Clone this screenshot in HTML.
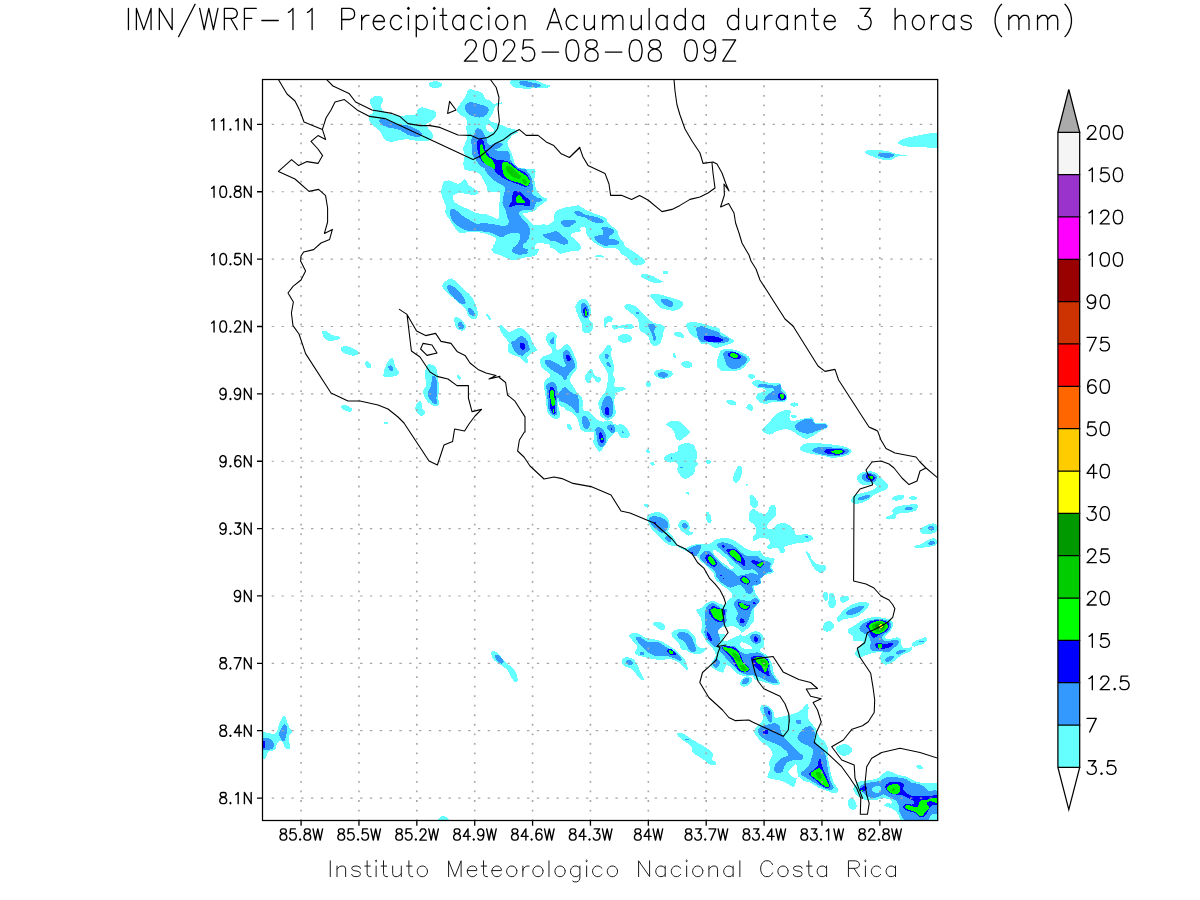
<!DOCTYPE html><html><head><meta charset="utf-8"><title>IMN WRF</title><style>html,body{margin:0;padding:0;background:#fff;font-family:"Liberation Sans",sans-serif}svg{display:block}</style></head><body>
<svg width="1200" height="900" viewBox="0 0 1200 900">
<rect width="1200" height="900" fill="#fff"/>
<clipPath id="cp"><rect x="262.5" y="79.5" width="675.2" height="741.0"/></clipPath>
<g clip-path="url(#cp)" shape-rendering="crispEdges"><path d="M370 100C370.6 99.1 372.3 97.3 374 96.6C375.7 95.9 378.2 95.4 380 96C381.8 96.6 383.4 98.1 383.6 100C383.8 101.9 381.1 103 381 105C380.9 107 381.4 109.4 383 111C384.6 112.6 387.4 113.2 390 114C392.6 114.8 397.2 115.8 400 116C402.8 116.2 405.2 115.3 408 115C410.8 114.7 414.4 115 416 114C417.6 113 417 110.1 418 109C419 107.9 420.5 107.3 422 107.4C423.5 107.5 427.8 108.7 430 109.4C432.2 110.1 434.9 110.2 436 112C437.1 113.8 436.1 116.2 435 118C433.9 119.8 431.4 120.9 430 122C428.6 123.1 425.7 123.3 426 125C426.3 126.7 431.2 131.4 432 133C432.8 134.6 433.8 136.4 433 138C432.2 139.6 430 140.6 428 141C426 141.4 421.5 141.3 418 141C414.5 140.7 410.8 139.6 408 139.4C405.2 139.2 402.8 139.6 400 140C397.2 140.4 393.7 142.2 391 142C388.3 141.8 385.7 140.6 384 139C382.3 137.4 382.4 134.9 381 133C379.6 131.1 376.8 128.8 375 127C373.2 125.2 371 123.9 370 122C369 120.1 368.4 117.9 369 116C369.6 114.1 372.4 113.7 373 112C373.6 110.3 372.5 108.5 372 107C371.5 105.5 370.3 104 370 103C369.7 102 369.4 100.9 370 100Z" fill="#66ffff"/><path d="M442 84.6C442 85.3 441.6 85.9 441.1 86.3C440.6 86.7 439.6 87.3 438.7 87.5C437.8 87.8 436.6 88 435.4 88C434.2 88 433 87.8 432.1 87.5C431.2 87.3 430.2 86.7 429.7 86.3C429.2 85.9 428.8 85.3 428.8 84.6C428.8 83.9 429.2 83.3 429.7 82.9C430.2 82.5 431.2 81.9 432.1 81.7C433 81.4 434.2 81.2 435.4 81.2C436.6 81.2 437.8 81.4 438.7 81.7C439.6 81.9 440.6 82.5 441.1 82.9C441.6 83.3 442 83.9 442 84.6Z" fill="#66ffff"/><path d="M468.8 89.4C470.7 88.4 472.8 90 475 90.6C477.2 91.2 480.7 91.8 482.5 93.1C484.3 94.5 484.4 97.6 485.6 98.8C486.8 99.9 488.6 99.8 490 100.6C491.4 101.5 492.1 103.5 493.8 103.8C495.4 104 500.8 102 502.5 102.5C504.2 103 499.2 104.4 498.1 105C497 105.6 495.7 105.8 495 106.9C494.3 107.9 494 110.6 493.1 112.5C492.2 114.4 490.5 116.7 490 117.5C489.5 118.3 488.2 119.2 488.8 120C489.3 120.8 491.9 121.8 493.8 122.5C495.6 123.2 497.9 123.6 500 124.4C502.1 125.2 504.8 126.6 507.5 127.5C510.2 128.4 515.4 129.6 516.2 130C517.1 130.4 518.1 131.7 517.5 132.5C516.9 133.3 513.7 134 512.5 135C511.3 136 510.9 137.4 510 138.8C509.1 140.1 507.7 140.9 507.5 142.5C507.3 144.1 508.1 145.8 508.8 147.5C509.4 149.2 510.5 150.7 511.2 152.5C512 154.3 512.4 156.2 513.1 158.1C513.8 160.1 514.7 164.4 516.2 166.2C517.8 168.1 520.4 168.5 522.5 169.4C524.6 170.2 526.9 170 528.8 171.2C530.6 172.5 531.6 174.3 532.5 176.2C533.4 178.2 534.2 181.1 534.4 183.8C534.6 186.4 536.5 191.2 533.8 192C531 192.8 510.7 192 505 192C499.3 192 491.2 192.9 488.8 192C486.3 191.1 487.3 187.3 486.2 185C485.2 182.7 483.5 180.5 482.5 178.8C481.5 177 481.6 174.9 480 173.8C478.4 172.6 475.1 172 472.5 171.2C469.9 170.5 466.8 171.1 465 169.4C463.2 167.7 463.5 165 463.5 162.5C463.5 160 465.1 156.9 465 155C464.9 153.1 463.2 151.8 463.1 150C463 148.2 463.8 146.7 464.4 145C464.9 143.3 466.5 140 466.9 138.8C467.3 137.5 467.6 136.3 467.5 135C467.4 133.7 466.2 129.3 466.2 127.5C466.2 125.7 467.7 124.3 467.5 122.5C467.3 120.7 466.4 118.9 465 117.5C463.6 116.1 461.4 116.3 460 115C458.6 113.7 457 112 456.9 110C456.8 108 458.3 106.7 459.4 105C460.4 103.3 462 101.7 463.1 100C464.3 98.3 465.3 96.8 466.2 95C467.2 93.2 466.8 90.3 468.8 89.4Z" fill="#66ffff"/><path d="M443.8 181.2C444.9 180.6 447.8 180.3 450 180.6C452.2 181 456.1 184 458.8 183.8C461.4 183.5 462.7 179.1 465 179.4C467.3 179.7 467 183.4 468.8 185C470.5 186.6 475.3 189.2 476.2 190C477.2 190.8 478.7 192 478.1 193.1C477.6 194.3 475.4 194.9 473.8 195C472.1 195.1 468.9 194.1 466.2 193.8C463.6 193.4 460.6 192.9 458.8 193.1C456.9 193.3 454.9 193.6 453.8 195C452.6 196.4 452.3 198.4 453.1 200C453.9 201.6 456.5 203.6 458.8 205C461 206.4 464.5 207.3 467.5 208.8C470.5 210.2 473 212.1 476.2 213.1C479.5 214.1 483 213.5 486.2 214.4C489.5 215.2 493.7 217.7 495 218.1C496.3 218.5 498.3 219.4 498.8 218.1C499.2 216.9 498.6 210.6 498.8 207.5C498.9 204.4 499.8 201.4 500 198.8C500.2 196.1 500.9 192.9 500 191.2C499.1 189.6 496.7 190.1 495 189.4C493.3 188.7 490.4 188.2 488.8 186.9C487.1 185.6 486.4 183.8 485.6 181.9C484.8 180 485.3 176.9 483.8 175C482.2 173.1 479.7 173 477.5 171.9C475.3 170.8 468.8 168.9 471.2 168.8C473.7 168.6 529.9 168.1 533.8 168.8C537.6 169.4 534 176.5 534.4 180C534.8 183.5 534.8 187.1 536.2 190C537.7 192.9 541 195.6 542.5 196.9C544 198.1 547.5 197.4 547.5 199.4C547.5 201.3 544.2 202.4 542.5 203.8C540.8 205.1 538.9 206.3 537.5 207.5C536.1 208.7 535.4 210.4 533.8 211.2C532.1 212.1 529.1 212 527.5 212.5C525.9 213 522.9 212.7 523.1 214.4C523.4 216 527 218.2 528.8 220C530.5 221.8 531.4 224.2 533.8 225C536.1 225.8 539.4 224.6 542.5 224.4C545.6 224.2 551.1 226 553.8 223.8C556.4 221.5 553.4 216.3 555 213.8C556.6 211.2 559.7 210.6 562.5 209.4C565.3 208.2 568.2 207.4 571.2 206.9C574.3 206.3 577.8 204.1 580 206.2C582.2 208.4 581.9 213.9 581.9 217.5C581.9 221.1 581 225.3 580 227.5C579 229.7 576.4 231.4 575 232.5C573.6 233.6 570.6 233.2 570.6 235C570.6 236.8 573.5 237.8 575 239.4C576.5 241 579.3 243.4 580 245C580.7 246.6 581.4 249 580 250C578.6 251 574.3 250.7 571.2 251.2C568.2 251.8 563.9 253.3 562.5 253.1C561.1 253 561.1 250.8 560 250C558.9 249.2 556.8 248.3 555 247.5C553.2 246.7 549.5 244.4 546.2 243.8C543 243.1 538.2 242.7 536.2 243.8C534.3 244.8 534.8 248.6 535 250C535.2 251.4 537.8 251.8 537.5 253.1C537.2 254.5 535.4 255.7 533.8 256.2C532.1 256.8 528 256.9 525 257.5C522 258.1 516.8 259.8 515 260C513.2 260.2 511.7 259.9 510 259.4C508.3 258.8 502.8 256.5 500 255C497.2 253.5 493.5 252.6 492.5 250C491.5 247.4 494.6 244 495 242.5C495.4 241 496.5 239.4 495.6 238.1C494.8 236.8 492.1 235.8 490 235C487.9 234.2 483.6 233 480 232.5C476.4 232 471.8 231.8 468.8 231.9C465.7 232 462.9 234.2 460 233.1C457.1 232 455.3 228.3 453.8 226.2C452.2 224.2 451.4 222.2 450 220C448.6 217.8 445.5 214.2 445 212.5C444.5 210.8 446.5 209.3 446.2 207.5C446 205.7 443.2 199.6 442.5 197.5C441.8 195.4 441.2 193.5 441.2 191.2C441.2 189 442.2 186.3 442.5 185C442.8 183.7 442.6 181.9 443.8 181.2Z" fill="#66ffff"/><path d="M555 212.5C557 210.1 561.2 208.5 565 207.5C568.8 206.5 575.8 205.9 578.8 206.2C581.7 206.6 583.6 208.8 586.2 210C588.9 211.2 591.9 212.5 595 213.8C598.1 215 602.9 216 605 217.5C607.1 219 607 221.9 608.8 223.8C610.5 225.6 616.2 229.1 617.5 230.6C618.8 232.2 617.8 234.5 618.8 236.2C619.7 238 623 241.3 623.8 242.5C624.5 243.7 624 245.3 625 246.2C626 247.2 629.1 248.6 631.2 250C633.4 251.4 638.2 255 640 256.2C641.8 257.5 644.4 258.8 645 260C645.6 261.2 644.9 263 643.8 263.8C642.6 264.5 638.2 265.7 636.2 265.6C634.3 265.5 632.7 264.5 631.2 263.1C629.8 261.8 629.2 259.1 627.5 257.5C625.8 255.9 622.9 255.2 621.2 253.8C619.6 252.3 619.5 249.7 617.5 248.8C615.5 247.8 612.6 248.3 610 248.1C607.4 247.9 604.9 248.3 602.5 247.5C600.1 246.7 598.3 245.2 596.2 243.8C594.2 242.3 591.5 240.3 590 238.8C588.5 237.2 586.9 235.4 586.2 233.8C585.6 232.1 586.8 229.9 586.2 228.8C585.7 227.6 584.3 227 583.1 226.9C582 226.8 580.6 227.2 580 228.1C579.4 229.1 581.5 230.5 580.6 231.2C579.8 232 576.7 231.9 575 232.5C573.3 233.1 570.6 233.2 570.6 235C570.6 236.8 573.5 237.8 575 239.4C576.5 241 579.6 243.1 580 245C580.4 246.9 579.2 249 577.5 250C575.8 251 571 251.3 568.8 251.2C566.5 251.2 563.8 249 562.5 249.4C561.2 249.8 563.4 252.2 562.5 253.1C561.6 254.1 559.9 253.7 558.8 253.1C557.6 252.5 554.9 249.6 553.8 248.8C552.6 247.9 550.3 248.3 550 246.9C549.7 245.4 548.4 227.2 548.8 225C549.1 222.8 552.8 223.2 553.8 221.2C554.7 219.3 553 214.9 555 212.5Z" fill="#66ffff"/><path d="M595 256.2C595.2 255.3 596.9 254.8 598.1 254.8C599.3 254.8 603.2 255.9 603.8 256.2C604.3 256.6 603.1 257.4 602.5 257.5C601.9 257.6 598.4 257.4 597.5 257.2C596.6 257.1 594.8 257.2 595 256.2Z" fill="#66ffff"/><path d="M641.2 275.2C642.5 272.8 647.6 274.5 650 275C652.4 275.5 654.1 277 656.2 278.1C658.4 279.2 661.9 280.5 662.5 281.2C663.1 282 661 282.6 660 282.8C659 282.9 654.4 282.9 652.5 282.5C650.6 282.1 649.1 281.1 647.5 280C645.9 278.9 640 277.7 641.2 275.2Z" fill="#66ffff"/><path d="M663.1 271.2L667.5 271.2L667.5 274.4L663.1 274.4Z" fill="#66ffff"/><path d="M898 142C898.8 141.2 903 139 906 138C909 137 912.5 136.7 916 136C919.5 135.3 922.4 134.3 926 134C929.6 133.7 938.5 131.1 942 134C945.5 136.9 945.9 144.7 942 147C938.1 149.3 924.9 147.1 920 147C915.1 146.9 908.2 146.7 906 146.4C903.8 146.1 901 145.2 900 144.6C899 144 897.2 142.8 898 142Z" fill="#66ffff"/><path d="M865 151.4C866 150.2 869.5 150 872 150C874.5 150 885.1 150.5 888 151C890.9 151.5 893.1 153.4 896 154C898.9 154.6 906.5 154.9 907 155C907.5 155.1 907.5 156.3 907 156.4C906.5 156.5 899 156.2 897 156.6C895 157 894 159.1 892 159.6C890 160.1 886.8 160.4 884 160C881.2 159.6 876.1 157.7 874 157C871.9 156.3 869.3 155.4 868 154.6C866.7 153.8 864 152.6 865 151.4Z" fill="#66ffff"/><path d="M322 332C322.2 330.6 324.6 330.6 326 331C327.4 331.4 329.7 334.1 332 335C334.3 335.9 338.1 335.5 339 336C339.9 336.5 340.5 338.4 339.6 339C338.7 339.6 333.2 341 331 341C328.8 341 326.6 340.6 325 339C323.4 337.4 321.8 333.4 322 332Z" fill="#66ffff"/><path d="M340.4 349C340.4 346.8 343.8 346 346 346C348.2 346 352 347.9 354 349C356 350.1 359 351 359 353C359 355 356 355.4 354 355.6C352 355.8 348.4 355.1 346 354C343.6 352.9 340.4 351.2 340.4 349Z" fill="#66ffff"/><path d="M365.4 362C365.8 361.2 367.2 361.1 368 361.6C368.8 362.1 371.4 364.7 371.6 366C371.8 367.3 370.3 368.6 369 368.6C367.7 368.6 366.7 367.2 366 366C365.3 364.8 365 362.8 365.4 362Z" fill="#66ffff"/><path d="M383.4 376C383.3 375 383.8 370.6 385 368C386.2 365.4 388.4 358.6 391.4 358C394.4 357.4 393.7 363.5 395 366C396.3 368.5 399.2 370.9 399 373C398.8 375.1 396 375.8 394 376.4C392 377 387 377 386 377C385 377 383.5 377 383.4 376Z" fill="#66ffff"/><path d="M426 368C426.9 366.2 428 364 430 364C432 364 434.7 365.8 436 368C437.3 370.2 437.5 374.5 438 378C438.5 381.5 439 387.2 439 390C439 392.8 437.9 395.8 438 398C438.1 400.2 439.7 402.6 439.4 404C439.1 405.4 437.4 406.5 436 406.4C434.6 406.3 430.8 404.4 429 403C427.2 401.6 426 400 425 398C424 396 422.8 393 423 391C423.2 389 425.8 388 426 386C426.2 384 425 376.1 425 374C425 371.9 425.1 369.8 426 368Z" fill="#66ffff"/><path d="M415 408C415.4 406.4 417.5 401 420 401C422.5 401 421.2 406.1 422 408C422.8 409.9 425.2 411.3 425 413C424.8 414.7 422.7 416.1 421 416C419.3 415.9 418 413.8 417 412.4C416 411 414.6 409.6 415 408Z" fill="#66ffff"/><path d="M341 406.4C341.6 404.9 344.2 404.6 346 405C347.8 405.4 351.4 407.9 352 409C352.6 410.1 351.3 411.8 350 412C348.7 412.2 345.4 410.9 344 410C342.6 409.1 340.4 407.9 341 406.4Z" fill="#66ffff"/><path d="M383.6 422.4L388 422.4L388 424L383.6 424Z" fill="#66ffff"/><path d="M457 375.6C457.2 374.9 458.4 374.5 459 375C459.6 375.5 461.3 378 461 379C460.7 380 458.8 379.7 458 379C457.2 378.3 456.8 376.3 457 375.6Z" fill="#66ffff"/><path d="M442 286C442.2 284.3 444.2 282.3 446 281C447.8 279.7 449.9 277.8 452 278.6C454.1 279.4 457.2 283.4 460 286C462.8 288.6 467.8 292.5 470 295C472.2 297.5 473.7 300 475 303C476.3 306 478 312 478 314C478 316 476.9 318.4 475 319C473.1 319.6 470.5 318.6 469 317C467.5 315.4 466.3 309.8 465 308C463.7 306.2 461.7 305.4 460 304C458.3 302.6 454.5 299.4 452 297C449.5 294.6 446.2 291.3 445 290C443.8 288.7 441.8 287.7 442 286Z" fill="#66ffff"/><path d="M454 319C454.3 317.8 455.7 316.8 457 317C458.3 317.2 460.6 318.5 462 320C463.4 321.5 465.8 325.4 466 327C466.2 328.6 464.6 330.2 463 330.6C461.4 331 458.5 330.2 457 329C455.5 327.8 455.5 325.7 455 324C454.5 322.3 453.7 320.2 454 319Z" fill="#66ffff"/><path d="M486 315C485.8 314.2 487.4 313.5 488 314C488.6 314.5 490.8 318.4 491 319C491.2 319.6 490.1 320.4 489.6 320C489.1 319.6 486.2 315.8 486 315Z" fill="#66ffff"/><path d="M492 249C493.6 248.9 535.8 248.7 538 249C540.2 249.3 537.8 253.8 536 255C534.2 256.2 529.5 256.2 526 257C522.5 257.8 518.3 260.2 514 260C509.7 259.8 504.8 257 502 256C499.2 255 495.3 253.9 494 253C492.7 252.1 490.4 249.1 492 249Z" fill="#66ffff"/><path d="M556 250C557 249.3 561 249.6 562 250C563 250.4 563.9 252.4 563 253C562.1 253.6 560.2 252.5 559 252C557.8 251.5 555 250.7 556 250Z" fill="#66ffff"/><path d="M650 295C651.2 293.1 655.2 293.6 658 294C660.8 294.4 668 296.6 672 298C676 299.4 681.8 300 683 303C684.2 306 679.9 308.7 677 310C674.1 311.3 671.1 310.5 668 310C664.9 309.5 661.5 308.8 659 307C656.5 305.2 655.3 301.8 654 300C652.7 298.2 648.8 296.9 650 295Z" fill="#66ffff"/><path d="M575.6 305C576.3 303.4 578.1 301 580 300C581.9 299 584.2 298.5 586 299.6C587.8 300.7 589.1 303.5 590 306C590.9 308.5 591.1 312.1 591 314C590.9 315.9 588.6 317.2 589 319C589.4 320.8 592.4 321.9 593 324C593.6 326.1 592.6 328.6 592 330C591.4 331.4 590.4 332.7 589 333C587.6 333.3 584.3 333.7 583 332C581.7 330.3 582.6 326.3 582 324C581.4 321.7 579.9 320.2 579 318C578.1 315.8 576.4 311.7 576 310C575.6 308.3 574.9 306.6 575.6 305Z" fill="#66ffff"/><path d="M624.4 306C625.1 304.5 627.9 303.7 630 304C632.1 304.3 635.6 306 638 308C640.4 310 643.4 314.6 646 317C648.6 319.4 650.9 321.4 654 323C657.1 324.6 662.2 323.8 664 326C665.8 328.2 663.5 331.2 663 334C662.5 336.8 662.1 340.1 661 342C659.9 343.9 657.8 345.6 656 346C654.2 346.4 652.2 345.5 651 344C649.8 342.5 649.8 338.4 648 336C646.2 333.6 641.9 333 640 330C638.1 327 639.3 322.7 638 320C636.7 317.3 633.7 315.5 632 314C630.3 312.5 628.2 311.2 627 310C625.8 308.8 623.7 307.5 624.4 306Z" fill="#66ffff"/><path d="M604 319C604.6 317.4 606.3 316.2 608 316C609.7 315.8 612.3 316.6 613 318C613.7 319.4 612.1 321.1 611 322C609.9 322.9 608 321.9 607 323C606 324.1 606.6 327 606 327.6C605.4 328.2 604.2 326.9 604 326C603.8 325.1 603.4 320.6 604 319Z" fill="#66ffff"/><path d="M612 325.6C613.3 324.7 617.2 325.8 620 325.6C622.8 325.4 628.3 323.8 630 324C631.7 324.2 634.6 325.4 634 327C633.4 328.6 630.2 328.8 628 329C625.8 329.2 622.2 327.9 620 328C617.8 328.1 615.5 330 614 329.6C612.5 329.2 610.7 326.5 612 325.6Z" fill="#66ffff"/><path d="M617.6 337C618.5 335.8 621.5 334.2 624 334C626.5 333.8 629.8 334.8 631 336C632.2 337.2 632.2 339.8 631 341C629.8 342.2 625.9 343 624 343C622.1 343 620.1 342 619 341C617.9 340 616.7 338.2 617.6 337Z" fill="#66ffff"/><path d="M674 333C674.6 332.2 676.5 331.4 678 331.6C679.5 331.8 682.1 333.1 683 334C683.9 334.9 685 336.8 684 337.6C683 338.4 680.4 337.3 679 337C677.6 336.7 675.8 336.2 675 335.6C674.2 335 673.4 333.8 674 333Z" fill="#66ffff"/><path d="M686 325C686.4 323.3 688.3 322.2 690 322C691.7 321.8 696.6 322.3 700 323C703.4 323.7 706.6 324.8 710 326C713.4 327.2 718.3 326.6 720 330C721.7 333.4 722.1 343.1 720 346C717.9 348.9 713.4 345.2 710 344C706.6 342.8 702.7 340.2 700 339C697.3 337.8 694 337.5 692 336C690 334.5 688.9 331.7 688 330C687.1 328.3 685.6 326.7 686 325Z" fill="#66ffff"/><path d="M673 354C673.2 353.3 674.6 353 675 353.6C675.4 354.2 676.3 357.2 676 358C675.7 358.8 674.1 358.3 673.6 357.6C673.1 356.9 672.8 354.7 673 354Z" fill="#66ffff"/><path d="M681 363C681.7 362.1 684.1 361 686 361C687.9 361 690.6 362 691.6 363C692.6 364 692.6 366.1 691.6 367C690.6 367.9 687.6 368.2 686 368C684.4 367.8 682.8 366.8 682 366C681.2 365.2 680.3 363.9 681 363Z" fill="#66ffff"/><path d="M654 372C654.7 370.5 657.1 369.9 659 369.6C660.9 369.3 666 369.5 668 370C670 370.5 672.5 371.3 673 373C673.5 374.7 671.5 376.2 670 377C668.5 377.8 664.3 379.1 662 379C659.7 378.9 657.3 377.5 656 376.4C654.7 375.3 653.3 373.5 654 372Z" fill="#66ffff"/><path d="M646 383C646.5 382.1 647.8 380.7 649 381C650.2 381.3 651 383.3 651 384.4C651 385.5 649.9 386.7 649 387C648.1 387.3 647 386.8 646.4 386C645.8 385.2 645.5 383.9 646 383Z" fill="#66ffff"/><path d="M486 314.4C485.8 313.9 487.2 313.6 487.6 314C488 314.4 490.8 318.4 491 319C491.2 319.6 490 320.4 489.6 320C489.2 319.6 486.2 314.9 486 314.4Z" fill="#66ffff"/><path d="M499.4 326.2C499.7 325.2 501.5 325.1 502.5 325.6C503.5 326.2 506.5 331.2 508.8 331.9C511 332.6 512.9 330 515 329.4C517.1 328.7 519.1 327.6 521.2 328.1C523.4 328.7 525.8 330.6 527.5 332.5C529.2 334.4 530.2 336.6 531.2 338.8C532.3 340.9 532.8 343.2 533.8 345C534.7 346.8 537.2 348.3 536.9 350C536.6 351.7 533.9 351.4 532.5 352.5C531.1 353.6 528.2 355.9 527.5 357.5C526.8 359.1 528.4 361.6 528.1 362.5C527.8 363.4 526.4 363.6 525.6 363.1C524.9 362.7 521.9 358.8 520 357.5C518.1 356.2 515.5 355.8 513.8 355C512 354.2 509.9 354.1 508.8 352.5C507.6 350.9 507.5 348.5 507.5 346.9C507.5 345.3 509.3 344 508.8 342.5C508.2 341 505 337.9 503.8 336.2C502.5 334.6 501.3 332.9 500.6 331.2C499.9 329.6 499 327.3 499.4 326.2Z" fill="#66ffff"/><path d="M546.2 336.2C546.7 335 547.5 333.8 548.8 333.1C550 332.5 552.2 331.9 553.8 332.5C555.3 333.1 556.6 334.6 556.9 336.2C557.2 337.9 555.5 340.3 555.6 342.5C555.7 344.7 555.8 348.9 557.5 350C559.2 351.1 560.7 347.8 562.5 346.9C564.3 345.9 566.2 343.5 568.1 344.4C570.1 345.2 571.2 348.7 572.5 351.2C573.8 353.8 575.5 357.5 576.2 360C577 362.5 577.7 365.9 577.5 367.5C577.3 369.1 575.9 370 575 371.2C574.1 372.5 572.1 374.6 571.2 376.2C570.4 377.9 569.8 379.7 570 381.2C570.2 382.8 571.7 383.7 572.5 385C573.3 386.3 574.8 389.2 576.2 391.2C577.7 393.3 580.1 395.1 581.2 397.5C582.4 399.9 582.2 403.3 582.5 405C582.8 406.7 581.9 408.8 583.1 410C584.4 411.2 587 410.2 588.8 411.2C590.5 412.3 591.9 414.6 593.8 416.2C595.6 417.9 597.4 420.3 600 421.2C602.6 422.2 608.1 421.5 610 421.9C611.9 422.3 613.2 423.7 615 424.4C616.8 425 620.5 424.9 622.5 426.2C624.5 427.6 628.6 431.6 626.2 432C623.9 432.4 589.5 432.1 587.5 432C585.5 431.9 583.3 431.6 581.9 430.6C580.4 429.6 580 427.9 579.4 426.2C578.8 424.6 578.4 420.7 577.5 418.8C576.6 416.8 575.4 415.2 573.8 413.8C572.1 412.3 569.3 411.2 567.5 410C565.7 408.8 563.9 407.9 562.5 406.2C561.1 404.6 561.1 400.5 559.4 400C557.6 399.5 558 403.2 558.1 405C558.2 406.8 559.8 410.7 560 412.5C560.2 414.3 560.4 416.3 559.4 417.5C558.4 418.7 556.6 419.1 555 418.8C553.4 418.4 551.4 417.1 550 415.6C548.6 414.1 547.4 412.2 546.9 410C546.3 407.8 546.6 404.3 546.2 401.2C545.9 398.2 545.4 395.1 545 392.5C544.6 389.9 543.7 386.9 543.8 385C543.8 383.1 544.6 381.6 545.6 380C546.7 378.4 549.9 377.6 550 375.6C550.1 373.6 547.6 372.7 546.2 371.2C544.9 369.8 542.3 368.2 541.2 366.2C540.2 364.3 539.5 361.8 540 360C540.5 358.2 542.1 357.2 543.8 356.2C545.4 355.3 550.1 354.6 551.2 353.8C552.4 352.9 552.9 351.3 552.5 350C552.1 348.7 549.8 346.7 548.8 345C547.7 343.3 546.6 341.3 546.2 340C545.9 338.7 545.8 337.5 546.2 336.2Z" fill="#66ffff"/><path d="M603.1 351.2C604.4 349.7 606.3 345.5 608.1 345C609.9 344.5 611.4 346.9 611.9 348.8C612.3 350.6 610.4 352.8 610.6 355C610.8 357.2 612.6 358.9 613.1 361.2C613.6 363.6 613.8 368.2 613.8 370C613.8 371.8 612.8 373.3 613.1 375C613.5 376.7 615.4 378.1 615.6 380C615.8 381.9 612.6 384.8 614.4 386.2C616.1 387.7 623.9 386 625.6 388.1C627.3 390.3 620 391.2 618.8 391.9C617.5 392.6 615.8 392.5 615 393.8C614.2 395 613.1 397.7 613.1 400C613.1 402.3 614.6 405.3 615 407.5C615.4 409.7 616.2 411.6 615.6 413.8C615 415.9 613.4 417.9 611.9 418.8C610.4 419.6 608.6 419.2 606.9 418.8C605.2 418.3 603.6 417.6 602.5 416.2C601.4 414.9 600.7 412.2 600 410C599.3 407.8 597.8 405 598.1 402.5C598.5 400 600.7 398.1 601.9 396.2C603.1 394.4 604.7 393.2 605.6 391.2C606.5 389.3 606.4 387.2 606.9 385C607.3 382.8 608 380.9 608.1 378.8C608.2 376.6 608.2 374.6 607.5 372.5C606.8 370.4 605.1 368.4 603.8 366.2C602.4 364.1 600.6 361.4 600 360C599.4 358.6 598.9 357.1 599.4 355.6C599.9 354.2 601.8 352.8 603.1 351.2Z" fill="#66ffff"/><path d="M585.6 375C586.2 373.8 589.3 369.9 590 369.4C590.7 368.8 591.9 369.3 592.5 370C593.1 370.7 593.1 373.7 594.4 375C595.7 376.3 599.2 376.9 600 377.5C600.8 378.1 601.5 379.1 601.2 380C601 380.9 599.9 382.2 598.8 382.5C597.6 382.8 596.5 382 595.6 381.2C594.7 380.5 594 377.9 593.1 377.5C592.2 377.1 591.1 377.9 590.6 378.8C590.1 379.6 590.7 381.7 590 382.5C589.3 383.3 587.8 383.8 586.9 383.1C586 382.4 585.5 380.1 585.2 378.8C585 377.4 585 376.2 585.6 375Z" fill="#66ffff"/><path d="M566.9 425.6C566.8 424.5 568.4 423.2 569.4 423.8C570.3 424.3 572.4 427.9 572.5 428.8C572.6 429.6 570.8 429.8 570 429.4C569.2 428.9 567 426.7 566.9 425.6Z" fill="#66ffff"/><path d="M510 81C511.2 80.2 516.5 79.5 520 79.4C523.5 79.3 530.3 79.3 534 80C537.7 80.7 541.9 83.1 544 84C546.1 84.9 551.6 85 550 86.6C548.4 88.2 543.5 87.7 540 88C536.5 88.3 532.2 88.6 528 88.6C523.8 88.6 518 88.4 516 88C514 87.6 511.9 86.1 511 85C510.1 83.9 508.8 81.8 510 81Z" fill="#66ffff"/><path d="M699 324C700.7 321.2 704.9 325.8 708 327C711.1 328.2 716.3 330.2 720 332C723.7 333.8 728.4 336.9 730 338C731.6 339.1 734.9 340 734 341.6C733.1 343.2 728.9 344 726 345C723.1 346 719.1 348.2 716 348C712.9 347.8 711 345 708 344C705 343 700.3 344.9 699 342C697.7 339.1 697.3 326.8 699 324Z" fill="#66ffff"/><path d="M717 361C717.4 359.3 719.1 353.5 720 352C720.9 350.5 722.3 349.2 724 349C725.7 348.8 732.6 349.2 736 350C739.4 350.8 742.9 352.7 745 354C747.1 355.3 749.8 356.5 750 359C750.2 361.5 747.7 363.1 746 365C744.3 366.9 742.6 369 740 370C737.4 371 732.8 370.8 730 371C727.2 371.2 724.3 371.9 722 371C719.7 370.1 717.8 367.6 717 366C716.2 364.4 716.6 362.7 717 361Z" fill="#66ffff"/><path d="M748 375.6C748.5 374.8 750.2 373.9 751.6 374C753 374.1 754.7 374.9 755 376C755.3 377.1 754.1 378.2 753 378.6C751.9 379 749.8 378.5 749 378C748.2 377.5 747.5 376.4 748 375.6Z" fill="#66ffff"/><path d="M752.4 381.6C753.2 380.9 756 379.8 758 380C760 380.2 766.5 382.4 770 383C773.5 383.6 778.4 382.9 780 383.6C781.6 384.3 781.1 386.6 782 388C782.9 389.4 785.1 391.1 786 393C786.9 394.9 787.6 397.2 787 399C786.4 400.8 784.8 402 783 402.4C781.2 402.8 776.9 401.3 774 401.6C771.1 401.9 768.5 403.9 766 404C763.5 404.1 760.7 403.2 759 402C757.3 400.8 756 398.8 756 397C756 395.2 757.6 394 759 393C760.4 392 766.5 392.6 766 390C765.5 387.4 760 388.9 758 388C756 387.1 753.7 385.2 753 384.4C752.3 383.6 751.6 382.3 752.4 381.6Z" fill="#66ffff"/><path d="M726 401C726.7 400.6 730.1 399.4 732 400C733.9 400.6 736.4 402.2 736 404C735.6 405.8 732.6 405.2 731 405C729.4 404.8 727.6 403.5 727 403C726.4 402.5 725.3 401.4 726 401Z" fill="#66ffff"/><path d="M746.4 407C746.7 406.3 747.6 404.2 749 404C750.4 403.8 751.6 404.9 752.4 406C753.2 407.1 753.5 409.1 753 410C752.5 410.9 751.1 410.8 750 410.6C748.9 410.4 747.5 409.5 747 409C746.5 408.5 746.1 407.7 746.4 407Z" fill="#66ffff"/><path d="M790 404.4C790.4 403.7 792.4 402.4 794 402.4C795.6 402.4 798.1 403 798.4 404.4C798.7 405.8 796.2 406.3 795 406.6C793.8 406.9 792.3 406.3 791.6 406C790.9 405.7 789.6 405.1 790 404.4Z" fill="#66ffff"/><path d="M791 416C791 414.9 792.9 414.9 794 415C795.1 415.1 797 415.2 797 416.4C797 417.6 795.2 418.1 794 418C792.8 417.9 791 417.1 791 416Z" fill="#66ffff"/><path d="M707 513C707.7 512.1 709.4 513 710 514C710.6 515 711.7 519.9 711.6 521C711.5 522.1 710.1 523.4 709 523C707.9 522.6 706.3 520.7 706 519C705.7 517.3 706.3 513.9 707 513Z" fill="#66ffff"/><path d="M647 517C647.6 514.8 649.9 513.7 652 513C654.1 512.3 657.3 511.9 660 512.6C662.7 513.3 665.3 514.6 667 517C668.7 519.4 669.9 525.4 670 527C670.1 528.6 667.6 529.5 668 531C668.4 532.5 671.5 534.7 673 537C674.5 539.3 677.2 543.2 677 545C676.8 546.8 673.8 546.3 672 546C670.2 545.7 667.9 544.4 666 543C664.1 541.6 662.2 539 660 537C657.8 535 654.8 533.2 653 531C651.2 528.8 650 526.3 649 524C648 521.7 646.4 519.2 647 517Z" fill="#66ffff"/><path d="M678 525C678.3 523.5 680.4 520.7 682 520C683.6 519.3 685.7 519.8 687 521C688.3 522.2 689.7 525.6 690 527C690.3 528.4 688.4 529.7 689 531C689.6 532.3 693.3 531.5 693 533C692.7 534.5 690 535.8 688 535.6C686 535.4 684.1 532.9 683 532C681.9 531.1 680.9 530.2 680 529C679.1 527.8 677.7 526.5 678 525Z" fill="#66ffff"/><path d="M559.4 394.4C562.6 392.6 576.5 393.8 578.8 394.4C581 394.9 581.7 397.9 582.5 400C583.3 402.1 583.3 404.8 583.1 406.2C582.9 407.7 580.3 408.9 581.2 410C582.2 411.1 585.5 410.2 587.5 411.2C589.5 412.3 590.9 414.8 592.5 416.2C594.1 417.7 595.9 419.1 597.5 420C599.1 420.9 600.7 421.8 602.5 421.9C604.3 422 605.7 420.6 607.5 420.6C609.3 420.6 611.1 420.8 612.5 421.9C613.9 422.9 613.6 425.7 615 426.2C616.4 426.8 617.3 424.6 618.8 424.4C620.2 424.2 622.2 424.1 623.8 425C625.3 425.9 627.1 428.4 628.1 430C629.1 431.6 630 433.9 630 435C630 436.1 629.1 437.1 628.1 437.5C627.1 437.9 624.2 438.6 622.5 438.1C620.8 437.7 619.7 436.3 618.8 435C617.8 433.7 617.6 431.1 616.9 430.6C616.1 430.1 615.7 431.8 615 432.5C614.3 433.2 613.4 434.1 612.5 435C611.6 435.9 609.8 437.2 608.8 438.8C607.7 440.3 607.3 442.1 606.2 443.8C605.2 445.4 603.4 447.6 602.5 448.8C601.6 449.9 601.4 451.9 600 451.9C598.6 451.9 597.8 450 596.9 448.8C596 447.5 593.6 444.7 593.1 442.5C592.7 440.3 594.3 438 594.4 436.2C594.5 434.5 594.2 432.4 593.8 431.2C593.3 430.1 592.5 428.8 591.2 428.8C590 428.8 587.9 431.1 586.2 431.2C584.6 431.4 583.1 430.5 581.9 429.4C580.6 428.3 579.9 426.7 579.4 425C578.8 423.3 579 421.4 578.8 420C578.5 418.6 578.3 417.4 577.5 416.2C576.7 415.1 574.1 412 572.5 411.2C570.9 410.5 569.1 411.9 567.5 411.2C565.9 410.6 565.1 408.6 563.8 407.5C562.4 406.4 559.9 406.7 559.4 405C558.8 403.3 556.1 396.2 559.4 394.4Z" fill="#66ffff"/><path d="M598.1 402.5C598.2 400.4 600.5 398.7 601.2 397.5C602 396.3 602.4 394.7 603.8 394.4C605.1 394.1 613 393 615 394.4C617 395.8 613.8 399 613.8 401.2C613.8 403.5 614.7 405.3 615 407.5C615.3 409.7 616 412.1 615.6 413.8C615.2 415.4 613.8 416.4 612.5 417.5C611.2 418.6 609.3 420.5 607.5 420.6C605.7 420.7 604.4 419.1 603.1 418.1C601.9 417.2 600.4 416.5 600 415C599.6 413.5 601 410.9 600.6 408.8C600.3 406.6 598 404.6 598.1 402.5Z" fill="#66ffff"/><path d="M566.9 425.6C567.3 424.8 568.5 423.9 569.4 424.4C570.2 424.9 572.4 427.8 572.5 428.8C572.6 429.7 571 430.1 570 430C569 429.9 568 428.9 567.5 428.1C567 427.4 566.5 426.4 566.9 425.6Z" fill="#66ffff"/><path d="M666.2 423.8C666.7 423.3 669.3 421.7 671.2 421.2C673.2 420.8 675.4 420.4 677.5 421C679.6 421.6 681.4 422.9 683.1 424.4C684.9 425.9 689.5 430.6 690 431.9C690.5 433.2 688.6 434.1 687.5 435C686.4 435.9 681.4 440.2 680 440.6C678.6 441.1 677.1 440 676.2 438.8C675.4 437.5 675.2 434.2 674.4 432.5C673.6 430.8 672.6 429.3 671.2 428.1C669.9 426.9 667.4 426.1 666.9 425.6C666.4 425.2 665.8 424.2 666.2 423.8Z" fill="#66ffff"/><path d="M664.4 457.5C664.9 456.5 666.9 454.6 668.8 453.8C670.6 452.9 675.3 453.1 676.9 451.9C678.4 450.6 676.8 447.7 678.1 446.2C679.5 444.8 682.4 443.5 685 443.1C687.6 442.8 690.8 443.5 692.5 444.4C694.2 445.3 694.9 447 695.6 448.8C696.4 450.5 697.5 454.4 697.5 456.2C697.5 458.1 695.5 459.9 695.6 461.2C695.7 462.6 698.3 463 698.1 464.4C698 465.8 695.7 466.1 695 467.5C694.3 468.9 695.2 472 693.8 473.8C692.3 475.5 688 478.5 685.6 478.8C683.3 479 681.3 476.4 680 475C678.7 473.6 678 471.9 677.5 470C677 468.1 678.6 464.8 676.9 463.1C675.2 461.4 671.8 462.9 670 462.5C668.2 462.1 665.8 461.4 665 460.6C664.2 459.9 663.8 458.5 664.4 457.5Z" fill="#66ffff"/><path d="M646.2 450.6C646.4 449.8 647.3 448.3 648.1 448.8C649 449.2 650.1 451.6 650 452.5C649.9 453.4 648.3 453.1 647.5 452.8C646.7 452.4 646.1 451.5 646.2 450.6Z" fill="#66ffff"/><path d="M650.2 463.8C650.3 462.8 651.5 461.7 652.5 461.9C653.5 462 654.8 463.4 654.8 464.4C654.7 465.4 653.2 465.8 652.2 465.6C651.3 465.5 650.2 464.7 650.2 463.8Z" fill="#66ffff"/><path d="M686.2 492.5C686.6 492.1 688 491.4 688.8 491.9C689.5 492.4 689.2 493.9 688.8 494.4C688.3 494.9 687.3 494.3 686.9 494C686.4 493.7 685.9 492.9 686.2 492.5Z" fill="#66ffff"/><path d="M644.4 504.4C644.9 503.5 646.5 503.2 647.5 503.8C648.5 504.3 649.3 506.1 648.8 507C648.2 507.9 646.5 507.5 645.6 507C644.8 506.5 643.9 505.3 644.4 504.4Z" fill="#66ffff"/><path d="M706.9 461.2C707.3 460.6 709.1 459.3 710 460C710.9 460.7 710.4 463.2 710 463.8C709.6 464.3 708.7 463.6 708.1 463.1C707.6 462.7 706.5 461.9 706.9 461.2Z" fill="#66ffff"/><path d="M800 449C800 447.2 802 445 804 444C806 443 809.2 443 812 443C814.8 443 822.4 443.4 828 444C833.6 444.6 841.1 445.8 844 446.6C846.9 447.4 850.7 448.8 851.6 450.6C852.5 452.4 849.7 454 848 455C846.3 456 842.8 456.5 840 457C837.2 457.5 834.8 458.2 832 458C829.2 457.8 826.8 456.6 824 456C821.2 455.4 814.8 454.6 812 454C809.2 453.4 805.6 452.7 804 452C802.4 451.3 800 450.8 800 449Z" fill="#66ffff"/><path d="M705.6 461C705.9 459.8 708 459.8 709 460C710 460.2 711.2 461 711 462C710.8 463 709.2 464.2 708 464C706.8 463.8 705.3 462.2 705.6 461Z" fill="#66ffff"/><path d="M733 477C733.4 475.6 736.1 469.3 737 468C737.9 466.7 739.6 465.2 741 466C742.4 466.8 742.5 469.2 742.4 471C742.3 472.8 740.9 477.3 740 479C739.1 480.7 737.1 482.7 736 483C734.9 483.3 733.9 482 733.4 481C732.9 480 732.6 478.4 733 477Z" fill="#66ffff"/><path d="M745.6 485L748.6 483L747 486.6Z" fill="#66ffff"/><path d="M749.6 496C749.9 495 751.6 494.4 752.4 495C753.2 495.6 757.4 500.3 758 502C758.6 503.7 758.2 505.9 757 507C755.8 508.1 753.8 508.2 752.4 507.4C751 506.6 750.4 504.7 750 503C749.6 501.3 749.3 497 749.6 496Z" fill="#66ffff"/><path d="M706 513C706.2 512.1 707.8 511.3 708.4 512C709 512.7 711.5 517.3 711.6 519C711.7 520.7 710.4 522.7 709 523C707.6 523.3 706.8 521.3 706.4 520C706 518.7 705.8 513.9 706 513Z" fill="#66ffff"/><path d="M749 515C749.6 512.6 750.5 509.5 753 509C755.5 508.5 757.6 512.3 760 513C762.4 513.7 765 514.4 767 513C769 511.6 768.7 507.2 770 506C771.3 504.8 774 503.9 775 505.4C776 506.9 776.9 512.2 776 515C775.1 517.8 771.4 519.1 770 521C768.6 522.9 766.5 525.2 767 527C767.5 528.8 770.2 529.5 772 529C773.8 528.5 775.5 525 778 524C780.5 523 783.3 522.7 786 523.4C788.7 524.1 791.1 526 793 528C794.9 530 794.4 533.8 797 535C799.6 536.2 803.2 533.5 806 534C808.8 534.5 812.5 535.8 813 538C813.5 540.2 810.1 541.3 808 542C805.9 542.7 800.8 542.5 798 543C795.2 543.5 792.1 544.4 790 545C787.9 545.6 784.9 545.9 784 547C783.1 548.1 785.6 549.7 785 551C784.4 552.3 782.5 553.5 781 553C779.5 552.5 779.1 548.8 777 548C774.9 547.2 771.3 549.1 770 549C768.7 548.9 767 548.3 767 547C767 545.7 769.8 544.6 770 543C770.2 541.4 769.4 539.7 768 539C766.6 538.3 762.3 537.7 760 538C757.7 538.3 755.4 541.2 754 541C752.6 540.8 752.6 538.4 753 537C753.4 535.6 755.7 534.7 756 533C756.3 531.3 756 526.8 755 525C754 523.2 751 523.8 750 522C749 520.2 748.4 517.4 749 515Z" fill="#66ffff"/><path d="M805.6 551.4C805.4 550.1 808.2 552 809 553C809.8 554 811.1 558.9 813 561C814.9 563.1 818.1 564.3 820 565C821.9 565.7 824.5 564.6 825.6 566C826.7 567.4 826.1 569.6 825 571C823.9 572.4 821.8 573.5 820 573C818.2 572.5 815.8 570.1 814 568C812.2 565.9 811.3 563.5 810 561C808.7 558.5 805.8 552.7 805.6 551.4Z" fill="#66ffff"/><path d="M857.4 476C858 474.1 860.1 473.2 862 472.6C863.9 472 869.3 471 872 471.4C874.7 471.8 877.2 473.6 879 475C880.8 476.4 881.5 478.3 883 480C884.5 481.7 887.4 483.7 888 485C888.6 486.3 888.1 488 887 489C885.9 490 882.1 491 880 492C877.9 493 876 493.7 874 495C872 496.3 870.3 498.6 868 500C865.7 501.4 862.4 502.9 860 503.4C857.6 503.9 854.3 503.9 853 503.4C851.7 502.9 850.7 501.3 851 500C851.3 498.7 853.1 496.2 855 495C856.9 493.8 859.5 493.7 862 493C864.5 492.3 867.8 491.8 870 491C872.2 490.2 875.3 488.7 876 488C876.7 487.3 876.7 485.7 876 485C875.3 484.3 873.4 484 872 484C870.6 484 868.1 485.2 866 485C863.9 484.8 860.7 484.8 859 483C857.3 481.2 856.8 477.9 857.4 476Z" fill="#66ffff"/><path d="M892 498C892.5 497.4 895.1 495.8 897 495.4C898.9 495 902.9 494.7 904 495.4C905.1 496.1 904 498.2 903 499C902 499.8 898.4 500.5 897 500.6C895.6 500.7 893.7 500.4 893 500C892.3 499.6 891.5 498.6 892 498Z" fill="#66ffff"/><path d="M909 498C909.3 497.5 910.7 496.1 912 496C913.3 495.9 916.3 496.7 917 497.4C917.7 498.1 916.9 499.7 916 500C915.1 500.3 910.6 499.6 910 499.4C909.4 499.2 908.7 498.5 909 498Z" fill="#66ffff"/><path d="M892.4 510C893.1 508.8 895.1 507.3 897 506.6C898.9 505.9 902.8 505.4 906 505C909.2 504.6 914.8 503.8 916 504C917.2 504.2 918.2 505.8 918 507C917.8 508.2 916.5 510.1 915 511C913.5 511.9 910.5 512.3 908 512.6C905.5 512.9 901.7 512.5 900 513C898.3 513.5 896.7 515.1 896 516C895.3 516.9 896 518.5 895 519C894 519.5 891.5 519.6 890 519.4C888.5 519.2 886 519.5 886 518C886 516.5 889 516 890 515.4C891 514.8 892.5 515.1 893 514C893.5 512.9 891.7 511.2 892.4 510Z" fill="#66ffff"/><path d="M920 530C920.4 528.3 923 527.1 925 526C927 524.9 930.2 523.6 932 523.4C933.8 523.2 936 523.5 937 525C938 526.5 938.3 529.3 937 531C935.7 532.7 932.4 533.5 930 534C927.6 534.5 924.6 534.6 923 534C921.4 533.4 919.6 531.7 920 530Z" fill="#66ffff"/><path d="M914 546C914.8 545.4 918 545.4 920 544.6C922 543.8 923.8 542 926 541C928.2 540 932.5 538 934 538C935.5 538 936.6 539.6 937 541C937.4 542.4 937.2 544.2 936 545C934.8 545.8 930.8 546.5 928 547C925.2 547.5 921.4 547.9 920 548C918.6 548.1 916.9 548.3 916 548C915.1 547.7 913.2 546.6 914 546Z" fill="#66ffff"/><path d="M823 594C823.3 592.9 824.5 591.8 825.6 592C826.7 592.2 827.8 593.7 828 595C828.2 596.3 827.9 600.1 827 601C826.1 601.9 824.6 600.1 824 599C823.4 597.9 822.7 595.1 823 594Z" fill="#66ffff"/><path d="M829 595C829.4 593.7 830.7 592.1 832 592.6C833.3 593.1 833.8 595.4 834.4 597C835 598.6 836.4 601.5 836 603C835.6 604.5 833.5 605.5 832 605C830.5 604.5 830.1 602.6 829.6 601C829.1 599.4 828.6 596.3 829 595Z" fill="#66ffff"/><path d="M840 598C840.5 596.5 842.4 596.1 844 596C845.6 595.9 848.3 596.2 849 597.4C849.7 598.6 848.2 600.1 847 601C845.8 601.9 843.6 603.3 842 602.6C840.4 601.9 839.5 599.5 840 598Z" fill="#66ffff"/><path d="M677.5 545.6C678.7 545.6 682.2 548.2 685 548.1C687.8 548 689.8 545.7 692.5 545C695.2 544.3 698.2 544 701.2 543.8C704.3 543.5 707.9 544.3 710 543.8C712.1 543.2 713 540.9 715 540C717 539.1 719.9 538.3 722.5 538.1C725.1 537.9 727.5 538 730 538.8C732.5 539.5 735 541 737.5 542.5C740 544 743.4 547.3 746.2 548.8C749.1 550.2 753.3 551 755 551.2C756.7 551.5 758.5 549.8 760 550.6C761.5 551.5 762.3 555.1 763.8 556.2C765.2 557.4 767 557.1 768.8 557.5C770.5 557.9 773.3 557.3 774.4 558.8C775.4 560.2 773.6 562.4 773.1 563.8C772.6 565.1 771.1 566 771.2 567.5C771.4 569 774.1 569.7 773.8 571.2C773.4 572.8 771.4 573.1 770 573.8C768.6 574.4 766.4 574.4 765 575C763.6 575.6 762 576.1 761.2 577.5C760.5 578.9 761.6 581.3 761.2 582.5C760.9 583.7 759.8 584.4 758.8 585C757.7 585.6 754.6 585.5 753.8 586.9C752.9 588.2 754.5 589.8 755 591.2C755.5 592.7 756 594.2 756.9 595.6C757.7 597.1 759.8 598.5 760 600C760.2 601.5 758.9 602.5 758.1 603.8C757.3 605 755.9 606.1 755 607.5C754.1 608.9 752.7 610.7 752.5 612.5C752.3 614.3 753.6 615.7 753.8 617.5C753.9 619.3 754.3 621.1 753.1 622.5C752 623.9 748.5 624.1 747.5 625C746.5 625.9 747.2 627.8 746.2 628.8C745.3 629.7 742.5 632.3 740 632.5C737.5 632.7 703.5 632.9 701.2 632.5C699 632.1 702.5 628.5 702.5 626.2C702.5 624 701.3 621.8 701.2 620C701.2 618.2 702.3 616.7 701.9 615C701.4 613.3 698.3 612 698.8 610C699.2 608 702.3 607.5 703.8 606.2C705.2 605 705.8 603.3 707.5 602.5C709.2 601.7 711.5 601 713.8 601.2C716 601.5 718.3 603.2 720 603.8C721.7 604.3 723.4 605.8 725 605C726.6 604.2 726.8 601.5 728.1 600C729.4 598.5 732.1 598.2 732.5 596.2C732.9 594.3 731 592.6 730 591.2C729 589.9 727.6 589.2 726.2 588.1C724.9 587.1 721.9 585.3 720 583.8C718.1 582.2 716 580.3 715 578.8C714 577.2 714.8 575.3 713.8 573.8C712.7 572.2 709.2 569.2 707.5 567.5C705.8 565.8 703.8 563.8 702.5 562.5C701.2 561.2 699.8 560 698.8 558.8C697.7 557.5 697.6 555.9 696.2 555C694.9 554.1 692.9 554.4 691.2 553.8C689.6 553.1 686.8 551.5 685 550.6C683.2 549.8 681 548.8 680 548.1C679 547.4 676.3 545.6 677.5 545.6Z" fill="#66ffff"/><path d="M659.4 622.5C660.6 621.3 662.9 623.6 663.8 624.4C664.6 625.2 665.3 626.4 665 627.5C664.7 628.6 663.6 629.1 662.5 629.4C661.4 629.6 659.8 629.8 659.4 628.8C658.9 627.7 658.2 623.7 659.4 622.5Z" fill="#66ffff"/><path d="M491.2 652.5C491.8 650.8 494.7 651.1 496.2 652C497.8 652.9 500.8 657 502.5 658.8C504.2 660.5 505.7 662.1 507.5 663.8C509.3 665.4 512.1 666.5 513.8 668.8C515.4 671 517.2 675.7 517.5 677.5C517.8 679.3 518.1 682.5 516.2 682.5C514.4 682.5 512.7 679.5 511.2 677.5C509.8 675.5 509.4 672.2 507.5 670C505.6 667.8 502.2 666.1 500 664.5C497.8 662.9 495.3 662.2 493.8 660C492.2 657.8 490.7 654.2 491.2 652.5Z" fill="#66ffff"/><path d="M261.2 733.8C263.9 729.7 272 735.2 275 733.8C278 732.3 277.3 728 278.8 725C280.2 722 281.3 717 283.8 716.2C286.2 715.5 286.4 720.4 287.5 722.5C288.6 724.6 289.4 727.7 290 728.8C290.6 729.8 292.7 730 292.5 731.2C292.3 732.5 289.1 734.1 288.8 736.2C288.4 738.4 290.6 747 290 748.8C289.4 750.5 286.4 748.7 285 747.5C283.6 746.3 283.4 741.9 281.2 741.2C279.1 740.6 277.3 743.5 276.2 745C275.2 746.5 276.4 748.8 275 750C273.6 751.2 270.4 749.8 268.8 751.2C267.1 752.7 266.7 757.9 265 758.8C263.3 759.6 261.5 756.8 261.2 755C261 753.2 258.6 737.8 261.2 733.8Z" fill="#66ffff"/><path d="M438 821.2C436.3 820.1 440.2 817 441.2 816.2C442.3 815.5 443.9 815.5 445 816.2C446.1 817 450.5 820 448.8 821.2C447 822.5 439.7 822.4 438 821.2Z" fill="#66ffff"/><path d="M653 623C653.7 622 656.2 621.3 658 621.6C659.8 621.9 663 624 664 625C665 626 665.9 627.9 665 629C664.1 630.1 661.7 630.1 660 629.6C658.3 629.1 655.9 626.9 655 626C654.1 625.1 652.3 624 653 623Z" fill="#66ffff"/><path d="M629.6 635C630.7 633.4 634.4 632.5 637 633C639.6 633.5 642.6 636.9 646 638C649.4 639.1 654.3 638.8 658 640C661.7 641.2 665.8 643.8 668 645C670.2 646.2 672 647.5 674 649C676 650.5 678.1 652.1 680 654C681.9 655.9 683.8 657.6 685 660C686.2 662.4 688.2 668.4 688 670C687.8 671.6 685.2 669 684 668C682.8 667 680.5 663.6 678 662C675.5 660.4 673 659.3 670 659C667 658.7 663.5 660.2 660 660C656.5 659.8 650.8 658.6 648 658C645.2 657.4 641.9 656.7 640 656C638.1 655.3 635.6 655 635 653C634.4 651 637.6 648.5 637 646C636.4 643.5 633.1 641.6 632 640C630.9 638.4 628.5 636.6 629.6 635Z" fill="#66ffff"/><path d="M672 632C673.3 630.3 677.2 629.4 680 629C682.8 628.6 685.5 628.7 688 630C690.5 631.3 693.4 634.2 695 637C696.6 639.8 696 644.4 697 646C698 647.6 700.6 647.5 702 648C703.4 648.5 706.5 647.6 706 649C705.5 650.4 702.6 653.3 700 654C697.4 654.7 693 653.6 691 653C689 652.4 687.7 650.7 686 650C684.3 649.3 682.3 650.3 681 649C679.7 647.7 680.3 644.8 679 643C677.7 641.2 674.1 639.8 673 638C671.9 636.2 670.7 633.7 672 632Z" fill="#66ffff"/><path d="M622 660C622.6 658.7 624.3 657.2 626 657C627.7 656.8 631.1 657.8 633 659C634.9 660.2 635.9 662.1 637 664C638.1 665.9 638.9 668.6 640 671C641.1 673.4 643.9 677.9 644 679C644.1 680.1 641.9 680.2 641 679.6C640.1 679 637.5 675.7 636 674C634.5 672.3 633.8 670.3 632 669C630.2 667.7 627.5 667.8 626 667C624.5 666.2 623.1 665.2 622.4 664C621.7 662.8 621.4 661.3 622 660Z" fill="#66ffff"/><path d="M677 733.6C677.8 732.5 680.3 732.4 682 733C683.7 733.6 687.2 736.3 690 738C692.8 739.7 697.2 742.3 700 744C702.8 745.7 706 747.5 708 749C710 750.5 712.3 752.3 713 754C713.7 755.7 711.5 757.3 712 759C712.5 760.7 716.7 762 716 764C715.3 766 712 765.1 710 764.4C708 763.7 706.1 761.4 704 760C701.9 758.6 699.7 757.1 698 756C696.3 754.9 694.2 754.7 693 753C691.8 751.3 692.5 748 691 746C689.5 744 685.8 742.3 684 741C682.2 739.7 679.9 738 679 737C678.1 736 676.2 734.7 677 733.6Z" fill="#66ffff"/><path d="M823 626C823.4 624.4 825.4 622.3 827 621.6C828.6 620.9 830.7 621.2 832 622C833.3 622.8 834.3 624.5 834 626C833.7 627.5 831.6 630.2 830 631C828.4 631.8 826.4 631.4 825 630.4C823.6 629.4 822.6 627.6 823 626Z" fill="#66ffff"/><path d="M828 602C828.4 600.5 830.4 600 832 600C833.6 600 835.6 600.5 836 602C836.4 603.5 835.1 607.1 834 608C832.9 608.9 831 608 830 607C829 606 827.6 603.5 828 602Z" fill="#66ffff"/><path d="M837 618C837 616.9 839.3 616.1 840 617C840.7 617.9 841.7 621.4 840 622C838.3 622.6 837 619.1 837 618Z" fill="#66ffff"/><path d="M697.5 609.4C693.5 610.2 701.9 617.9 702.5 620C703.1 622.1 701.9 624.1 701.9 626.2C701.9 628.4 701.8 631.2 702.5 633.8C703.2 636.3 705 639.3 706.2 641.2C707.5 643.2 709.2 644.6 710.6 646.2C712 647.9 713.6 649.6 714.4 651.2C715.2 652.9 716 654.5 715.6 656.2C715.3 658 713.2 659.6 712.5 661.2C711.8 662.9 710.5 664.6 711.2 666.2C712 667.9 714.3 668.9 716.2 670C718.2 671.1 721 672.7 722.5 672.5C724 672.3 723.6 670 724.4 668.8C725.2 667.5 725.8 665 727.5 665C729.2 665 730.9 667.3 732.5 668.8C734.1 670.2 735.4 672.5 737.5 673.8C739.6 675 742.4 675.8 745 676.2C747.6 676.7 751.2 675.8 752.5 676.2C753.8 676.7 753.7 678.7 755 679.4C756.3 680 761.5 681.5 765 682.5C768.5 683.5 773.2 684.9 775 685C776.8 685.1 779.3 685.4 780 683.8C780.7 682.1 778.5 680.4 777.5 678.8C776.5 677.1 774.6 675.8 773.8 673.8C772.9 671.7 773.1 668.5 772.5 666.2C771.9 664 771.1 661.9 770 660C768.9 658.1 767.4 656.1 766.2 655C765.1 653.9 763.5 653.3 762.5 652.5C761.5 651.7 759.8 651.2 760 650C760.2 648.8 763.2 648 763.8 646.2C764.3 644.5 764 640.6 763.8 638.8C763.5 636.9 763.3 635 761.9 633.8C760.5 632.5 756.9 631.3 755 631.2C753.1 631.2 751.7 632.3 750 633.1C748.3 634 746.6 636.1 745 636.2C743.4 636.4 740.6 635.2 741.2 633.8C741.9 632.3 747 629.4 748.8 627.5C750.5 625.6 752 623.7 752.5 621.2C753 618.8 756.6 610.3 752.5 609.4C748.4 608.5 701.5 608.5 697.5 609.4Z" fill="#66ffff"/><path d="M823.1 626.2C823.4 624.9 824.3 623.4 825.6 622.5C826.9 621.6 828.5 621 830 621.5C831.5 622 833.3 623.5 833.8 625C834.2 626.5 833.6 628.2 832.5 629.4C831.4 630.5 828.7 631.4 827.5 631.5C826.3 631.6 825.2 630.9 824.4 630C823.6 629.1 822.9 627.6 823.1 626.2Z" fill="#66ffff"/><path d="M760 707.5C760.5 706.1 761.8 704.8 763.3 704.7C764.9 704.5 767.4 705.4 769.2 706.7C770.9 707.9 772.3 709.8 773.3 711.7C774.3 713.5 773.2 716.4 775 717.5C776.8 718.6 779.3 717.1 781.7 716.7C784 716.3 787.6 715.7 790 715C792.4 714.3 794.3 713.4 796.7 712.5C799 711.6 801.5 711.5 803.3 710C805.1 708.5 805.1 704.6 806.7 704.2C808.2 703.7 808.5 706.7 808.7 708.3C808.8 709.9 807.3 712.6 807.5 715C807.7 717.4 808.7 719.6 810 721.7C811.3 723.8 814.2 725.7 815.8 728.3C817.5 731 817.6 734.5 819.2 736.7C820.7 738.9 823.5 739.5 825 741.7C826.5 743.9 827.9 747.7 828.3 750C828.7 752.3 827.4 754.3 827.5 756.7C827.6 759 828.7 761 829.2 763.3C829.6 765.7 830 769.9 830.8 773.3C831.7 776.8 833 780.8 834.2 783.3C835.3 785.8 838.2 788.4 838.3 790C838.5 791.6 836.6 793.2 835 793.3C833.4 793.5 829.5 791.8 826.7 790.8C823.8 789.8 821.1 788.9 818.3 787.5C815.5 786.1 812.2 783.5 810 782.5C807.8 781.5 805.4 781.9 803.3 780.8C801.3 779.8 800.5 776.2 798.3 776.7C796.2 777.1 796.6 781 795.8 782.5C795.1 784 795 786.3 793.3 786.7C791.7 787 790.1 785 788.3 784.2C786.6 783.3 784.1 781.7 781.7 780.8C779.2 780 775.5 779.8 773.3 779.2C771.2 778.5 768.3 778.8 767.5 776.7C766.7 774.6 769.7 772.5 770 770C770.3 767.5 768.7 764.2 769.2 761.7C769.6 759.1 772.3 757.5 772.5 755C772.7 752.5 771.5 750.3 770 748.3C768.5 746.4 765.2 744.9 763.3 743.3C761.5 741.7 759.9 740.2 758.3 738.3C756.7 736.4 754.5 734.7 754.2 732.5C753.9 730.3 755.4 728.5 756.7 726.7C757.9 724.8 760.6 723.2 761.7 721.7C762.7 720.1 763.5 718.5 763.3 716.7C763.2 714.8 761.3 713.1 760.8 711.7C760.3 710.3 759.5 708.9 760 707.5Z" fill="#66ffff"/><path d="M835.8 748.3C836 746.5 838.3 745.7 840 745C841.7 744.3 844.5 743.5 846.7 744.2C848.9 744.8 850.9 746.7 851.7 748.3C852.4 749.9 852 752 850.8 753.3C849.7 754.7 847.1 755.7 845 755.8C842.9 756 840.8 755.5 839.2 754.2C837.5 752.8 835.7 750.2 835.8 748.3Z" fill="#66ffff"/><path d="M847.5 801.7C847.8 800 849.2 798.5 850.8 798.3C852.5 798.2 854 799.4 855 800.8C856 802.2 857 805.1 856.7 806.7C856.4 808.2 854.9 809.5 853.3 809.7C851.8 809.8 850.1 808.8 849.2 807.5C848.2 806.2 847.2 803.3 847.5 801.7Z" fill="#66ffff"/><path d="M916.3 765.8C916.8 765.2 918.2 764.8 919.2 765C920.2 765.2 922.9 766.5 923.3 767.5C923.7 768.5 921.9 769.1 920.8 769.2C919.8 769.2 917.6 768.5 917 768C916.4 767.5 915.9 766.5 916.3 765.8Z" fill="#66ffff"/><path d="M853.3 788.3C853.8 786.2 856.3 783.4 858.3 782.1C860.3 780.8 862.7 781.3 865 780.8C867.3 780.4 874.6 779.5 876.7 778.8C878.7 778 879.9 776.3 881.7 775C883.4 773.7 885 771.7 886.7 771.2C888.4 770.8 890 771.5 891.7 772.1C893.4 772.6 895.9 774.3 898.3 775C900.8 775.7 903.9 775.6 906.7 776.7C909.5 777.7 912.2 780.2 915 781.2C917.8 782.3 920.4 782.6 923.3 782.9C926.2 783.3 929.3 783 931.7 783.3C934 783.7 937.9 782.6 938.3 785C938.8 787.4 947.3 812.1 938.3 820.8C929.4 829.6 904 821.2 901.7 820.8C899.3 820.5 899.6 816.9 898.3 815C897 813.1 895.7 811.2 894.2 810C892.7 808.8 890.9 808.2 889.2 807.5C887.5 806.8 884.8 806.9 884.2 805.8C883.5 804.8 885.5 803.7 886.7 803.3C887.8 802.9 890.7 804.1 891.7 803.3C892.6 802.6 891.8 800.7 890.8 800C889.9 799.3 886.8 798.5 885 798.3C883.2 798.2 881.8 798.9 880 799.2C878.2 799.4 875.7 799.9 873.3 800C871 800.1 868.8 800.3 866.7 800C864.6 799.7 862.7 799.3 860.8 798.3C859 797.3 857.2 795.9 855.8 794.2C854.5 792.4 852.9 790.5 853.3 788.3Z" fill="#66ffff"/><path d="M760.6 707.5C760.6 706.1 762.5 705.4 763.8 705C765 704.6 766.4 704.9 767.5 705.6C768.6 706.4 770.3 708.2 771.2 710C772.2 711.8 772.1 714.8 773.1 716.2C774.2 717.7 775.7 718.8 777.5 718.8C779.3 718.8 781.6 716.9 783.8 716.2C785.9 715.6 787.8 715.6 790 715C792.2 714.4 795.5 713.5 797.5 712.5C799.5 711.5 801 710.1 802.5 708.8C804 707.4 804.6 704.4 806.2 704.4C807.9 704.4 808 707.1 808.1 708.8C808.3 710.4 807.4 714 807.5 716.2C807.6 718.5 811 722.1 808.8 722.5C806.5 722.9 772.5 722.9 770 722.5C767.5 722.1 767.1 717.6 766.2 716.2C765.4 714.9 764.6 713.8 763.8 712.5C762.9 711.2 760.6 708.9 760.6 707.5Z" fill="#66ffff"/><path d="M822.9 595.3C823.2 594.4 824.4 592.4 825.3 592C826.2 591.6 827.5 592.4 827.7 593.3C828 594.3 827.6 597.7 827.3 598.7C827 599.6 826.3 600.8 825.3 600.7C824.4 600.5 823.7 598.9 823.3 598C822.9 597.1 822.6 596.2 822.9 595.3Z" fill="#66ffff"/><path d="M828.7 594.7C829 593.6 830.2 592.7 831.3 592.7C832.5 592.7 833.5 593.6 834 594.7C834.5 595.7 835.3 599.2 835.3 601.3C835.3 603.5 834.7 606.3 834 607.3C833.3 608.3 831.8 608.8 830.7 608.3C829.6 607.8 828.5 606.2 828.3 604.7C828 603.2 829 601 829.1 599.3C829.1 597.7 828.3 595.8 828.7 594.7Z" fill="#66ffff"/><path d="M840 598C840.4 597.2 841.5 596.2 842.7 596C843.8 595.8 847.2 595.9 848 596.3C848.8 596.6 849 597.9 848.7 598.7C848.3 599.5 846.4 601.4 845.3 602C844.3 602.6 842.8 602.6 842 602.4C841.2 602.2 840.6 601.4 840.3 600.7C839.9 599.9 839.6 598.8 840 598Z" fill="#66ffff"/><path d="M837.3 618C837.8 616.9 839.4 614.9 840.7 613.3C842 611.8 843.5 610.1 845.3 608.7C847.2 607.3 849.5 605.8 852 604.7C854.5 603.5 857.7 602.4 860 602C862.3 601.6 865.3 601.5 866.7 602C868 602.5 869.3 603.9 869.1 605.3C868.8 606.8 866.8 608.5 865.3 610C863.9 611.5 861.7 613.5 860 614.7C858.3 615.8 856.7 616.7 854.7 617.3C852.7 617.9 848.8 618.3 846.7 618.7C844.6 619.1 841.8 619.7 840.7 620C839.5 620.3 838.6 621.9 837.6 621.3C836.6 620.7 836.9 619.1 837.3 618Z" fill="#66ffff"/><path d="M822.9 626.7C823.1 625.5 823.6 623.7 824.7 622.7C825.7 621.7 827.2 621.2 828.7 621.3C830.1 621.5 831.8 622.4 832.7 623.3C833.6 624.2 834.2 625.4 834 626.7C833.8 627.9 832.6 629.2 831.3 630C830.1 630.8 827.9 631.7 826.7 631.7C825.5 631.7 824.4 631 823.7 630C823 629 822.8 627.9 822.9 626.7Z" fill="#66ffff"/><path d="M848 629.3C848.9 628.2 852.4 626.8 854.7 625.3C857 623.9 859.6 621.4 862.7 620C865.7 618.6 868.8 617.8 872 617.3C875.2 616.9 878.1 617.1 881.3 617.6C884.6 618.1 889 618.9 890.7 620C892.4 621.1 893.1 623.3 893.1 625.3C893.1 627.4 891.8 629 890.7 630.7C889.5 632.3 887.4 633.7 886.7 634.7C885.9 635.7 884.4 637.1 885.3 638C886.2 638.9 888.8 638.8 890.7 638.7C892.5 638.6 895.8 637.2 897.3 637.3C898.9 637.4 900.6 637.9 901.3 639.3C902 640.7 900.7 645 902 646.7C903.3 648.4 906.6 647.9 908 648C909.4 648.1 911.1 646.2 912 647.3C912.9 648.4 911.8 650.4 910.7 651.3C909.5 652.3 906 653 904 654C902 655 900.4 656 898.7 657.3C896.9 658.7 895.4 660.7 893.3 662C891.2 663.3 888.7 664.6 886.7 664.7C884.7 664.8 882.5 664.2 881.3 662.7C880.1 661.1 880 657.5 880 656C880 654.5 882.7 652.5 881.3 652C879.9 651.5 874.4 652.8 872 653.3C869.6 653.8 867.3 654.6 865.3 655.3C863.4 656.1 861.6 657.9 860 658C858.4 658.1 856.9 657.1 856 656C855.1 654.9 854.9 653.4 855.3 652C855.7 650.6 857.4 648.5 858.7 646.7C859.9 644.9 864.2 643.1 862.7 641.3C861.1 639.6 855.7 642.2 854 641.3C852.3 640.4 853.6 637.4 852.7 636C851.7 634.6 849.5 634.5 848.7 633.3C847.9 632.2 847.1 630.5 848 629.3Z" fill="#66ffff"/><path d="M912 644C912.4 642.9 914.4 641.6 916 640.7C917.6 639.8 919.9 639.2 921.3 638.7C922.7 638.2 924.3 637.1 925.3 637.3C926.4 637.6 927.1 638.9 926.9 640C926.8 641.1 925.9 642.6 924.7 643.3C923.5 644.1 920.3 644.8 918.7 645.3C917 645.8 915.1 646.9 914 646.7C912.9 646.4 911.6 645.1 912 644Z" fill="#66ffff"/><path d="M762.5 428.8C763.2 427.5 767.7 423.8 770 421.2C772.3 418.7 773.4 415.7 776.2 413.8C779.1 411.8 786.2 409.7 787.5 409.5C788.8 409.3 790.4 410 790.8 411.2C791.1 412.5 789.2 415.8 789.5 417.5C789.8 419.2 790.8 421.1 792.5 421.2C794.2 421.4 799 419.4 802.5 418.8C806 418.1 810.6 416.9 812.5 417.5C814.4 418.1 813.2 421.6 815 422.5C816.8 423.4 826.2 421.9 828 425C829.8 428.1 823 429.3 820 431.2C817 433.2 810.2 438.1 807.5 438.8C804.8 439.4 802.5 437.5 800 436.2C797.5 435 793.3 431 790 430C786.7 429 783.4 429.2 780 430C776.6 430.8 772.3 434.2 770 434.5C767.7 434.8 764.8 433.3 763.8 432.5C762.7 431.7 761.8 430 762.5 428.8Z" fill="#66ffff"/><path d="M740 682.5C740.3 681.6 741.4 679.9 742.5 678.8C743.6 677.6 744.7 676.5 746.2 676.2C747.8 676 750.3 676.6 751.2 677.5C752.2 678.4 752.3 680 751.9 681.2C751.5 682.5 750.2 684 748.8 685C747.3 686 745 686.9 743.8 686.9C742.5 686.9 741.2 685.7 740.6 685C740 684.3 739.7 683.4 740 682.5Z" fill="#66ffff"/><path d="M485.6 125.6C486 124.6 487.7 124.5 488.8 125C489.8 125.5 493.3 128 493.8 129.4C494.2 130.7 492.6 132.4 491.2 132.5C489.9 132.6 487.9 131.2 486.9 130C485.9 128.8 485.2 126.7 485.6 125.6Z" fill="#ffffff"/><path d="M718.1 630.6C718.6 629.9 720.3 628.1 721.9 627.5C723.5 626.9 725.7 627.1 727.5 626.9C729.3 626.7 730.8 626 732.5 626.2C734.2 626.5 735.9 627.1 737.5 628.1C739.1 629.1 740.8 630.8 741.2 631.9C741.7 633 740.9 634.3 740 635C739.1 635.7 736.7 636.1 735 636.9C733.3 637.6 731.3 638.7 730 639.4C728.7 640 727.7 641.2 726.2 641.2C724.8 641.2 722.8 640.8 722.5 639.4C722.2 637.9 725.3 636.3 725 635C724.7 633.7 722.3 634.7 721.2 634.4C720.2 634.1 719.1 633.8 718.5 633.1C717.9 632.4 717.7 631.4 718.1 630.6Z" fill="#ffffff"/><path d="M740 643.8C740.4 642.9 741.5 642.1 742.5 642.2C743.5 642.4 747.4 644.3 748.8 645C750.1 645.7 752.2 646.4 752.5 647.5C752.8 648.6 751.1 649.2 750 649.4C748.9 649.6 746.7 649.3 745 648.8C743.3 648.2 741.3 646.9 740.6 646.2C740 645.6 739.6 644.6 740 643.8Z" fill="#ffffff"/><path d="M788.3 771.7C788.5 770.2 790.6 769.6 791.7 768.3C792.8 767.1 793.8 764.5 795 764.2C796.2 763.8 797.2 765.5 797.5 766.7C797.8 767.9 796.5 770.1 796.7 771.7C796.8 773.2 798.7 774.4 798.3 775.8C798 777.2 796.4 778.5 795 778.3C793.6 778.2 791.9 776 790.8 775C789.8 774 788.2 773.1 788.3 771.7Z" fill="#ffffff"/><path d="M379.6 120C380.6 118.9 383.2 118.9 385 119.4C386.8 119.9 392.3 123 396 124C399.7 125 403.3 124 407 125C410.7 126 416.3 129 418 130C419.7 131 422 132.2 422 134C422 135.8 419.7 136.9 418 137C416.3 137.1 411.1 136.2 408 135C404.9 133.8 403.1 131.2 400 130C396.9 128.8 390.6 128.2 388 127.4C385.4 126.6 382.1 125 381 124C379.9 123 378.6 121.1 379.6 120Z" fill="#3399ff"/><path d="M466.2 103.8C467.4 102.7 469.4 102.2 471.2 102.2C473.1 102.3 477.5 103.6 480 104.4C482.5 105.1 485.8 106.2 486.9 106.9C487.9 107.6 488.8 108.7 488.8 110C488.7 111.3 487.7 113.7 486.2 115C484.8 116.3 482.3 117.3 480 117.5C477.7 117.7 474.4 116.9 472.5 116.2C470.6 115.6 468.8 114.6 467.5 113.1C466.2 111.7 465.2 109.7 465 108.1C464.8 106.5 465.1 104.8 466.2 103.8Z" fill="#3399ff"/><path d="M478.8 128.1C480 128.4 481.5 129.9 482.5 131.2C483.5 132.6 484.2 134.9 485 136.2C485.8 137.6 487.2 139.1 487.5 140C487.8 140.9 486.5 141.7 486.9 142.5C487.3 143.3 488.6 145 490 145C491.4 145 495.7 142.7 497.5 142.5C499.3 142.3 501.8 143.2 502.5 143.8C503.2 144.3 502.5 145.6 501.9 146.2C501.2 146.9 498.4 148.3 497.5 148.8C496.6 149.2 494.2 149.5 495 150C495.8 150.5 499.1 151 501.2 151.2C503.4 151.5 506.1 150.6 507.5 151.2C508.9 151.9 509.5 153.5 510 155C510.5 156.5 509.8 158.4 510.6 160C511.4 161.6 513.4 163.5 515 165C516.6 166.5 518.1 167.7 520 168.8C521.9 169.8 525.6 170.4 527.5 171.9C529.4 173.3 530.4 175.4 531.2 177.5C532.1 179.6 532.5 181.5 532.5 183.8C532.5 186 534 191.1 531.2 192C528.5 192.9 509.9 192.5 507.5 192C505.1 191.5 505.5 187.9 503.8 186.2C502 184.6 499.3 183.7 497.5 182.5C495.7 181.3 493.8 180.5 492.5 178.8C491.2 177 491 174.1 490 172.5C489 170.9 487.8 169.7 486.2 168.8C484.7 167.8 481.8 167.8 480 166.2C478.2 164.7 477.5 161.8 476.2 160C475 158.2 473.2 157.1 472.5 155C471.8 152.9 472.1 150.1 471.9 147.5C471.7 144.9 471 141.9 471.2 140C471.5 138.1 473 136.7 473.8 135C474.5 133.3 474.9 131 475.6 130C476.4 129 477.5 127.9 478.8 128.1Z" fill="#3399ff"/><path d="M486.2 168.8C482.8 169.6 488.9 174.9 491.2 177.5C493.6 180.1 498.2 182.5 500 183.8C501.8 185 504.3 185.4 505 187.5C505.7 189.6 504.2 192.4 503.8 195C503.3 197.6 502.3 200.2 502.5 202.5C502.7 204.8 504.3 206.5 505 208.8C505.7 211 507 215.8 507.5 217.5C508 219.2 509.2 220.8 508.8 222.5C508.3 224.2 506.8 225.8 505 226.2C503.2 226.7 500.1 225.4 497.5 225C494.9 224.6 492.6 224.1 490 223.8C487.4 223.4 484.7 223.1 482.5 223.1C480.3 223.1 478.4 224.4 476.2 223.8C474.1 223.1 470.2 220.4 467.5 218.8C464.8 217.1 462.1 215.3 460 213.8C457.9 212.2 455.7 209.3 454.4 208.8C453.1 208.2 451.2 208.8 450.6 210C450 211.2 450.1 214.1 450.6 216.2C451.2 218.4 452.2 220.6 453.8 222.5C455.3 224.4 457.6 226.1 460 227.5C462.4 228.9 465.5 230.6 468.8 231.2C472 231.9 476.5 231 480 231.2C483.5 231.5 487.7 232 490 232.5C492.3 233 494.3 234.2 496.2 235C498.2 235.8 500.1 237.5 501.9 237.5C503.6 237.5 504.6 235.7 506.2 235C507.9 234.3 510.2 233.3 512.5 233.1C514.8 232.9 518 232.7 519.4 233.8C520.8 234.8 520.3 237 520 238.8C519.7 240.5 518.7 242.2 517.5 243.8C516.3 245.3 512.4 248 511.9 249.4C511.3 250.7 512.6 252.3 513.8 253.1C514.9 254 516.9 254.5 518.8 254.4C520.6 254.3 526.3 255 527.5 252.5C528.7 250 522.7 248.3 522.5 246.2C522.3 244.2 525.3 243.1 526.2 241.9C527.2 240.6 528.3 239.6 528.8 238.1C529.2 236.6 530.2 232.3 530 230C529.8 227.7 528.8 225.7 527.5 223.8C526.2 221.8 523.9 220.4 522.5 218.8C521.1 217.1 519.1 214.7 518.8 213.8C518.4 212.8 519.2 211.8 520 211.2C520.8 210.7 523.2 210.2 525 210C526.8 209.8 531 210.6 532.5 210C534 209.4 534.4 207.5 535 206.2C535.6 205 535.2 203.4 536.2 202.5C537.3 201.6 542 201.9 542.5 200C543 198.1 539.2 198.5 537.5 197.5C535.8 196.5 533.7 195.6 532.5 193.8C531.3 191.9 531.6 189.3 531.2 187.5C530.9 185.7 530.4 184.3 530 182.5C529.6 180.7 529.5 178.3 528.8 176.2C528 174.2 527.9 169.3 525 168.8C522.1 168.2 489.7 167.9 486.2 168.8Z" fill="#3399ff"/><path d="M561.2 221.2C562.2 220.3 565.3 220.2 567.5 220C569.7 219.8 574.1 219.7 575 220C575.9 220.3 576.3 221.9 575.6 222.5C575 223.1 571.4 224.3 570 225C568.6 225.7 567.8 227.5 566.2 227.5C564.7 227.5 563.4 226.1 562.5 225C561.6 223.9 560.3 222.2 561.2 221.2Z" fill="#3399ff"/><path d="M543.1 234.4C543.8 233.8 546.8 233.6 548.8 233.1C550.7 232.7 554.1 230.9 556.2 231.2C558.4 231.6 559.5 233.7 561.2 235C563 236.3 566.7 238.9 567.5 240C568.3 241.1 568.5 242.9 567.5 243.8C566.5 244.6 564.2 244.7 562.5 244.4C560.8 244 557.6 242.2 555 241.2C552.4 240.3 548.9 239.3 547.5 238.8C546.1 238.2 544.4 237.5 543.8 236.9C543.1 236.2 542.4 234.9 543.1 234.4Z" fill="#3399ff"/><path d="M574.4 211.9C575 210.3 577.7 210.8 579.4 211.2C581.1 211.7 583.6 214.1 586.2 215C588.9 215.9 593.4 215.9 596.2 216.9C599.1 217.9 603 219.9 603.8 221.2C604.5 222.6 601.5 223.4 600 223.5C598.5 223.6 595 222.9 592.5 221.9C590 220.9 587.5 218.5 585 217.5C582.5 216.5 579 216.4 577.5 215.6C576 214.8 573.7 213.4 574.4 211.9Z" fill="#3399ff"/><path d="M561.2 221.2C562.2 220.7 566.3 220.1 568.8 220C571.2 219.9 574.6 219.9 575.6 220.6C576.6 221.4 574.8 223 573.8 223.8C572.7 224.5 568.9 227.4 566.9 227.5C564.8 227.6 562.6 225.2 561.9 224.4C561.1 223.5 560.3 221.8 561.2 221.2Z" fill="#3399ff"/><path d="M601.2 227.8C602.1 226.7 604.6 226.8 606.2 227.2C607.9 227.7 613.7 228.4 614.4 231.2C615.1 234.1 608.6 235.2 608.8 237.5C608.9 239.8 613.2 238.4 615 239.4C616.8 240.3 620.2 241.3 619.4 243.1C618.6 245 615 244.7 612.5 245C610 245.3 605.7 246.3 602.5 245C599.3 243.7 594.4 240.5 594.4 237.5C594.4 234.5 601.4 235.8 602.5 235C603.6 234.2 603.4 232.6 603.1 231.2C602.9 229.9 600.4 228.8 601.2 227.8Z" fill="#3399ff"/><path d="M548.8 234.4C550.2 233 555.2 231.6 557.5 231.9C559.8 232.2 560.8 234.9 562.5 236.2C564.2 237.6 566.8 238.9 567.5 240C568.2 241.1 568.5 242.9 567.5 243.8C566.5 244.6 564.2 244.8 562.5 244.4C560.8 244 558.6 242 556.2 241.2C553.9 240.5 550.2 241.3 548.8 240C547.3 238.7 547.3 235.7 548.8 234.4Z" fill="#3399ff"/><path d="M878 155C877.7 153.5 880.4 153.2 882 153C883.6 152.8 888.4 153.1 890 153.4C891.6 153.7 894.4 154 894 155.6C893.6 157.2 890.9 157.3 889 157.6C887.1 157.9 884.9 157.8 883 157.4C881.1 157 878.3 156.5 878 155Z" fill="#3399ff"/><path d="M388 367C388 365.8 389.9 365.2 391 365.6C392.1 366 393.6 367.9 393.6 369C393.6 370.1 392.1 371.4 391 371C389.9 370.6 388 368.2 388 367Z" fill="#3399ff"/><path d="M432.4 376C433.2 374.8 435.4 376.7 436 378C436.6 379.3 437.3 384.5 437.4 388C437.5 391.5 436.5 395.9 436.4 398C436.3 400.1 437.8 402.8 437 404C436.2 405.2 434.2 403.9 433 403C431.8 402.1 429.9 399.9 429 398C428.1 396.1 427.6 394.1 428 392C428.4 389.9 430.4 388.3 431 386C431.6 383.7 431.6 377.2 432.4 376Z" fill="#3399ff"/><path d="M447 287C447.2 285.8 448.8 284.8 450 285C451.2 285.2 454.9 287.2 457 289C459.1 290.8 460.5 292.7 462 295C463.5 297.3 465.8 300.7 465.6 302.4C465.4 304.1 462.6 304.1 461 303.6C459.4 303.1 456.9 300.8 455 299C453.1 297.2 450 293.6 449 292C448 290.4 446.8 288.2 447 287Z" fill="#3399ff"/><path d="M468 309C468.4 308 470.1 307.4 471 308C471.9 308.6 474.7 312.9 475 314C475.3 315.1 474.1 316.6 473 316.4C471.9 316.2 469.8 314.2 469 313C468.2 311.8 467.6 310 468 309Z" fill="#3399ff"/><path d="M458.4 323.6C458.9 322.7 460.1 321.4 461 322C461.9 322.6 464 325.7 464 327C464 328.3 462.2 329.4 461 329.4C459.8 329.4 458.9 328.1 458.4 327C457.9 325.9 457.9 324.5 458.4 323.6Z" fill="#3399ff"/><path d="M512 249C514.5 247.7 526.2 248.4 528 249C529.8 249.6 526.7 252.7 525 253.6C523.3 254.5 520.3 255.2 518 254.4C515.7 253.6 509.5 250.3 512 249Z" fill="#3399ff"/><path d="M661 300C661.7 298 664.9 298.5 667 299C669.1 299.5 672.3 301.6 673 303C673.7 304.4 672.5 306.6 671 307C669.5 307.4 666.8 306.3 665 305C663.2 303.7 660.3 302 661 300Z" fill="#3399ff"/><path d="M580.6 305C580.8 303.6 582.7 302.6 584 303C585.3 303.4 587.2 305.2 588 307C588.8 308.8 589.3 313.4 589 315C588.7 316.6 587.6 318.4 586 318.4C584.4 318.4 582.7 316.7 582 315C581.3 313.3 580.4 306.4 580.6 305Z" fill="#3399ff"/><path d="M648 324.4C648.9 323.5 651.6 323.5 653 324C654.4 324.5 655.8 325.5 656 327C656.2 328.5 654 329.4 654 331C654 332.6 656 336.7 656 338C656 339.3 654.9 341.9 654 341C653.1 340.1 652.8 336.2 652 334C651.2 331.8 649.5 329.2 649 328C648.5 326.8 647.1 325.3 648 324.4Z" fill="#3399ff"/><path d="M636 312L639 312L639 313.6L636 313.6Z" fill="#3399ff"/><path d="M696 328C697 326.9 699.9 326.3 702 326.6C704.1 326.9 709.1 328.8 712 330C714.9 331.2 718.4 331.3 720 334C721.6 336.7 722.6 341.2 720 343C717.4 344.8 713 342 710 341C707 340 704 338.4 702 337C700 335.6 697.8 333.2 697 332C696.2 330.8 695 329.1 696 328Z" fill="#3399ff"/><path d="M658 373.6C658.7 372.4 661.2 371.9 663 372C664.8 372.1 667.5 373 668 374.4C668.5 375.8 666.4 376.9 665 377.4C663.6 377.9 661.2 377.7 660 377C658.8 376.3 657.3 374.8 658 373.6Z" fill="#3399ff"/><path d="M510.6 341.9C511.3 340.9 513.6 341.4 515 340.6C516.4 339.8 518.8 336.8 520 336.2C521.2 335.7 522.6 336.1 523.8 336.9C524.9 337.6 526.6 339.4 527.5 341.2C528.4 343.1 528.4 345.7 528.8 346.9C529.1 348 530.5 348.9 530 350C529.5 351.1 527.5 351.6 526.2 352.5C525 353.4 524.1 355.3 522.5 355.6C520.9 356 519.5 355.2 518.1 354.4C516.8 353.5 514.8 351.6 513.8 350C512.7 348.4 512.3 346.1 511.9 345C511.5 343.9 509.9 342.8 510.6 341.9Z" fill="#3399ff"/><path d="M550.4 340.6C550.6 339.8 551.4 338.6 551.9 338.1C552.4 337.7 553.5 336.9 553.8 337.5C554 338.1 554.2 343 554 343.8C553.8 344.5 552.5 344.5 551.9 344.4C551.2 344.3 550.6 343.8 550.4 343.1C550.1 342.5 550.1 341.5 550.4 340.6Z" fill="#3399ff"/><path d="M545 360.6C545.9 359.6 547.9 359.6 549.4 360C550.9 360.4 554.9 362.6 557.5 363.8C560.1 364.9 562.9 368.1 565 366.9C567.1 365.6 564.2 362.2 563.8 360C563.3 357.8 561.9 355.7 562.5 353.8C563.1 351.8 564.9 349.7 566.9 350C568.9 350.3 570 353 571.2 355C572.5 357 573.1 359.5 573.8 361.2C574.4 363 576.1 364.4 575.6 366.2C575.2 368.1 572.6 369.6 571.2 371.2C569.9 372.9 568.5 374.8 567.5 376.2C566.5 377.7 566.8 380.6 565 380.6C563.2 380.6 563.3 377.5 561.9 376.2C560.5 375 558.3 373.8 556.2 372.5C554.2 371.2 551.7 370.1 550 368.8C548.3 367.4 546.3 365.5 545.6 364.4C544.9 363.2 544.1 361.6 545 360.6Z" fill="#3399ff"/><path d="M546.2 385C546.8 383.5 548.8 382.9 550 382.5C551.2 382.1 552.6 381.9 553.8 382.5C554.9 383.1 556.2 384.7 556.9 386.2C557.6 387.8 557.1 391.6 558.1 392.5C559.2 393.4 560.2 390.9 561.2 390C562.3 389.1 563.3 386.6 565 386.9C566.7 387.1 568.2 389.8 570 391.2C571.8 392.7 575 394.8 576.2 396.2C577.5 397.7 578.5 399.3 578.8 401.2C579 403.2 577.4 405.8 577.5 407.5C577.6 409.2 579.6 410.8 579.4 411.9C579.1 413 577.2 413.1 576.2 412.5C575.3 411.9 574 408.9 572.5 407.5C571 406.1 569.2 405.5 567.5 404.4C565.8 403.3 564 402.7 562.5 401.2C561 399.8 560 396.7 559.4 396.2C558.7 395.8 557.7 396.7 557.5 397.5C557.3 398.3 556.9 402.4 556.9 405C556.9 407.6 557.7 411.1 557.5 412.5C557.3 413.9 556.4 415.4 555 415.6C553.6 415.9 552.2 414.9 551.2 413.8C550.3 412.6 548.7 409.9 548.1 407.5C547.5 405.1 547.7 401.4 547.5 398.8C547.3 396.1 547.1 393.4 546.9 391.2C546.7 389.1 545.7 386.5 546.2 385Z" fill="#3399ff"/><path d="M581.9 418.8C582.4 417.4 583.6 416 585 416.2C586.4 416.5 587.9 418.4 588.8 420C589.6 421.6 590.2 423.4 590 425C589.8 426.6 588.8 428.2 587.5 428.8C586.2 429.3 584.7 428.5 583.8 427.5C582.8 426.5 582.6 424.6 582.2 423.1C581.9 421.6 581.4 420.1 581.9 418.8Z" fill="#3399ff"/><path d="M605 355C605.5 354.2 606.6 353.4 607.5 353.8C608.4 354.1 608.8 355.3 608.8 356.2C608.8 357.2 608.3 358.4 607.5 358.8C606.7 359.1 605.7 358.2 605.2 357.5C604.8 356.8 604.5 355.8 605 355Z" fill="#3399ff"/><path d="M606.2 363.1C606.7 362.6 608 362.1 608.8 362.5C609.5 362.9 610.9 364.9 611 365.6C611.1 366.3 610.1 367 609.4 366.9C608.7 366.8 607.3 365.5 606.9 365C606.4 364.5 605.8 363.7 606.2 363.1Z" fill="#3399ff"/><path d="M601.2 407.5C601.4 406.2 602.1 403.2 603.1 401.2C604.1 399.3 605.7 396.8 606.9 396.2C608 395.7 609.2 397.1 610 398.1C610.8 399.1 611.5 400.9 611.9 402.5C612.2 404.1 612.7 407.7 612.5 410C612.3 412.3 611.5 415.1 610.6 416.2C609.8 417.4 608.2 417.7 606.9 417.5C605.5 417.3 604.6 416.1 603.8 415C602.9 413.9 602.3 412.5 601.9 411.2C601.5 410 601.1 408.8 601.2 407.5Z" fill="#3399ff"/><path d="M519.4 82.6C519.8 80.6 523 80.9 525 81C527 81.1 531.5 82.2 534 83C536.5 83.8 542.1 83.6 541 86C539.9 88.4 534.8 87.4 532 87.4C529.2 87.4 525.9 86.7 524 86C522.1 85.3 519 84.6 519.4 82.6Z" fill="#3399ff"/><path d="M699 327C702 324.3 706.3 328.5 710 330C713.7 331.5 719.5 334.7 722 336C724.5 337.3 729.8 337.3 729 340C728.2 342.7 723.3 342.7 720 343C716.7 343.3 713.5 342.5 710 342C706.5 341.5 701.3 343.2 699 340C696.7 336.8 696 329.7 699 327Z" fill="#3399ff"/><path d="M723.6 353C724.7 350.9 727.7 350.9 730 351C732.3 351.1 737.3 352.7 740 354C742.7 355.3 746.3 356.6 747 359C747.7 361.4 744.9 363.3 743 365C741.1 366.7 738.8 368.6 736 369C733.2 369.4 730.1 368.7 728 367C725.9 365.3 725.7 362.4 725 360C724.3 357.6 722.5 355.1 723.6 353Z" fill="#3399ff"/><path d="M758 385.6C758 382.8 763.2 384.3 766 384.4C768.8 384.5 774.5 386 776 386C777.5 386 778.8 383.5 780 384.4C781.2 385.3 780.1 388.2 781 390C781.9 391.8 784.1 392.4 785 394C785.9 395.6 787 397.5 786 399C785 400.5 782.2 400.9 780 401C777.8 401.1 774.5 399.6 772 399.6C769.5 399.6 766 401.2 765 401C764 400.8 764.4 398.9 765 398C765.6 397.1 768.6 394.4 770 393C771.4 391.6 775.2 390.6 774 389C772.8 387.4 768.8 388.2 766 387.6C763.2 387 758 388.4 758 385.6Z" fill="#3399ff"/><path d="M649 519C649.7 517.2 652 516.2 654 516C656 515.8 659.7 517 662 518C664.3 519 667 519.7 668 522C669 524.3 668.1 527 667 529C665.9 531 664.2 533 662 533C659.8 533 657.9 530.6 656 529C654.1 527.4 652.1 525.5 651 524C649.9 522.5 648.3 520.8 649 519Z" fill="#3399ff"/><path d="M665 538C664.8 536.8 666.8 535.6 668 536C669.2 536.4 671.4 538.9 671.6 540C671.8 541.1 670.1 542.3 669 542C667.9 541.7 665.2 539.2 665 538Z" fill="#3399ff"/><path d="M682 525C682 523.7 683.8 522.8 685 523C686.2 523.2 688 524.5 688 526C688 527.5 686.5 529.2 685 529C683.5 528.8 682 526.3 682 525Z" fill="#3399ff"/><path d="M559.4 394.4C561.4 393.6 573.8 393.5 576.2 394.4C578.7 395.2 578.3 398.7 578.8 401.2C579.2 403.8 578.9 407.6 578.8 408.8C578.6 409.9 578.6 412.2 577.5 411.9C576.4 411.6 575.2 408.9 573.8 407.5C572.3 406.1 570.4 404.6 568.8 403.8C567.1 402.9 565.3 403 563.8 402.5C562.2 402 560.2 402.1 559.4 400.6C558.6 399.2 557.3 395.1 559.4 394.4Z" fill="#3399ff"/><path d="M582.5 417.5C582.9 416.5 583.9 415.4 585 415.6C586.1 415.9 587.3 417.4 588.1 418.8C588.9 420.1 590 422.3 590 423.8C590 425.2 589.2 426.8 588.1 427.5C587 428.2 585.4 428.3 584.4 427.5C583.3 426.7 582.6 424.8 582.2 423.1C581.9 421.5 582.1 418.5 582.5 417.5Z" fill="#3399ff"/><path d="M602.5 402.5C603.1 400.8 604.4 397.9 605.6 396.9C606.8 395.9 608.7 395.4 610 396.2C611.3 397.1 612 399.4 612.5 401.2C613 403.1 613.1 407 613.1 408.8C613.1 410.5 613.2 412.2 612.5 413.8C611.8 415.3 610.9 417 609.4 417.5C607.9 418 606.3 417.2 605 416.2C603.7 415.3 603 414 602.5 412.5C602 411 601.9 409.3 601.9 407.5C601.9 405.7 601.9 404.2 602.5 402.5Z" fill="#3399ff"/><path d="M607.5 426.2C607.9 425.5 608.9 424.5 610 424.4C611.1 424.3 612.8 424.6 613.8 425.6C614.7 426.7 615 428.8 615 430C615 431.2 614.9 432.7 613.8 433.1C612.6 433.5 611.1 432.7 610 431.9C608.9 431.1 607.9 429.5 607.5 428.8C607.1 428 607.1 427 607.5 426.2Z" fill="#3399ff"/><path d="M595.2 428.8C595.8 427.5 597.4 427.2 598.8 427.2C600.1 427.2 601.5 427.8 602.5 428.8C603.5 429.7 604.9 431.8 605.6 433.8C606.3 435.7 606.7 438.1 606.5 440C606.3 441.9 605.2 443.9 604.4 445C603.6 446.1 602.6 447.6 601.2 447.5C599.9 447.4 598.8 445.8 598.1 444.4C597.4 443 597.2 440.7 596.9 438.8C596.6 436.8 596.5 433.8 596.2 432.5C596 431.2 594.7 430 595.2 428.8Z" fill="#3399ff"/><path d="M621.9 431.2L624.4 431.9L623.1 433.1L621.9 432.8Z" fill="#3399ff"/><path d="M671 456.9L671.9 456.9L671.9 458.8L671 458.8Z" fill="#3399ff"/><path d="M680 466.9L683.1 466.9L683.1 467.9L680 467.9Z" fill="#3399ff"/><path d="M812.4 450C812.9 448.8 815.2 447.7 817 447.4C818.8 447.1 825.5 447.2 830 447.4C834.5 447.6 842.1 448.2 844 448.6C845.9 449 849.3 449.1 849 451C848.7 452.9 845.4 454.3 843 455C840.6 455.7 835.5 456.1 832 456C828.5 455.9 824.5 455.1 822 454.6C819.5 454.1 816.2 453.2 815 452.6C813.8 452 811.9 451.2 812.4 450Z" fill="#3399ff"/><path d="M805 536.6L807 535.6L809 537L807 538.6Z" fill="#3399ff"/><path d="M861.6 476C862.2 474.6 864.2 473.3 866 473C867.8 472.7 872.5 473.4 874 474C875.5 474.6 877 475.8 877 477.4C877 479 875.7 481.1 874 482C872.3 482.9 869.9 482.3 868 482C866.1 481.7 864.1 481 863 480C861.9 479 861 477.4 861.6 476Z" fill="#3399ff"/><path d="M858 498C858.5 497.5 861.2 496.5 863 496C864.8 495.5 868.8 494.5 870 495C871.2 495.5 869.1 497.3 868 498C866.9 498.7 863.2 499.7 862 500C860.8 500.3 859 500.3 858.4 500C857.8 499.7 857.5 498.5 858 498Z" fill="#3399ff"/><path d="M905 508C905.5 507.4 907.5 506.6 909 506.6C910.5 506.6 912.6 506.8 913 508C913.4 509.2 911.2 509.7 910 510C908.8 510.3 906.7 510.3 906 510C905.3 509.7 904.5 508.6 905 508Z" fill="#3399ff"/><path d="M928 527.4C928.3 526 930.8 525.8 932 526C933.2 526.2 934.7 527.4 934.4 528.6C934.1 529.8 932.4 530.9 931 530.6C929.6 530.3 927.7 528.8 928 527.4Z" fill="#3399ff"/><path d="M928 543C928.6 541.9 931.9 540.9 933 541C934.1 541.1 935.5 542.4 935 543.4C934.5 544.4 932.3 545.1 931 545C929.7 544.9 927.4 544.1 928 543Z" fill="#3399ff"/><path d="M688.1 549.4C688.3 547.6 690.9 547.6 692.5 546.9C694.1 546.1 696.2 545.2 697.5 545C698.8 544.8 700.7 544.4 701.2 545.6C701.8 546.8 700.6 548.5 700 550C699.4 551.5 698.2 553.5 697.5 554.4C696.8 555.2 696.1 556.4 695 556.2C693.9 556.1 692.9 554.7 691.9 553.8C690.9 552.8 688 551.1 688.1 549.4Z" fill="#3399ff"/><path d="M700 556.2C700.3 554.9 702 553.4 703.1 552.5C704.3 551.6 705.4 550.6 706.9 550.6C708.3 550.6 710 551.4 711.2 552.5C712.5 553.6 713.8 556.1 715 557.5C716.2 558.9 717.4 559.9 718.8 561.2C720.1 562.6 721.1 563.8 722.5 565C723.9 566.2 725.8 567.7 727.5 568.8C729.2 569.8 730.8 570.4 732.5 571.2C734.2 572.1 735.7 573.5 737.5 573.8C739.3 574 740.8 573 742.5 572.5C744.2 572 748.2 570.2 750 570C751.8 569.8 753.7 570.4 755 571.2C756.3 572.1 756.1 574.4 757.5 575C758.9 575.6 762.7 573.5 763.8 575C764.8 576.5 760.5 577.5 760 578.8C759.5 580 761.1 581.3 760.6 582.5C760.1 583.7 758.8 584.4 757.5 585C756.2 585.6 753.5 584.8 752.5 586.2C751.5 587.7 753.6 589.9 753.1 591.2C752.7 592.6 751.4 593.5 750 593.8C748.6 594 747.3 593.4 746.2 592.5C745.2 591.6 744.8 589.4 743.8 588.1C742.7 586.8 741.7 585.4 740 585C738.3 584.6 736.8 585.8 735 586.2C733.2 586.7 731.8 587.7 730 587.5C728.2 587.3 726.7 586 725 585C723.3 584 721.5 582.8 720 581.2C718.5 579.7 717.1 577.9 716.2 576.2C715.4 574.6 716 572.7 715 571.2C714 569.8 711.8 568.8 710 567.5C708.2 566.2 706.4 565 705 563.8C703.6 562.5 702 561.2 701.2 560C700.5 558.8 699.7 557.6 700 556.2Z" fill="#3399ff"/><path d="M716.9 545C717.2 543.3 719.5 542.8 721.2 542.5C723 542.2 725.4 542.5 727.5 543.1C729.6 543.8 732.6 545.2 735 546.9C737.4 548.5 739.2 551 741.2 552.5C743.3 554 745 555.8 747.5 556.2C750 556.7 756.1 555.4 757.5 555.6C758.9 555.9 758.8 558.1 760 558.8C761.2 559.4 766.3 560.8 767.5 561.2C768.7 561.7 770.2 561.9 770.6 563.1C771 564.3 769.7 567.5 770 568.8C770.3 570 773.2 570.2 772.5 571.2C771.8 572.3 768.9 571.9 767.5 572.5C766.1 573.1 765.3 574.6 763.8 575C762.2 575.4 760.2 575.7 758.8 575C757.3 574.3 757.3 572.2 756.2 571.2C755.2 570.3 754 569.6 752.5 569.4C751 569.2 749.3 570 747.5 570C745.7 570 743.8 570 742.5 569.4C741.2 568.7 741 567.2 740 566.2C739 565.3 736.6 563.9 735 562.5C733.4 561.1 731.7 559.1 730 557.5C728.3 555.9 726.8 554.7 725 553.1C723.2 551.6 721.2 550 720 548.8C718.8 547.5 716.5 546.7 716.9 545Z" fill="#3399ff"/><path d="M733.8 602.5C734.2 601.5 735.9 599.8 737.5 599.4C739.1 598.9 740.8 599.7 742.5 600C744.2 600.3 748.8 601.4 750 601.2C751.2 601.1 751.3 599.1 752.5 598.8C753.7 598.4 756.3 598 757.5 598.8C758.7 599.5 759.2 601.2 758.8 602.5C758.3 603.8 756.2 605 755 606.2C753.8 607.5 752.7 608.5 751.9 610C751 611.5 750.7 613.6 750 615C749.3 616.4 748.3 617.4 747.5 618.8C746.7 620.1 746.5 622.8 745 623.8C743.5 624.7 741.6 624.4 740 623.8C738.4 623.1 736.6 621.8 736.2 620C735.9 618.2 738.1 616.9 738.1 615C738.1 613.1 736.7 609.9 736.2 608.8C735.8 607.6 734.8 606.7 734.4 605.6C734 604.6 733.3 603.5 733.8 602.5Z" fill="#3399ff"/><path d="M706.2 607.5C706.9 605.8 708.4 604.4 710 603.8C711.6 603.1 713.4 603.1 715 603.8C716.6 604.4 718.4 606.6 720 607.5C721.6 608.4 724.1 609.1 725 609.4C725.9 609.7 727.5 609.1 727.5 610C727.5 610.9 725.2 613.2 725 615C724.8 616.8 726.2 618.6 726.2 620C726.2 621.4 725.9 622.7 725 623.8C724.1 624.8 722.6 625.4 721.2 626.2C719.9 627.1 718.6 627.6 717.5 628.8C716.4 629.9 716.5 632 715 632.5C713.5 633 706.8 634 705 632.5C703.2 631 707.2 628.4 707.5 626.2C707.8 624.1 707.1 622.2 706.9 620C706.7 617.8 706.4 615.9 706.2 613.8C706.1 611.6 705.6 609.2 706.2 607.5Z" fill="#3399ff"/><path d="M495 655.5C495.4 654.2 497.6 654.3 498.8 655C499.9 655.7 503.4 660.1 503.8 661.2C504.1 662.4 502.5 663.9 501.2 663.8C500 663.6 498.1 662 497 660.5C495.9 659 494.6 656.8 495 655.5Z" fill="#3399ff"/><path d="M261.2 738.8C263.3 736.4 268 737.9 270 738.8C272 739.6 273.3 742 273.8 743.8C274.2 745.5 273.9 747.6 272.5 748.8C271.1 749.9 268.1 750 266.2 750C264.4 750 262 750.4 261.2 748.8C260.5 747.1 259.2 741.1 261.2 738.8Z" fill="#3399ff"/><path d="M279.5 732.5C280 730.8 282 725.3 283.8 724.5C285.5 723.7 287 726.8 287.5 728.8C288 730.7 286.9 732.9 286.2 735C285.6 737.1 285.5 740.6 283.8 741.2C282 741.9 280.8 739.1 280 737.5C279.2 735.9 279 734.2 279.5 732.5Z" fill="#3399ff"/><path d="M636 638C636.5 636.7 638.6 636.5 640 637C641.4 637.5 644.8 641.1 648 642C651.2 642.9 654.8 641.1 658 642C661.2 642.9 663.3 645.5 666 647C668.7 648.5 671.7 649.5 674 651C676.3 652.5 679 654.5 680 656C681 657.5 682.7 660.4 681 661C679.3 661.6 676.5 658.8 674 658C671.5 657.2 668.9 656.3 666 656C663.1 655.7 658.6 656.5 656 656C653.4 655.5 651.2 654.5 649 653C646.8 651.5 644.8 648.8 643 647C641.2 645.2 639 643.2 638 642C637 640.8 635.5 639.3 636 638Z" fill="#3399ff"/><path d="M640 652.4L643.6 652.4L643.6 655L640 655Z" fill="#3399ff"/><path d="M677 634C677.8 632.1 680.8 631.8 683 632C685.2 632.2 688.1 633.1 690 635C691.9 636.9 693.1 640.6 694 643C694.9 645.4 696.3 648.5 696 650C695.7 651.5 693.5 652.4 692 652C690.5 651.6 689.1 649.6 688 648C686.9 646.4 686.4 643.5 685 642C683.6 640.5 681.4 640.4 680 639C678.6 637.6 676.2 635.9 677 634Z" fill="#3399ff"/><path d="M626 661C626.6 660.3 628.6 659.6 630 660C631.4 660.4 633 661.7 633 663C633 664.3 631.2 664.9 630 665C628.8 665.1 627.7 664.3 627 663.6C626.3 662.9 625.4 661.7 626 661Z" fill="#3399ff"/><path d="M685 738.6L689 738.6L689 739.6L685 739.6Z" fill="#3399ff"/><path d="M706.2 609.4C703.6 610.5 705.1 614.6 705 617.5C704.9 620.4 705.7 624 705.6 626.2C705.5 628.5 704.1 630.3 704.4 632.5C704.7 634.7 706.2 637.9 707.5 640C708.8 642.1 711.1 643.9 712.5 645C713.9 646.1 715.1 647.3 716.9 647.5C718.6 647.7 720.5 646.6 722.5 646.2C724.5 645.9 726.6 645.6 728.8 645.6C730.9 645.6 733 645.3 735 646.2C737 647.2 738.4 650.1 740 651.2C741.6 652.4 743.1 653.4 745 653.8C746.9 654.1 749.1 653.3 751.2 653.1C753.4 652.9 755.3 652.2 757.5 652.5C759.7 652.8 761.9 653.7 763.8 655C765.6 656.3 767 658 768.1 660C769.2 662 769.5 664.1 770 666.2C770.5 668.4 770.3 670.5 771.2 672.5C772.2 674.5 775.7 679 776.2 680C776.8 681 778.6 682.6 777.5 683.1C776.4 683.7 773.4 683 771.2 682.5C769.1 682 766.8 680.8 765 680C763.2 679.2 761.8 678.2 760 677.5C758.2 676.8 755.1 675.5 752.5 675C749.9 674.5 747.4 675 745 674.4C742.6 673.7 740.7 672.7 738.8 671.2C736.8 669.8 735.1 667.6 733.8 666.2C732.4 664.9 731.3 663.8 730 662.5C728.7 661.2 727.5 660.2 726.2 658.8C725 657.3 723.6 655.1 722.5 653.8C721.4 652.4 720 651.6 719.4 650C718.7 648.4 718.6 646.8 718.8 645C718.9 643.2 720 641.8 720 640C720 638.2 719.1 636.7 718.8 635C718.4 633.3 717.4 631.6 718.1 630C718.8 628.4 721.1 627.5 722.5 626.2C723.9 625 725.6 624.2 726.2 622.5C726.9 620.8 726.5 618.4 726.2 616.2C726 614.1 727.3 610.2 725 609.4C722.7 608.6 708.9 608.3 706.2 609.4Z" fill="#3399ff"/><path d="M736.2 617.5C736.4 615.9 737.8 615 738.8 613.8C739.7 612.5 740.6 610 742.5 609.4C744.4 608.7 749.6 608.2 751.2 609.4C752.9 610.6 750.5 613 750 615C749.5 617 749 619.4 748.1 621.2C747.3 623.1 746.1 625.5 745 626.2C743.9 627 742.4 626.9 741.2 626.2C740.1 625.6 739 624 738.1 622.5C737.3 621 736.1 619.1 736.2 617.5Z" fill="#3399ff"/><path d="M750 636.9C750.1 635.6 751.3 634.7 752.5 634.4C753.7 634 756.6 633.7 758.1 634.4C759.7 635 760.9 636.6 761.2 638.1C761.6 639.7 761.1 641.4 760 642.5C758.9 643.6 757.1 643.9 755.6 643.8C754.2 643.6 752.8 643 751.9 641.9C750.9 640.7 749.9 638.1 750 636.9Z" fill="#3399ff"/><path d="M714.4 660C715.3 659.1 717 658.9 718.1 659.4C719.3 659.9 720 661.2 720 662.5C720 663.8 718.9 666.1 718.1 666.9C717.3 667.7 716 668 715 667.5C714 667 713.2 665.6 713.1 664.4C713 663.1 713.4 660.9 714.4 660Z" fill="#3399ff"/><path d="M741.9 681.2C742.3 680.5 744.4 678.5 745.6 678.1C746.9 677.7 748.7 677.9 749.4 678.8C750.1 679.6 749.4 681 748.8 681.9C748.1 682.8 745.9 684.1 745 684.4C744.1 684.6 743.1 684.4 742.5 683.8C741.9 683.1 741.4 682 741.9 681.2Z" fill="#3399ff"/><path d="M763.3 708.3C763.6 707.1 765.4 706.3 766.7 706.7C767.9 707.1 769.8 709.3 770.8 710.8C771.8 712.4 772.5 714 772.5 715.8C772.5 717.7 772.2 721.6 770.8 722.5C769.5 723.4 768.4 720.5 767.5 719.2C766.6 717.8 765.7 716 765 714.2C764.3 712.3 763.1 709.6 763.3 708.3Z" fill="#3399ff"/><path d="M758.3 729.2C759.1 727.6 761.4 726.6 763.3 725.8C765.3 725.1 771.2 723.4 773.3 723.3C775.5 723.2 777.7 723.4 779.2 725C780.6 726.6 779.9 729.5 780.8 731.7C781.8 733.9 783.3 736.2 785 738.3C786.7 740.5 789.3 742.7 791.7 745C794 747.3 796.4 749.5 798.3 751.7C800.3 753.9 804.4 755.6 803.3 758.3C802.3 761 797.3 759.5 795 760C792.7 760.5 790.3 760.5 788.3 761.7C786.4 762.9 785.1 765.1 784.2 766.7C783.2 768.3 783.8 770.4 782.5 771.7C781.2 773 779.1 773.7 777.5 773.3C775.9 773 774.4 771.6 774.2 770C773.9 768.4 774.5 765.4 775.8 763.3C777.1 761.3 779.5 759.8 781.7 758.3C783.8 756.9 787.6 757 788.3 755C789.1 753 786.5 751.5 785 750C783.5 748.5 780.9 746.4 778.3 745C775.8 743.6 772.4 742.7 770 741.7C767.6 740.6 765 739.5 763.3 738.3C761.6 737.2 760 735.7 759.2 734.2C758.3 732.6 757.5 730.8 758.3 729.2Z" fill="#3399ff"/><path d="M797.5 737.5C797.5 735.4 799.6 733.3 800.8 731.7C802.1 730 803.1 728.4 805 727.5C806.9 726.6 809.6 725.5 811.7 726.7C813.7 727.9 814.6 731 815 733.3C815.4 735.6 813.5 737.8 814.2 740C814.9 742.2 817.3 744.4 819.2 746.7C821 748.9 823.7 750.7 825 753.3C826.3 756 826.1 758.7 826.7 761.7C827.2 764.6 827.6 768.2 828.3 771.7C829.1 775.1 830.1 779.3 830.8 781.7C831.5 784.1 834.5 786.3 833.3 788.3C832.2 790.4 829 789.7 826.7 789.2C824.4 788.7 821.2 786.6 818.3 785C815.5 783.4 812 781.2 810 780C808 778.8 805.5 777.6 804.2 776.7C802.8 775.7 800.4 774.9 800.8 773.3C801.3 771.8 805.2 769.9 806.7 768.3C808.1 766.8 809.2 765.3 810 763.3C810.8 761.4 811.1 759 811.7 756.7C812.2 754.3 814.3 752.2 813.3 750C812.4 747.8 808.6 746.1 806.7 745C804.8 743.9 802.5 743.8 800.8 742.5C799.2 741.2 797.5 739.6 797.5 737.5Z" fill="#3399ff"/><path d="M796.7 720L800.8 720L800.8 724.2L796.7 724.2Z" fill="#3399ff"/><path d="M860 786.7C860.6 785.6 863 784 865 783.3C867 782.6 871 782.5 873.3 782.1C875.7 781.7 878.1 781.5 880 780.8C881.9 780.2 883.1 778.6 885 777.9C886.9 777.2 889.3 776.7 891.7 776.7C894 776.7 897.7 777.5 900 777.9C902.3 778.3 904.9 778.4 906.7 779.2C908.4 779.9 909.1 781.8 910.8 782.5C912.6 783.2 916.9 783.4 919.2 784.2C921.4 784.9 923.7 786.5 925 787.5C926.3 788.5 926.8 790.3 928.3 790.8C929.9 791.4 937.2 788.7 938.3 792.1C939.4 795.4 945.8 814.1 938.3 820.8C930.9 827.6 910.1 821.5 906.7 820.8C903.2 820.2 901.5 816.3 900 813.3C898.5 810.4 899 805.9 898.3 804.2C897.7 802.4 896.5 801.1 895 800C893.5 798.9 890.1 797.5 888.3 796.7C886.6 795.8 885 794.2 883.3 794.2C881.6 794.2 880.8 796.1 879.2 796.7C877.6 797.3 875.4 797.9 873.3 797.9C871.2 797.9 869.2 797.4 867.5 796.7C865.8 795.9 864.4 794.4 863.3 793.3C862.3 792.3 861.4 791.1 860.8 790C860.3 788.9 859.4 787.7 860 786.7Z" fill="#3399ff"/><path d="M763.8 708.8C763.8 707.8 765.3 707.3 766.2 707.5C767.2 707.7 769.1 708.7 770 710C770.9 711.3 771.7 713.2 771.9 715C772.1 716.8 772.4 719.2 771.2 720C770.1 720.8 769.1 718.5 768.1 717.5C767.2 716.5 766.3 715.2 765.6 713.8C764.9 712.3 763.7 709.7 763.8 708.8Z" fill="#3399ff"/><path d="M796.2 720L800.6 720L800.6 722.5L796.2 722.5Z" fill="#3399ff"/><path d="M846 612.7C846.4 611.5 848.9 610.2 850.7 609.3C852.5 608.4 856.8 606.8 858.7 606.4C860.5 606 863.5 604.9 864 606.7C864.5 608.5 861.6 610 860 611.3C858.4 612.6 856.7 613.4 854.7 614C852.7 614.6 849.9 615.1 848.7 614.9C847.5 614.7 845.6 613.8 846 612.7Z" fill="#3399ff"/><path d="M859.3 628C859.7 626.8 861.2 625.1 862.7 624C864.2 622.9 867.6 620.8 870.7 620C873.7 619.2 878.5 619.1 881.3 619.3C884.2 619.5 887.9 620.3 889.3 621.3C890.8 622.3 891.5 624.2 891.3 626C891.2 627.8 889.9 629.2 888.7 630.7C887.5 632.1 885 633.5 884 634.7C883 635.9 881.4 637.2 882 638.7C882.6 640.1 884.8 641.1 886.7 641.3C888.5 641.6 891.5 640.1 893.3 640C895.2 639.9 897.6 639.3 898.7 640.7C899.7 642 898.3 644 897.3 645.3C896.3 646.7 894.6 646.9 893.3 648C892 649.1 891.2 651.5 889.3 652C887.4 652.5 884.1 651.4 881.3 651.3C878.5 651.2 874.9 651.8 873.3 651.3C871.8 650.9 870.5 649.6 870 648C869.5 646.4 870.8 644.5 870.7 642.7C870.5 640.8 870.3 638.9 869.3 637.3C868.4 635.8 866.8 635 865.3 634C863.8 633 861.6 632.2 860.7 631.3C859.8 630.4 859 629.2 859.3 628Z" fill="#3399ff"/><path d="M896 652C896.5 650.9 898.5 650.7 900 650.4C901.5 650.1 904.9 649 906 650C907.1 651 904 651.9 902.7 652.7C901.4 653.4 899.2 654.8 898 654.7C896.8 654.6 895.5 653.1 896 652Z" fill="#3399ff"/><path d="M885.3 659.3C885.7 658.6 887.3 657.2 888.7 656.7C890 656.1 892.5 655.6 893.3 656C894.2 656.4 893.9 657.9 893.3 658.7C892.8 659.4 890.4 660.9 889.3 661.3C888.2 661.8 886.7 662 886 661.6C885.3 661.2 884.9 660.1 885.3 659.3Z" fill="#3399ff"/><path d="M919.3 640.7L924 640.7L924 641.6L919.3 641.6Z" fill="#3399ff"/><path d="M795 426.2C795.7 424.2 799.7 421.3 802.5 420C805.3 418.7 809.2 418.1 811.2 418.8C813.3 419.4 813 422.9 815 423.8C817 424.6 825.7 422.5 827.5 425.5C829.3 428.5 821.9 428.7 818.8 430C815.6 431.3 810.7 433.6 807.5 433.8C804.3 433.9 800.6 432.4 798.8 431.2C796.9 430.1 794.3 428.3 795 426.2Z" fill="#3399ff"/><path d="M735 563.1C736.4 563.4 738.9 565.5 740 566.5C741.1 567.5 741.2 569.1 742.5 569.8C743.8 570.4 745.7 570.2 747.5 570.2C749.3 570.2 751.3 569.6 752.5 569.8C753.7 569.9 754.9 570.6 755.6 571.2C756.3 571.9 757.7 573.2 756.9 573.8C756 574.3 754 573.1 752.5 573.1C751 573.1 749.2 573.4 747.5 573.8C745.8 574.1 744.2 574.7 742.5 575C740.8 575.3 739.1 576.1 737.5 575.6C735.9 575.2 734.5 573.3 733.8 572.5C733 571.7 731.9 571.1 731.9 570C731.9 568.9 733.9 568.6 733.8 567.5C733.6 566.4 730.9 566.2 731.2 565C731.6 563.8 733.6 562.9 735 563.1Z" fill="#66ffff"/><path d="M872.1 789.2C872.3 788.4 873.2 787.2 874.2 786.7C875.2 786.1 877.2 785.6 878.3 785.8C879.5 786 880.4 787 880.8 787.9C881.3 788.8 881.3 789.9 880.8 790.8C880.4 791.7 879.4 792.6 878.3 792.9C877.2 793.2 875.8 792.8 875 792.5C874.2 792.2 873.4 791.8 872.9 791.2C872.4 790.7 871.9 789.9 872.1 789.2Z" fill="#66ffff"/><path d="M929.6 820.8C928.1 819.9 929.8 816.9 930.4 815.8C931 814.7 932.1 813.9 933.3 813.8C934.6 813.6 937.3 813.5 938.3 815C939.4 816.5 940 819.7 938.3 820.8C936.6 822 931.1 821.8 929.6 820.8Z" fill="#66ffff"/><path d="M712.5 550.6C713 549.6 714.6 549.5 715.6 550C716.6 550.5 719.6 553.6 721.2 555C722.9 556.4 724.8 557.2 726.2 558.8C727.7 560.3 728.9 563.1 730 564.4C731.1 565.7 733.5 566.4 733.8 567.5C734 568.6 732.3 569.6 731.2 569.4C730.2 569.2 728.8 567.3 727.5 566.2C726.2 565.2 724.1 563.9 722.5 562.5C720.9 561.1 718.8 558.8 717.5 557.5C716.2 556.2 714.4 554.7 713.8 553.8C713.1 552.8 712 551.6 712.5 550.6Z" fill="#ffffff"/><path d="M478.1 140C479.2 139 481.2 139 482.5 139.8C483.8 140.5 483.9 142.3 484.4 143.8C484.8 145.2 484.7 148 485.6 150C486.5 152 488 154.5 490 156.2C492 158 495 159.3 497.5 160C500 160.7 502.7 160.1 505 160.6C507.3 161.1 509.3 161.8 511.2 163.1C513.2 164.4 515.1 167.1 517.5 168.8C519.9 170.4 523 170.8 525 172.5C527 174.2 528.7 177.1 529.4 178.8C530.1 180.4 530.6 182.2 530 183.8C529.4 185.3 527.9 186.7 526.2 186.9C524.6 187.1 522.2 185.7 520 185C517.8 184.3 512.7 182.4 510 181.2C507.3 180.1 504.9 179 502.5 177.5C500.1 176 497.8 174 496.2 172.5C494.7 171 494.2 168.8 492.5 167.5C490.8 166.2 487 165.2 485 163.8C483 162.3 481.2 160.7 480 158.8C478.8 156.8 478.6 154.7 478.1 152.5C477.6 150.3 476.9 146.8 476.9 145C476.9 143.2 477 141 478.1 140Z" fill="#0000ff"/><path d="M514.4 191.2C515.7 190.5 517.8 190.4 519.4 191.2C520.9 192.1 523.6 195.6 525 196.9C526.4 198.1 528.4 198.4 529.4 200C530.3 201.6 531.1 204.2 530 205.6C528.9 207 526.7 205.7 525 205.6C523.3 205.5 519.8 204.8 517.5 205C515.2 205.2 512.2 206.8 511.2 206.9C510.3 206.9 508.6 206.6 508.8 205.6C508.9 204.7 511.2 203 511.9 201.2C512.5 199.5 512.1 196.4 512.5 195C512.9 193.6 513.1 192 514.4 191.2Z" fill="#0000ff"/><path d="M583.4 309C583.7 308 585.2 307 586 307.6C586.8 308.2 587.4 310.5 587.6 312C587.8 313.5 587.8 315.6 587 316.4C586.2 317.2 584.5 316.6 584 315.6C583.5 314.6 583.1 310 583.4 309Z" fill="#0000ff"/><path d="M704 336.4C704.8 335.9 707.9 335.4 710 335.6C712.1 335.8 718.9 337.4 720 338C721.1 338.6 721.2 341.2 720 341.6C718.8 342 711.9 341.3 710 341C708.1 340.7 705.8 339.6 705 339C704.2 338.4 703.2 336.9 704 336.4Z" fill="#0000ff"/><path d="M520 344.4C520.2 343.5 521 342.6 521.9 342.5C522.8 342.4 523.9 342.9 524.4 343.8C524.9 344.6 525.2 347.2 525 348.1C524.8 349 524 350.1 523.1 350C522.2 349.9 521.2 348.8 520.6 347.8C520.1 346.7 519.8 345.3 520 344.4Z" fill="#0000ff"/><path d="M565.9 356.2C566 355.4 567.3 354.7 568.1 355C569 355.3 570.3 357.1 570.6 358.1C570.9 359.2 570.7 360.7 570 361.2C569.3 361.8 568.1 361.3 567.5 360.6C566.9 359.9 565.8 357.1 565.9 356.2Z" fill="#0000ff"/><path d="M549.8 388.1C550 387.3 551 386.6 551.9 386.9C552.7 387.1 554 388.2 554.4 389.4C554.8 390.5 555.5 394.6 555.6 397.5C555.7 400.4 555 405.5 555 407.5C555 409.5 555.9 412.3 555.6 413.1C555.4 414 553.8 414.3 553.1 413.8C552.4 413.2 551.1 411.1 550.6 409.4C550.2 407.7 550 403.9 549.8 401.2C549.5 398.6 549.4 395.7 549.4 393.8C549.4 391.8 549.5 388.9 549.8 388.1Z" fill="#0000ff"/><path d="M605 408.8C605.3 407.8 606.7 407 607.5 407.5C608.3 408 608.6 410.1 608.8 411.2C608.9 412.4 608.8 413.8 608.1 414.4C607.4 414.9 606.1 414.5 605.6 413.8C605.2 413 604.7 409.7 605 408.8Z" fill="#0000ff"/><path d="M704 337C704.7 336.5 707.8 335.5 710 335.6C712.2 335.7 718.7 337.5 720 338C721.3 338.5 723.9 339.4 723 340.4C722.1 341.4 718.5 342.2 716 342.4C713.5 342.6 709.4 341.9 708 341.6C706.6 341.3 705 340.3 704.4 339.6C703.8 338.9 703.3 337.5 704 337Z" fill="#0000ff"/><path d="M728 353.6C728.9 352.5 731.8 351.7 734 352C736.2 352.3 739.2 354.3 740 355C740.8 355.7 741.9 357.3 741 358C740.1 358.7 736.9 359.2 735 359C733.1 358.8 731.1 357.8 730 357C728.9 356.2 727.1 354.7 728 353.6Z" fill="#0000ff"/><path d="M778 394.4C778.5 393.4 779.8 393 781 393C782.2 393 784.1 393.2 785 394.4C785.9 395.6 786.5 397.7 785.6 399C784.7 400.3 782.1 400.2 781 400C779.9 399.8 778.9 399 778.4 398C777.9 397 777.5 395.4 778 394.4Z" fill="#0000ff"/><path d="M654 521.6L656.4 521.6L656.4 524L654 524Z" fill="#0000ff"/><path d="M605.2 408.8C605.8 407.8 607.2 406.9 608.1 407.5C609.1 408.1 609.3 410.1 609.4 411.2C609.5 412.4 609.3 413.7 608.8 414.4C608.2 415.1 607.1 415.4 606.2 415C605.4 414.6 605.2 413.5 605 412.5C604.8 411.5 604.7 409.7 605.2 408.8Z" fill="#0000ff"/><path d="M611 427.8L612 427.8L612 430L611 430Z" fill="#0000ff"/><path d="M599 433.8C599.1 433 600 431.8 600.6 432.2C601.3 432.7 602.6 434.7 603.1 436.2C603.6 437.8 603.9 441.1 603.8 441.9C603.6 442.7 602.6 443.5 601.9 443.1C601.2 442.8 600.1 441.3 599.8 440C599.4 438.7 598.9 434.5 599 433.8Z" fill="#0000ff"/><path d="M824 451C824.9 448.8 829.1 449.3 832 449C834.9 448.7 840.6 449.1 842 449.4C843.4 449.7 845.5 450.7 845 452C844.5 453.3 842 454.3 840 454.6C838 454.9 832.3 454.5 830 454C827.7 453.5 823.1 453.2 824 451Z" fill="#0000ff"/><path d="M866 475.4C866.8 474.1 869.3 474.2 871 474.6C872.7 475 874.7 476 875 477.4C875.3 478.8 873.8 480.2 872.4 480.6C871 481 869.2 480.4 868 479.4C866.8 478.4 865.2 476.7 866 475.4Z" fill="#0000ff"/><path d="M690.6 551.9L693.1 551.9L693.1 553.8L690.6 553.8Z" fill="#0000ff"/><path d="M721.9 545.6C722 545 723.1 544.7 723.8 545C724.4 545.3 725.2 546.2 725 546.9C724.8 547.6 723.8 548 723.1 547.8C722.5 547.5 721.7 546.3 721.9 545.6Z" fill="#0000ff"/><path d="M726.2 550C726.6 548.7 728.6 548.8 730 548.8C731.4 548.8 734.3 548.9 736.2 550C738.2 551.1 739.9 553.4 741.2 555C742.6 556.6 743.7 558 744.4 560C745 562 746 565 745 566.2C744 567.5 742.6 564.5 741.2 563.8C739.9 563 737.8 562.3 736.2 561.2C734.7 560.2 733.8 558.8 732.5 557.5C731.2 556.2 729.8 555 728.8 553.8C727.7 552.5 725.9 551.3 726.2 550Z" fill="#0000ff"/><path d="M705 557.5C705.1 556 707 554.7 708.1 554.4C709.3 554 710.3 554.9 711.2 555.6C712.2 556.3 714.1 558 715 559.4C715.9 560.7 716.9 562.5 716.9 563.8C716.9 565 716.2 566.5 715 566.9C713.8 567.3 712.4 566.3 711.2 565.6C710.1 564.9 708.5 563.9 707.5 562.5C706.5 561.1 704.9 559 705 557.5Z" fill="#0000ff"/><path d="M751.2 561.9C751.1 560.8 752.7 560.2 753.8 560.2C754.8 560.2 757.2 561.7 758.8 561.9C760.3 562 762.2 560.9 763.1 561.2C764.1 561.6 764.7 562.8 764.4 563.8C764.1 564.7 762.5 566.9 761.2 567.5C760 568.1 758.7 567.4 757.5 566.9C756.3 566.3 755.5 565.2 754.4 564.4C753.3 563.5 751.4 562.9 751.2 561.9Z" fill="#0000ff"/><path d="M740 578.8C740.4 577.6 741.7 576.5 743.1 576.2C744.5 576 746.2 576.6 747.5 577.5C748.8 578.4 749.9 580 750 581.2C750.1 582.5 749.3 583.9 748.1 584.4C747 584.9 745.6 584.2 744.4 583.8C743.2 583.3 742 582.8 741.2 581.9C740.5 581 739.6 579.9 740 578.8Z" fill="#0000ff"/><path d="M720 575L721.9 575L721.9 576.2L720 576.2Z" fill="#0000ff"/><path d="M722.5 577.5L723.8 577.5L723.8 578.8L722.5 578.8Z" fill="#0000ff"/><path d="M755.6 580.6L756.9 580.6L756.9 581.9L755.6 581.9Z" fill="#0000ff"/><path d="M737.5 603.8C737.5 602.7 738.9 601.8 740 601.9C741.1 602 743.3 603.7 745 604.4C746.7 605 749.2 604.4 750 605.6C750.8 606.9 749.3 608.5 748.1 609.4C746.9 610.2 745.3 610.3 743.8 610C742.2 609.7 741.1 608.6 740 607.5C738.9 606.4 737.5 604.8 737.5 603.8Z" fill="#0000ff"/><path d="M752.5 602.5C752.7 602.1 753.7 601.3 754.4 601.5C755.1 601.7 756 602.8 755.6 603.5C755.2 604.2 753.6 603.9 753.1 603.8C752.7 603.6 752.3 602.9 752.5 602.5Z" fill="#0000ff"/><path d="M740 618.8L743.8 618.8L743.8 622.5L740 622.5Z" fill="#0000ff"/><path d="M710 610C710.2 608.4 711.3 606.8 712.5 606.2C713.7 605.7 715.1 606.1 716.2 606.9C717.4 607.6 719 610 720 611.2C721 612.5 722 613.5 722.5 615C723 616.5 723.6 618.7 723.1 620C722.7 621.3 721.4 622.5 720 622.5C718.6 622.5 716.5 621.1 715 620C713.5 618.9 712.1 617.9 711.2 616.2C710.4 614.6 709.8 611.6 710 610Z" fill="#0000ff"/><path d="M261.2 741.2L264.5 741.2L264.5 747.5L261.2 747.5Z" fill="#0000ff"/><path d="M667 650C667.5 649.3 668.9 648.3 670 648.6C671.1 648.9 674.3 651.2 675 652C675.7 652.8 676.5 654.4 675.6 655C674.7 655.6 672.4 655.5 671 655C669.6 654.5 668.1 653.1 667.6 652.4C667.1 651.7 666.5 650.7 667 650Z" fill="#0000ff"/><path d="M739.8 619.4C740 618.6 741.1 618.4 741.9 618.5C742.7 618.6 744 619.1 744.4 620C744.8 620.9 744.7 622.5 743.8 623.1C742.8 623.7 741.4 623.3 740.6 622.5C739.8 621.7 739.5 620.1 739.8 619.4Z" fill="#0000ff"/><path d="M753.8 637.5C754.1 636.6 755.4 636.2 756.2 636.5C757.1 636.8 758.4 638.3 758.5 639.4C758.6 640.4 757.8 641.6 756.9 641.9C755.9 642.2 754.9 641.4 754.4 640.6C753.8 639.8 753.4 638.4 753.8 637.5Z" fill="#0000ff"/><path d="M706.9 631.9C707 631.1 708.3 632.5 708.8 633.1C709.2 633.8 711.7 637.8 711.9 638.8C712.1 639.7 711.6 641.4 710.6 641.2C709.7 641.1 708.6 639.4 708.1 638.1C707.6 636.8 706.8 632.7 706.9 631.9Z" fill="#0000ff"/><path d="M721.9 647.5C722.5 646.6 724.7 646.3 726.2 646.2C727.8 646.2 731.1 646.5 732.5 646.9C733.9 647.2 735.2 647.8 736.2 648.8C737.3 649.7 738.9 651.8 740 653.8C741.1 655.7 741.8 658.6 742.5 660C743.2 661.4 744 662.5 745 663.8C746 665 748.2 666.6 748.8 667.5C749.3 668.4 750.2 669.8 749.4 670.6C748.6 671.4 745.7 672.6 743.8 672.5C741.8 672.4 740.2 671.3 738.8 670C737.3 668.7 736 666.7 735 665C734 663.3 733.6 661.6 732.5 660C731.4 658.4 728.7 655.1 727.5 653.8C726.3 652.4 724.5 650.8 723.8 650C723 649.2 721.3 648.4 721.9 647.5Z" fill="#0000ff"/><path d="M751.2 657.5C752.3 655.9 755.3 656 757.5 656C759.7 656 763 656.4 765 657.5C767 658.6 768.8 660.4 769.4 662.5C770 664.6 768.1 666.5 768.1 668.8C768.1 671 770.3 674.8 769.4 676.2C768.4 677.7 766.6 674.6 765 673.8C763.4 672.9 761.6 672.3 760 671.2C758.4 670.2 756.8 669 755.6 667.5C754.4 666 753.9 664.2 753.1 662.5C752.4 660.8 750.2 659.1 751.2 657.5Z" fill="#0000ff"/><path d="M709.4 609.4C711.8 607.7 721.3 608 723.8 609.4C726.2 610.8 724.1 615.9 724 617.5C723.9 619.1 724.1 621.1 722.8 621.9C721.4 622.7 718.8 622.3 716.9 621.5C715 620.7 713.1 619.4 711.9 617.5C710.7 615.6 706.9 611.1 709.4 609.4Z" fill="#0000ff"/><path d="M767.5 710.8L770 710.8L770 714.2L767.5 714.2Z" fill="#0000ff"/><path d="M763.3 730L767.5 730L767.5 734.2L763.3 734.2Z" fill="#0000ff"/><path d="M809.2 774.2C809 772.1 811.9 771.5 813.3 770C814.8 768.5 816.5 767.6 817.5 765.8C818.5 764 818.1 759.3 819.7 758.3C821.3 757.4 821.1 761.5 821.7 763.3C822.2 765.1 822.5 767.7 823.3 770C824.2 772.3 825.7 774.3 826.7 776.7C827.7 779.1 830 784.4 830 785.8C830 787.3 828.1 788.6 826.7 788.3C825.2 788.1 822.2 785.8 820 784.2C817.8 782.6 816 780.8 814.2 779.2C812.3 777.5 809.4 776.2 809.2 774.2Z" fill="#0000ff"/><path d="M885.4 785.8C885.8 785.1 887.1 783.6 888.3 782.9C889.6 782.2 891.5 781.8 893.3 781.7C895.1 781.5 898.5 781.7 900 782.1C901.5 782.4 903.1 782.8 903.8 784.2C904.4 785.5 903 787.8 903.3 789.2C903.7 790.6 904.7 791.6 905.8 792.5C907 793.4 908.9 794.8 910.8 795.4C912.7 796.1 914.6 796.1 916.7 796.2C918.7 796.4 921 796.3 923.3 796.2C925.7 796.2 929.3 796 931.7 795.8C934 795.7 936.9 793.6 938.3 795.4C939.8 797.2 939.4 802.4 938.3 804.2C937.3 805.9 934 804.3 932.5 805C931 805.7 930.1 807 929.2 808.3C928.2 809.7 927.6 812 926.7 813.3C925.7 814.7 924.4 816.1 923.3 816.7C922.3 817.2 921.1 817.5 920 817.1C918.9 816.7 917.8 815 916.7 814.2C915.6 813.3 914.6 812.5 913.3 812.1C912 811.6 909.9 811.7 908.3 811.2C906.8 810.8 904.9 809.8 904.2 809.2C903.4 808.5 902.6 807.6 902.9 806.7C903.2 805.7 904.5 804.5 905.8 804.2C907.1 803.9 910.7 804.7 911.7 804.6C912.6 804.5 913.8 804.2 914.2 803.3C914.5 802.5 914 801.5 913.3 800.8C912.7 800.2 911.2 799.8 910 799.2C908.8 798.6 907.3 797.8 905.8 797.1C904.4 796.4 903.2 795.4 901.7 795C900.1 794.6 898.4 794.8 896.7 794.6C894.9 794.4 893.3 794.3 891.7 793.8C890.1 793.2 888.4 792.1 887.5 791.2C886.6 790.4 885.7 789.2 885.4 788.3C885.1 787.5 885 786.6 885.4 785.8Z" fill="#0000ff"/><path d="M859.6 790C859.4 788.9 860.8 788.2 861.7 787.5C862.6 786.8 864.1 785.8 865 785.8C865.9 785.8 866.9 786.6 867.1 787.5C867.3 788.4 866.6 789.3 865.8 790C865.1 790.7 863.7 791.7 862.5 791.7C861.3 791.7 859.8 791.1 859.6 790Z" fill="#0000ff"/><path d="M767.5 711.2C767.7 710.6 769 711.3 769.4 711.9C769.8 712.5 770.2 714.5 770 715C769.8 715.5 768.8 714.8 768.5 714.4C768.2 713.9 767.3 711.9 767.5 711.2Z" fill="#0000ff"/><path d="M866 625.3C866.4 623.7 868.7 622.2 870.7 621.3C872.6 620.5 875.8 620 878.7 620C881.5 620 885.2 620.9 886.7 621.6C888.1 622.3 889.2 623.7 889.3 625.3C889.5 626.9 888.5 628.6 887.3 630C886.2 631.4 884.4 632.3 882.7 633.3C880.9 634.4 878.7 635.3 877.3 636C875.9 636.7 874.8 638.3 873.3 638C871.9 637.7 871.4 636 870.7 634.7C870 633.4 869.4 630.8 868.7 629.3C867.9 627.8 865.6 627 866 625.3Z" fill="#0000ff"/><path d="M875.3 644C875.9 643.2 877.4 642.7 878.7 642.7C879.9 642.7 883.4 644 885.3 644C887.3 644 889.6 642.7 890.7 642.7C891.7 642.7 893.6 643 893.3 644C893 645 891 646.5 889.3 647.3C887.7 648.1 885.8 648.4 884 648.7C882.2 649 880 649.4 878.7 649.1C877.4 648.8 876.3 647.5 875.7 646.7C875.2 645.9 874.8 644.8 875.3 644Z" fill="#0000ff"/><path d="M480.6 144.4C481.1 143.9 482.2 144.4 482.5 145C482.8 145.6 483.5 149.4 484.4 151.2C485.2 153.1 486.1 154.7 487.5 156.2C488.9 157.8 491.2 158.5 492.5 160C493.8 161.5 494.7 163.7 495 165C495.3 166.3 495.7 168.4 494.4 168.8C493.1 169.1 491.6 167.1 490 166.2C488.4 165.4 486.4 164.8 485 163.8C483.6 162.7 482.6 161.5 481.9 160C481.1 158.5 480.3 155.9 480 153.8C479.7 151.6 479.9 148.6 480 147.5C480.1 146.4 480.1 144.9 480.6 144.4Z" fill="#00ff00"/><path d="M501.9 163.8C502.6 162.2 504.6 161.7 506.2 161.9C507.9 162.1 509.6 163.8 511.2 165C512.9 166.2 515.2 168.4 517.5 170C519.8 171.6 523.2 173.5 525 175C526.8 176.5 528.8 178.8 529.4 180C530 181.2 530 182.6 529.4 183.8C528.8 184.9 527.6 186.1 526.2 186C524.9 185.9 522.3 183.9 520 183.1C517.7 182.3 513.6 181.6 511.2 180.6C508.9 179.6 506.6 178.8 505 176.9C503.4 174.9 503 172.1 502.5 170C502 167.9 501.2 165.3 501.9 163.8Z" fill="#00ff00"/><path d="M518.1 195C518.9 194.4 519.9 195.6 520.6 196.2C521.4 196.9 522.4 198.3 523.1 199.4C523.9 200.5 526.2 202.1 525 202.8C523.8 203.4 518.6 203.1 517.5 202.8C516.4 202.4 515.5 201.2 515.6 200C515.7 198.8 517.3 195.6 518.1 195Z" fill="#00ff00"/><path d="M585 309.6L586.4 309.2L586.8 316L585.2 316Z" fill="#00ff00"/><path d="M550.4 391.2C550.8 390.1 553.1 390 553.8 391C554.4 392 554.2 395.7 554.4 397.5C554.6 399.3 555.1 401.1 555 402.5C554.9 403.9 554.4 405.8 553.8 406.2C553.1 406.7 552.2 405.7 551.9 405C551.5 404.3 550.8 401.8 550.6 400C550.4 398.2 550 392.4 550.4 391.2Z" fill="#00ff00"/><path d="M552.5 409.4C552.6 408.9 553.5 408.3 553.8 408.8C554 409.2 554.2 412.1 554.1 412.5C554 412.9 553.1 412.9 552.9 412.5C552.7 412.1 552.4 409.9 552.5 409.4Z" fill="#00ff00"/><path d="M730 354C730.6 352.9 732.6 352.7 734 353C735.4 353.3 738 355 738.4 356C738.8 357 737.1 357.8 736 358C734.9 358.2 733 357.7 732 357C731 356.3 729.4 355.1 730 354Z" fill="#00ff00"/><path d="M780 395C780.3 394.1 781.5 393.8 782.4 394C783.3 394.2 784.2 395.1 784.4 396C784.6 396.9 784.3 397.9 783.6 398.4C782.9 398.9 781.7 399 781 398.4C780.3 397.8 779.7 395.9 780 395Z" fill="#00ff00"/><path d="M601 438.1L603.1 438.1L603.1 440.6L601.2 440.2Z" fill="#00ff00"/><path d="M831 451.4C832 450.6 836.2 450.1 838 450C839.8 449.9 842.3 449.8 843 451C843.7 452.2 841.3 453.2 840 453.6C838.7 454 835.2 453.7 834 453.4C832.8 453.1 830 452.2 831 451.4Z" fill="#00ff00"/><path d="M868.4 476.6C868.8 475.4 871.1 475.8 872 476C872.9 476.2 873.9 477.1 873.6 478C873.3 478.9 872 479.7 871 479.4C870 479.1 868 477.8 868.4 476.6Z" fill="#00ff00"/><path d="M729.4 551.9C729.8 550.8 731.2 550 732.5 550C733.8 550 735.6 550.8 736.9 551.9C738.2 552.9 739.2 554.6 740 556.2C740.8 557.9 741.9 560.1 741.2 561.2C740.6 562.4 738.7 561.2 737.5 560.6C736.3 560 734.8 558.4 733.8 557.5C732.7 556.6 731.3 555.9 730.6 555C729.9 554.1 729 553 729.4 551.9Z" fill="#00ff00"/><path d="M708.1 558.1C708.3 557.2 709 555.9 710 556C711 556.1 712.2 557.6 713.1 558.8C714 559.9 715.5 562.2 715.6 563.1C715.8 564.1 715.3 565.5 714.4 565.6C713.4 565.8 712.2 564.5 711.2 563.8C710.3 563 709.6 562.2 709 561.2C708.4 560.3 707.9 559.1 708.1 558.1Z" fill="#00ff00"/><path d="M756.9 564.4C757.3 563.7 759.1 563.5 760 563.1C760.9 562.7 761.7 561.5 762.5 561.9C763.3 562.2 763.5 563.5 763.1 564.4C762.8 565.2 761.4 566.2 760.6 566.5C759.8 566.8 758.8 566.6 758.1 566.2C757.4 565.9 756.5 565.1 756.9 564.4Z" fill="#00ff00"/><path d="M741.2 579.4C741.2 578.2 742.6 577.4 743.8 577.2C744.9 577.1 746.6 578 747.5 578.8C748.4 579.5 749.5 580.4 749.4 581.5C749.2 582.6 748 583.3 746.9 583.5C745.8 583.7 744.7 583.2 743.8 582.5C742.8 581.8 741.2 580.5 741.2 579.4Z" fill="#00ff00"/><path d="M739 603.5C739.3 602.7 740.5 602.5 741.2 602.8C742 603 745.4 605.2 746.2 605.6C747.1 606 748.6 605.4 748.8 606.2C748.9 607.1 748 608.6 746.9 609C745.8 609.4 744.4 609 743.1 608.5C741.9 608 740.7 607 740 606.2C739.3 605.5 738.7 604.3 739 603.5Z" fill="#00ff00"/><path d="M711.2 610.6C711.5 609.3 712.6 608.1 713.8 607.8C714.9 607.4 716 608.2 716.9 609C717.8 609.8 719.7 612.1 720.6 613.8C721.5 615.4 722.3 617.6 722.2 618.8C722.2 619.9 721.1 621.1 720 621C718.9 620.9 716.9 619.1 715.6 618.1C714.4 617.1 713 616.4 712.2 615C711.5 613.6 711 611.9 711.2 610.6Z" fill="#00ff00"/><path d="M668.6 651C668.6 650.1 670.2 650.1 671 650.4C671.8 650.7 673.6 652 673.6 653C673.6 654 671.9 654.4 671 654C670.1 653.6 668.6 651.9 668.6 651Z" fill="#00ff00"/><path d="M722.8 647.5C723.5 646.2 725.9 647.3 727.5 647.5C729.1 647.7 730.9 648.1 732.5 648.8C734.1 649.4 735.6 650 736.9 651.2C738.1 652.5 739.2 654.6 740 656.2C740.8 657.9 740.9 659.7 741.9 661.2C742.9 662.8 744.5 663.9 745.6 665C746.7 666.1 748.4 667.3 748.8 668.1C749.1 668.9 748.9 670.1 748.1 670.6C747.4 671.1 745.3 672 743.8 671.6C742.2 671.3 740.6 670.1 739.4 668.8C738.1 667.4 737.2 665.5 736.2 663.8C735.3 662 734.8 660.4 733.8 658.8C732.7 657.1 731.4 655.8 730 654.4C728.6 652.9 726.7 651.6 725.6 650.6C724.5 649.6 722 648.8 722.8 647.5Z" fill="#00ff00"/><path d="M754.4 658.1C755 657.4 757.2 656.8 758.8 656.9C760.3 657 763.3 657.7 765 658.8C766.7 659.8 768 661.4 768.5 663.1C769 664.8 768.1 666.7 767.5 668.1C766.9 669.6 766.6 672.1 765 671.9C763.4 671.7 763.6 668.9 762.5 667.5C761.4 666.1 759.8 664.8 758.8 663.8C757.7 662.7 756.2 661.4 755.6 660.6C755 659.9 753.7 658.9 754.4 658.1Z" fill="#00ff00"/><path d="M710.6 609.4C711.7 609.1 719.8 608.2 721.9 609.4C724 610.6 722.8 614.7 722.8 616.2C722.8 617.8 723.1 619.7 721.9 620.6C720.6 621.5 718.9 620.7 717.5 620C716.1 619.3 714.1 617.4 713.1 616.2C712.2 615.1 711.6 613.5 711.2 612.5C710.9 611.5 709.6 609.7 710.6 609.4Z" fill="#00ff00"/><path d="M810.8 774.2C810.8 772.1 813.4 771 815 770C816.6 769 818.3 767.6 820 768.3C821.7 769 822.3 771.5 823.3 773.3C824.3 775.2 825.4 777.9 826.3 780C827.3 782.1 829.3 784.6 829.2 785.8C829.1 787.1 827 787.6 825.8 787.2C824.7 786.7 821.8 783.9 820 782.5C818.2 781.1 816.5 779.7 815 778.3C813.5 776.9 810.8 776.2 810.8 774.2Z" fill="#00ff00"/><path d="M887.1 788.3C887.1 787.1 888.1 786.1 889.2 785.4C890.2 784.8 892.7 784.1 894.2 784C895.6 783.9 897.3 784 898.3 784.6C899.3 785.2 899.8 786.3 900 787.5C900.2 788.7 900 790.8 899.6 791.7C899.2 792.6 898.4 793.2 897.5 793.5C896.6 793.8 894.8 794 893.3 793.8C891.9 793.5 890.3 793.1 889.2 792.1C888 791.1 887.1 789.6 887.1 788.3Z" fill="#00ff00"/><path d="M905 807.5C904.8 806.7 905.2 805.8 905.8 805.4C906.5 805 908 804.8 909.2 805C910.3 805.2 911.9 806.4 913.3 806.7C914.8 807 916.3 807.5 917.5 806.8C918.7 806.2 918.8 804.2 919.2 803.3C919.5 802.5 919.3 801.4 920 800.8C920.7 800.3 922.2 800.1 923.3 800C924.5 799.9 925.8 800.1 926.7 800C927.6 799.9 928.3 799.3 929.2 799.2C930.1 799 936.6 797.1 938.3 797.9C940.1 798.7 939.4 802.3 938.3 803.3C937.3 804.4 935.3 802.4 934.2 802.1C933 801.8 932 801.2 930.8 801.2C929.6 801.2 928.2 801.3 927.5 802.1C926.8 802.8 927.2 804 927.5 805C927.8 806 929.1 806.5 929 807.5C928.9 808.5 927.4 810.4 926.7 811.2C925.9 812.1 924.9 812.6 924.2 813.3C923.5 814.1 923.5 815.5 922.5 815.8C921.5 816.2 919.9 816 918.8 815.4C917.6 814.8 916.8 813 915.4 812.1C914 811.2 912.3 810.9 910.8 810.4C909.4 809.9 907.4 809.5 906.7 809.2C905.9 808.8 905.2 808.3 905 807.5Z" fill="#00ff00"/><path d="M860.8 790L862.9 790L862.9 791L860.8 791Z" fill="#00ff00"/><path d="M869.1 626C869.4 625.1 870.6 623.4 872 622.7C873.4 622 876.3 621.1 878.7 621.1C881 621 883.9 621.7 885.3 622.4C886.7 623.1 887.9 624.4 888 626C888.1 627.6 887.1 628.9 886 630C884.9 631.1 883.1 632.4 881.3 633.1C879.6 633.8 877.7 634.3 876 634C874.3 633.7 873 632.1 872 631.3C871 630.5 870.1 629.5 869.6 628.7C869.1 627.8 868.7 626.9 869.1 626Z" fill="#00ff00"/><path d="M878 644L882 644L882 648L878 648Z" fill="#00ff00"/><path d="M506.2 166.2C507 165.2 508.9 165.6 510 166.2C511.1 166.9 514.5 170.3 516.2 171.9C518 173.4 520.8 175.4 521.2 176.2C521.7 177.1 520.9 178.5 520 178.8C519.1 179 516.7 178.7 515 178.1C513.3 177.5 511.4 176.3 510 175C508.6 173.7 507.5 172 506.9 170.6C506.3 169.2 505.5 167.3 506.2 166.2Z" fill="#00cc00"/><path d="M522.5 178.8C523.3 178.4 524.8 179.2 525.6 180C526.5 180.8 527.2 182.3 526.9 183.1C526.6 184 525.2 184.1 524.4 183.8C523.5 183.4 522.8 182.1 522.5 181.2C522.2 180.4 521.7 179.1 522.5 178.8Z" fill="#00cc00"/><path d="M731.9 653.1C732.2 651.9 734.5 652.5 735.6 653.1C736.8 653.7 738.5 655.5 739.4 656.9C740.2 658.2 740.9 660.4 740.6 661.2C740.4 662.1 738.9 661.7 738.1 661.2C737.4 660.8 735.5 658.9 734.4 657.5C733.3 656.1 731.5 654.4 731.9 653.1Z" fill="#00cc00"/><path d="M740 665C740.8 664.2 742.6 664.9 743.8 665.6C744.9 666.3 746.9 668.2 746.9 669.4C746.9 670.6 744.9 670.9 743.8 670.6C742.6 670.4 741.6 669.1 741 668.1C740.4 667.2 739.2 665.8 740 665Z" fill="#00cc00"/><path d="M760.6 660C761.5 659.3 763.8 659.7 765 660.6C766.2 661.6 767.1 663.9 766.9 665C766.6 666.1 764.8 666 763.8 665.6C762.7 665.2 762.4 664.1 761.9 663.1C761.3 662.2 759.7 660.7 760.6 660Z" fill="#00cc00"/><path d="M815.8 773.3C816.2 772.1 818 771.2 819.2 771.7C820.4 772.2 821.7 774.6 822 775.8C822.3 777 822 778.9 820.8 779.2C819.6 779.4 818.3 777.7 817.5 776.7C816.7 775.7 815.4 774.6 815.8 773.3Z" fill="#00cc00"/><path d="M892.1 789.2C892.4 788.6 893.5 788 894.2 788.3C894.8 788.7 894.9 789.8 894.6 790.4C894.2 791 893.2 791.1 892.7 790.8C892.1 790.6 891.8 789.7 892.1 789.2Z" fill="#00cc00"/><path d="M872 626C872.5 624.8 874.3 623.2 876 622.7C877.7 622.1 881.1 622.1 882.7 622.7C884.2 623.2 886 624.4 886 626C886 627.6 884.2 629.6 882.7 630.7C881.1 631.8 879 632.2 877.3 632C875.7 631.8 874.2 630.3 873.3 629.3C872.5 628.4 871.5 627.2 872 626Z" fill="#00cc00"/><path d="M875.3 625.3C875.8 624.5 877.4 623.8 878.7 623.7C880 623.6 882.5 624.1 883.3 624.7C884.1 625.2 884.6 626.6 884 627.3C883.4 628.1 881.4 629.2 880 629.3C878.6 629.5 877 628.6 876.3 628C875.5 627.4 874.8 626.2 875.3 625.3Z" fill="#009900"/><path d="M878.7 625.3C879 624.7 880.3 623.9 881.3 624C882.4 624.1 883.6 625.2 883.7 626C883.9 626.8 882.8 627.5 882 627.7C881.2 628 879.9 627.8 879.3 627.3C878.7 626.9 878.3 626 878.7 625.3Z" fill="#ffff00"/></g>
<g stroke="#a6a6a6" fill="none" clip-path="url(#cp)"><line x1="301.08" y1="85.35" x2="301.08" y2="820.5" stroke-dasharray="1.8 7.73" stroke-width="1.6"/><line x1="358.96" y1="85.35" x2="358.96" y2="820.5" stroke-dasharray="1.8 7.73" stroke-width="1.6"/><line x1="416.83" y1="85.35" x2="416.83" y2="820.5" stroke-dasharray="1.8 7.73" stroke-width="1.6"/><line x1="474.71" y1="85.35" x2="474.71" y2="820.5" stroke-dasharray="1.8 7.73" stroke-width="1.6"/><line x1="532.58" y1="85.35" x2="532.58" y2="820.5" stroke-dasharray="1.8 7.73" stroke-width="1.6"/><line x1="590.45" y1="85.35" x2="590.45" y2="820.5" stroke-dasharray="1.8 7.73" stroke-width="1.6"/><line x1="648.33" y1="85.35" x2="648.33" y2="820.5" stroke-dasharray="1.8 7.73" stroke-width="1.6"/><line x1="706.2" y1="85.35" x2="706.2" y2="820.5" stroke-dasharray="1.8 7.73" stroke-width="1.6"/><line x1="764.08" y1="85.35" x2="764.08" y2="820.5" stroke-dasharray="1.8 7.73" stroke-width="1.6"/><line x1="821.95" y1="85.35" x2="821.95" y2="820.5" stroke-dasharray="1.8 7.73" stroke-width="1.6"/><line x1="879.83" y1="85.35" x2="879.83" y2="820.5" stroke-dasharray="1.8 7.73" stroke-width="1.6"/><line x1="271.7" y1="124.41" x2="937.7" y2="124.41" stroke-dasharray="2.4 7.42" stroke-width="1.15"/><line x1="271.7" y1="191.77" x2="937.7" y2="191.77" stroke-dasharray="2.4 7.42" stroke-width="1.15"/><line x1="271.7" y1="259.14" x2="937.7" y2="259.14" stroke-dasharray="2.4 7.42" stroke-width="1.15"/><line x1="271.7" y1="326.5" x2="937.7" y2="326.5" stroke-dasharray="2.4 7.42" stroke-width="1.15"/><line x1="271.7" y1="393.86" x2="937.7" y2="393.86" stroke-dasharray="2.4 7.42" stroke-width="1.15"/><line x1="271.7" y1="461.23" x2="937.7" y2="461.23" stroke-dasharray="2.4 7.42" stroke-width="1.15"/><line x1="271.7" y1="528.59" x2="937.7" y2="528.59" stroke-dasharray="2.4 7.42" stroke-width="1.15"/><line x1="271.7" y1="595.95" x2="937.7" y2="595.95" stroke-dasharray="2.4 7.42" stroke-width="1.15"/><line x1="271.7" y1="663.32" x2="937.7" y2="663.32" stroke-dasharray="2.4 7.42" stroke-width="1.15"/><line x1="271.7" y1="730.68" x2="937.7" y2="730.68" stroke-dasharray="2.4 7.42" stroke-width="1.15"/><line x1="271.7" y1="798.05" x2="937.7" y2="798.05" stroke-dasharray="2.4 7.42" stroke-width="1.15"/></g>
<g clip-path="url(#cp)" fill="none" stroke="#000" stroke-width="1.08" stroke-linejoin="round" stroke-linecap="round"><path d="M278.4 79.4L287 94L295 101L300 111L304 122L322.4 129.4L325.6 139.4L318 135.6L311 141.4L318 149L322.6 155.6L318 163.4L307 161.6L298.6 165.6L291.6 159.6L278.4 171.4L295 179L309 191.4L318.6 189.4L325.6 195.6L327.6 208L327.6 222L324.4 233.4L332.4 229.4L329.6 239.4L321 243L313.6 249.6L303.6 252L301 256M322.4 129.4L326 118L331 110L335 102L344.4 99.6L358 110.6L369.6 116.4L385 118.6L473 159.4M326.4 79.4L333 86L349 93.4L355.6 102L372 110L392 113.4L400 116.6L408 123.6L420 125.6L430 125.6L440 127.4L458 135L470 135.4M449.6 101.4L456 110L447.6 113.4L449.6 101.4M490 79L496.2 87.5L499 97.5L498.1 108.8L499.4 121.2L497.5 128.8L493.8 133.8L487.5 137.5L478.8 139L470 135M473.1 159.4L480 156.2L485 152.5L495 143.8L503.8 139.4L511.2 133.8L519.4 129.6L526.2 135.4L538.1 135.4L546.2 141.9L553.8 145.6L561.2 153.8L569.4 157.5L580 147.5M569.4 157.4L579.6 147.4L583 157L588 165.4L605 173.4L609 184L610.6 195.4L622 195.4L631.6 199.4L639.6 195.6L648 200L662 211.6L672 209.4L680 205.4L690 199.4L700 197L708 193L715 188L713 173L712 163M674 79.4L675 91L677 105L680 115L685 129L692 141L700 153L703 163.4L713 162L717 164L722 173L726 184L729 191L724 184L724.4 195L720.6 207L728.6 203.6L734 213L735.6 223L739 233L742 243L746 250L749 255M301 256L300.6 261L305.6 271L301 280L293 286.4L288 293L293.4 302L291.4 313L293 325.6L299 334L305.6 353.6L331 393L348 401L360 401L378 405L388 409L398 417L404 423M399.4 309.4L407 314.4L411.4 351L420 357L430 372L437 376.4L448 379L457 385.6L468.4 385.6L468.4 398L472 411.6L481.6 409.4L475 416L469 424M407 314.4L416.6 331L425.6 335.6L435.6 333.4L441 341.4L451 343.4L457 351.4L465 355.4L470 363L478 369.4L486 373L496 375.6L489 379L500 376.4M423 343.4L432 345L437 353L427 355.4L420.6 349L423 343.4M499.4 377.5L505.6 382.5L507.5 395L515 401.2L525 416.9L525 432M749 255L751 261L756 269L760 280L785 319L793 326L818 366L825 371.4L835 369.4L838.6 380L869 427L876 430M404 423L429 461L437.4 465L444 445L452.6 441.4L454.6 429L464.6 431L469 424M525 432L524.4 432L519.4 440L517.6 451L524 457L530 466L544 479L554 477L562 478.6L573 483.4L591 486.6L611 495L621 511L630 513L654 523L663 531L672 539L677 545M869 427L871 428L877.6 431L881 440L886 448.6L895 453L916 457L920 462L926 468L939 479M926 468L920 471L917 481L909 484.6L902 478L894 468L889 464L881 461L872 462L866 470L868.6 476L872.4 483L872.4 485L860 489L854 497L853.6 581L866 584L874 588L881 596L889 600L893 605M677 545L685 548.8L692.5 554.4L697.5 562.5L703.8 568.1L709.4 578.1L715 583.8L720 590L723.8 597.5L725.6 603.1L722.5 610M721.9 609.4L723.5 617.5L724.4 625L728.1 632.5L722.5 640L716.9 646.5L726.2 645M716.9 646.5L720 647.5L718.1 652.5L716.2 660L708.8 666.9L702.5 672.5L699.8 682.5L708.8 697.5L722.5 710L728.8 717.5L735 720.6L748.8 720L752.5 722M751.9 660L755 672.5L758.1 681.2L763.8 688.8L780 696.2L785 703.8L788.8 713.8L789.4 722M751.9 660L760 658.1L773.1 656.5L783.1 671.9L798.8 679.4L810.6 682.5L817.5 688.5L806.2 689L810.6 696.2L821.2 698.8L813.1 702.5L817.5 710L821.2 722M752.5 722L783.3 736.3L788.3 730L789.2 720L788.7 713.7M821.3 722L816.7 731.7L814.2 742.5L828.3 754.2L841.7 766.7L850 778.3L856.7 788.3L860.8 798.3L860.3 814.2L867.5 814.2L869.2 803.3L866.7 795L865 783.3L866.7 766.7L871.7 758.3L881.7 752.5L900 748.3L920 752.5L938.3 758.3M873.3 689.2L874.7 700L874.2 712.5L868.3 721.7L862.5 725.8L852 729.2L843.3 740L831.7 746.7L841.7 760L854.2 765L855 778.3L862.5 798.3M892.9 604.9L894.9 608.7L892.7 617.3L888 622L881.3 626L873.3 630L867.3 632.7L864.7 642.7L857.3 648.3L860 657.3L870.7 673.3L873.3 689.1"/></g>
<rect x="262.5" y="79.5" width="675.2" height="741.0" fill="none" stroke="#000" stroke-width="1.25"/>
<path d="M301.08 820.5V825.7M358.96 820.5V825.7M416.83 820.5V825.7M474.71 820.5V825.7M532.58 820.5V825.7M590.45 820.5V825.7M648.33 820.5V825.7M706.2 820.5V825.7M764.08 820.5V825.7M821.95 820.5V825.7M879.83 820.5V825.7M262.5 124.41H257M262.5 191.77H257M262.5 259.14H257M262.5 326.5H257M262.5 393.86H257M262.5 461.23H257M262.5 528.59H257M262.5 595.95H257M262.5 663.32H257M262.5 730.68H257M262.5 798.05H257" stroke="#000" stroke-width="1.3" fill="none"/>
<path d="M286.74 836.37 286.26 835.3 285.31 834.24 283.87 833.7 281.96 833.17 281.01 832.64 280.53 831.57 280.53 830.51 281.01 829.44 282.44 828.91 284.35 828.91 285.79 829.44 286.26 830.51 286.26 831.57 285.79 832.64 284.83 833.17 282.92 833.7 281.48 834.24 280.53 835.3 280.05 836.37 280.05 837.97 280.53 839.03 281.01 839.57 282.44 840.1 284.35 840.1 285.79 839.57 286.26 839.03 286.74 837.97 286.74 836.37M289.61 837.97 290.09 839.03 290.57 839.57 292 840.1 293.43 840.1 294.87 839.57 295.82 838.5 296.3 836.9 296.3 835.84 295.82 834.24 294.87 833.17 293.43 832.64 292 832.64 290.57 833.17 290.09 833.7 290.57 828.91 295.35 828.91M300.13 840.1 299.65 839.57 300.13 839.03 300.6 839.57 300.13 840.1M310.64 836.37 310.16 835.3 309.21 834.24 307.77 833.7 305.86 833.17 304.91 832.64 304.43 831.57 304.43 830.51 304.91 829.44 306.34 828.91 308.25 828.91 309.69 829.44 310.16 830.51 310.16 831.57 309.69 832.64 308.73 833.17 306.82 833.7 305.38 834.24 304.43 835.3 303.95 836.37 303.95 837.97 304.43 839.03 304.91 839.57 306.34 840.1 308.25 840.1 309.69 839.57 310.16 839.03 310.64 837.97 310.64 836.37M313.03 828.91 315.42 840.1 317.81 828.91 320.2 840.1 322.59 828.91M344.62 836.37 344.14 835.3 343.18 834.24 341.75 833.7 339.84 833.17 338.88 832.64 338.4 831.57 338.4 830.51 338.88 829.44 340.32 828.91 342.23 828.91 343.66 829.44 344.14 830.51 344.14 831.57 343.66 832.64 342.71 833.17 340.79 833.7 339.36 834.24 338.4 835.3 337.93 836.37 337.93 837.97 338.4 839.03 338.88 839.57 340.32 840.1 342.23 840.1 343.66 839.57 344.14 839.03 344.62 837.97 344.62 836.37M347.49 837.97 347.96 839.03 348.44 839.57 349.88 840.1 351.31 840.1 352.74 839.57 353.7 838.5 354.18 836.9 354.18 835.84 353.7 834.24 352.74 833.17 351.31 832.64 349.88 832.64 348.44 833.17 347.96 833.7 348.44 828.91 353.22 828.91M358 840.1 357.52 839.57 358 839.03 358.48 839.57 358 840.1M361.83 837.97 362.3 839.03 362.78 839.57 364.22 840.1 365.65 840.1 367.08 839.57 368.04 838.5 368.52 836.9 368.52 835.84 368.04 834.24 367.08 833.17 365.65 832.64 364.22 832.64 362.78 833.17 362.3 833.7 362.78 828.91 367.56 828.91M370.91 828.91 373.3 840.1 375.69 828.91 378.08 840.1 380.47 828.91M402.49 836.37 402.01 835.3 401.06 834.24 399.62 833.7 397.71 833.17 396.76 832.64 396.28 831.57 396.28 830.51 396.76 829.44 398.19 828.91 400.1 828.91 401.54 829.44 402.01 830.51 402.01 831.57 401.54 832.64 400.58 833.17 398.67 833.7 397.23 834.24 396.28 835.3 395.8 836.37 395.8 837.97 396.28 839.03 396.76 839.57 398.19 840.1 400.1 840.1 401.54 839.57 402.01 839.03 402.49 837.97 402.49 836.37M405.36 837.97 405.84 839.03 406.32 839.57 407.75 840.1 409.18 840.1 410.62 839.57 411.57 838.5 412.05 836.9 412.05 835.84 411.57 834.24 410.62 833.17 409.18 832.64 407.75 832.64 406.32 833.17 405.84 833.7 406.32 828.91 411.1 828.91M415.88 840.1 415.4 839.57 415.88 839.03 416.35 839.57 415.88 840.1M426.39 840.1 419.7 840.1 424.48 834.77 425.44 833.17 425.91 832.11 425.91 831.04 425.44 829.97 424.96 829.44 424 828.91 422.09 828.91 421.13 829.44 420.66 829.97 420.18 831.04 420.18 831.57M428.78 828.91 431.17 840.1 433.56 828.91 435.95 840.1 438.34 828.91M460.37 836.37 459.89 835.3 458.93 834.24 457.5 833.7 455.59 833.17 454.63 832.64 454.15 831.57 454.15 830.51 454.63 829.44 456.06 828.91 457.98 828.91 459.41 829.44 459.89 830.51 459.89 831.57 459.41 832.64 458.45 833.17 456.54 833.7 455.11 834.24 454.15 835.3 453.67 836.37 453.67 837.97 454.15 839.03 454.63 839.57 456.06 840.1 457.98 840.1 459.41 839.57 459.89 839.03 460.37 837.97 460.37 836.37M470.4 836.37 463.23 836.37 468.01 828.91 468.01 840.1M473.75 840.1 473.27 839.57 473.75 839.03 474.23 839.57 473.75 840.1M483.79 832.64 483.31 830.51 482.35 829.44 480.92 828.91 480.44 828.91 479.01 829.44 478.05 830.51 477.57 832.11 477.57 832.64 478.05 834.24 479.01 835.3 480.44 835.84 480.92 835.84 482.35 835.3 483.31 834.24 483.79 832.64 483.79 835.3 483.31 837.97 482.35 839.57 480.92 840.1 479.96 840.1 478.53 839.57 478.05 838.5M486.66 828.91 489.05 840.1 491.44 828.91 493.83 840.1 496.22 828.91M518.24 836.37 517.76 835.3 516.81 834.24 515.37 833.7 513.46 833.17 512.5 832.64 512.03 831.57 512.03 830.51 512.5 829.44 513.94 828.91 515.85 828.91 517.28 829.44 517.76 830.51 517.76 831.57 517.28 832.64 516.33 833.17 514.42 833.7 512.98 834.24 512.03 835.3 511.55 836.37 511.55 837.97 512.03 839.03 512.5 839.57 513.94 840.1 515.85 840.1 517.28 839.57 517.76 839.03 518.24 837.97 518.24 836.37M528.28 836.37 521.11 836.37 525.89 828.91 525.89 840.1M531.62 840.1 531.15 839.57 531.62 839.03 532.1 839.57 531.62 840.1M541.66 830.51 541.18 829.44 539.75 828.91 538.79 828.91 537.36 829.44 536.4 831.04 535.93 833.7 535.93 836.37 536.4 834.77 537.36 833.7 538.79 833.17 539.27 833.17 540.71 833.7 541.66 834.77 542.14 836.37 542.14 836.9 541.66 838.5 540.71 839.57 539.27 840.1 538.79 840.1 537.36 839.57 536.4 838.5 535.93 836.37M544.53 828.91 546.92 840.1 549.31 828.91 551.7 840.1 554.09 828.91M576.11 836.37 575.64 835.3 574.68 834.24 573.25 833.7 571.33 833.17 570.38 832.64 569.9 831.57 569.9 830.51 570.38 829.44 571.81 828.91 573.72 828.91 575.16 829.44 575.64 830.51 575.64 831.57 575.16 832.64 574.2 833.17 572.29 833.7 570.86 834.24 569.9 835.3 569.42 836.37 569.42 837.97 569.9 839.03 570.38 839.57 571.81 840.1 573.72 840.1 575.16 839.57 575.64 839.03 576.11 837.97 576.11 836.37M586.15 836.37 578.98 836.37 583.76 828.91 583.76 840.1M589.5 840.1 589.02 839.57 589.5 839.03 589.98 839.57 589.5 840.1M593.32 837.97 593.8 839.03 594.28 839.57 595.71 840.1 597.15 840.1 598.58 839.57 599.54 838.5 600.01 836.9 600.01 835.84 599.54 834.24 599.06 833.7 598.1 833.17 596.67 833.17 599.54 828.91 594.28 828.91M602.4 828.91 604.79 840.1 607.18 828.91 609.57 840.1 611.96 828.91M641.16 836.37 640.68 835.3 639.72 834.24 638.29 833.7 636.38 833.17 635.42 832.64 634.94 831.57 634.94 830.51 635.42 829.44 636.86 828.91 638.77 828.91 640.2 829.44 640.68 830.51 640.68 831.57 640.2 832.64 639.25 833.17 637.33 833.7 635.9 834.24 634.94 835.3 634.47 836.37 634.47 837.97 634.94 839.03 635.42 839.57 636.86 840.1 638.77 840.1 640.2 839.57 640.68 839.03 641.16 837.97 641.16 836.37M651.2 836.37 644.03 836.37 648.81 828.91 648.81 840.1M653.11 828.91 655.5 840.1 657.89 828.91 660.28 840.1 662.67 828.91M691.86 836.37 691.38 835.3 690.43 834.24 688.99 833.7 687.08 833.17 686.13 832.64 685.65 831.57 685.65 830.51 686.13 829.44 687.56 828.91 689.47 828.91 690.91 829.44 691.38 830.51 691.38 831.57 690.91 832.64 689.95 833.17 688.04 833.7 686.6 834.24 685.65 835.3 685.17 836.37 685.17 837.97 685.65 839.03 686.13 839.57 687.56 840.1 689.47 840.1 690.91 839.57 691.38 839.03 691.86 837.97 691.86 836.37M694.73 837.97 695.21 839.03 695.69 839.57 697.12 840.1 698.55 840.1 699.99 839.57 700.94 838.5 701.42 836.9 701.42 835.84 700.94 834.24 700.47 833.7 699.51 833.17 698.08 833.17 700.94 828.91 695.69 828.91M705.25 840.1 704.77 839.57 705.25 839.03 705.72 839.57 705.25 840.1M709.07 828.91 715.76 828.91 710.98 840.1M718.15 828.91 720.54 840.1 722.93 828.91 725.32 840.1 727.71 828.91M749.74 836.37 749.26 835.3 748.3 834.24 746.87 833.7 744.96 833.17 744 832.64 743.52 831.57 743.52 830.51 744 829.44 745.44 828.91 747.35 828.91 748.78 829.44 749.26 830.51 749.26 831.57 748.78 832.64 747.83 833.17 745.91 833.7 744.48 834.24 743.52 835.3 743.05 836.37 743.05 837.97 743.52 839.03 744 839.57 745.44 840.1 747.35 840.1 748.78 839.57 749.26 839.03 749.74 837.97 749.74 836.37M752.61 837.97 753.08 839.03 753.56 839.57 755 840.1 756.43 840.1 757.86 839.57 758.82 838.5 759.3 836.9 759.3 835.84 758.82 834.24 758.34 833.7 757.39 833.17 755.95 833.17 758.82 828.91 753.56 828.91M763.12 840.1 762.64 839.57 763.12 839.03 763.6 839.57 763.12 840.1M774.12 836.37 766.95 836.37 771.73 828.91 771.73 840.1M776.03 828.91 778.42 840.1 780.81 828.91 783.2 840.1 785.59 828.91M807.61 836.37 807.13 835.3 806.18 834.24 804.74 833.7 802.83 833.17 801.88 832.64 801.4 831.57 801.4 830.51 801.88 829.44 803.31 828.91 805.22 828.91 806.66 829.44 807.13 830.51 807.13 831.57 806.66 832.64 805.7 833.17 803.79 833.7 802.35 834.24 801.4 835.3 800.92 836.37 800.92 837.97 801.4 839.03 801.88 839.57 803.31 840.1 805.22 840.1 806.66 839.57 807.13 839.03 807.61 837.97 807.61 836.37M810.48 837.97 810.96 839.03 811.44 839.57 812.87 840.1 814.3 840.1 815.74 839.57 816.69 838.5 817.17 836.9 817.17 835.84 816.69 834.24 816.22 833.7 815.26 833.17 813.83 833.17 816.69 828.91 811.44 828.91M821 840.1 820.52 839.57 821 839.03 821.47 839.57 821 840.1M826.25 831.04 827.21 830.51 828.64 828.91 828.64 840.1M833.9 828.91 836.29 840.1 838.68 828.91 841.07 840.1 843.46 828.91M865.49 836.37 865.01 835.3 864.05 834.24 862.62 833.7 860.71 833.17 859.75 832.64 859.27 831.57 859.27 830.51 859.75 829.44 861.18 828.91 863.1 828.91 864.53 829.44 865.01 830.51 865.01 831.57 864.53 832.64 863.57 833.17 861.66 833.7 860.23 834.24 859.27 835.3 858.79 836.37 858.79 837.97 859.27 839.03 859.75 839.57 861.18 840.1 863.1 840.1 864.53 839.57 865.01 839.03 865.49 837.97 865.49 836.37M875.05 840.1 868.35 840.1 873.13 834.77 874.09 833.17 874.57 832.11 874.57 831.04 874.09 829.97 873.61 829.44 872.66 828.91 870.74 828.91 869.79 829.44 869.31 829.97 868.83 831.04 868.83 831.57M878.87 840.1 878.39 839.57 878.87 839.03 879.35 839.57 878.87 840.1M889.39 836.37 888.91 835.3 887.95 834.24 886.52 833.7 884.61 833.17 883.65 832.64 883.17 831.57 883.17 830.51 883.65 829.44 885.08 828.91 887 828.91 888.43 829.44 888.91 830.51 888.91 831.57 888.43 832.64 887.47 833.17 885.56 833.7 884.13 834.24 883.17 835.3 882.69 836.37 882.69 837.97 883.17 839.03 883.65 839.57 885.08 840.1 887 840.1 888.43 839.57 888.91 839.03 889.39 837.97 889.39 836.37M891.78 828.91 894.17 840.1 896.56 828.91 898.95 840.1 901.34 828.91M211.65 120.95 212.61 120.42 214.06 118.82 214.06 130.01M221.29 120.95 222.25 120.42 223.7 118.82 223.7 130.01M230.45 130.01 229.96 129.48 230.45 128.94 230.93 129.48 230.45 130.01M235.75 120.95 236.71 120.42 238.16 118.82 238.16 130.01M251.17 118.82 251.17 130.01 244.42 118.82 244.42 130.01M211.65 188.31 212.61 187.78 214.06 186.18 214.06 197.37M226.59 190.98 226.11 188.31 225.14 186.71 223.7 186.18 222.73 186.18 221.29 186.71 220.32 188.31 219.84 190.98 219.84 192.58 220.32 195.24 221.29 196.84 222.73 197.37 223.7 197.37 225.14 196.84 226.11 195.24 226.59 192.58 226.59 190.98M230.45 197.37 229.96 196.84 230.45 196.31 230.93 196.84 230.45 197.37M241.05 193.64 240.57 192.58 239.6 191.51 238.16 190.98 236.23 190.44 235.27 189.91 234.78 188.84 234.78 187.78 235.27 186.71 236.71 186.18 238.64 186.18 240.09 186.71 240.57 187.78 240.57 188.84 240.09 189.91 239.12 190.44 237.19 190.98 235.75 191.51 234.78 192.58 234.3 193.64 234.3 195.24 234.78 196.31 235.27 196.84 236.71 197.37 238.64 197.37 240.09 196.84 240.57 196.31 241.05 195.24 241.05 193.64M251.17 186.18 251.17 197.37 244.42 186.18 244.42 197.37M211.65 255.68 212.61 255.14 214.06 253.54 214.06 264.74M226.59 258.34 226.11 255.68 225.14 254.08 223.7 253.54 222.73 253.54 221.29 254.08 220.32 255.68 219.84 258.34 219.84 259.94 220.32 262.6 221.29 264.2 222.73 264.74 223.7 264.74 225.14 264.2 226.11 262.6 226.59 259.94 226.59 258.34M230.45 264.74 229.96 264.2 230.45 263.67 230.93 264.2 230.45 264.74M234.3 262.6 234.78 263.67 235.27 264.2 236.71 264.74 238.16 264.74 239.6 264.2 240.57 263.14 241.05 261.54 241.05 260.47 240.57 258.87 239.6 257.81 238.16 257.27 236.71 257.27 235.27 257.81 234.78 258.34 235.27 253.54 240.09 253.54M251.17 253.54 251.17 264.74 244.42 253.54 244.42 264.74M211.65 323.04 212.61 322.51 214.06 320.91 214.06 332.1M226.59 325.7 226.11 323.04 225.14 321.44 223.7 320.91 222.73 320.91 221.29 321.44 220.32 323.04 219.84 325.7 219.84 327.3 220.32 329.97 221.29 331.57 222.73 332.1 223.7 332.1 225.14 331.57 226.11 329.97 226.59 327.3 226.59 325.7M230.45 332.1 229.96 331.57 230.45 331.03 230.93 331.57 230.45 332.1M241.05 332.1 234.3 332.1 239.12 326.77 240.09 325.17 240.57 324.11 240.57 323.04 240.09 321.97 239.6 321.44 238.64 320.91 236.71 320.91 235.75 321.44 235.27 321.97 234.78 323.04 234.78 323.57M251.17 320.91 251.17 332.1 244.42 320.91 244.42 332.1M226.11 392 225.63 389.87 224.66 388.8 223.22 388.27 222.73 388.27 221.29 388.8 220.32 389.87 219.84 391.47 219.84 392 220.32 393.6 221.29 394.67 222.73 395.2 223.22 395.2 224.66 394.67 225.63 393.6 226.11 392 226.11 394.67 225.63 397.33 224.66 398.93 223.22 399.46 222.25 399.46 220.81 398.93 220.32 397.86M230.45 399.46 229.96 398.93 230.45 398.4 230.93 398.93 230.45 399.46M240.57 392 240.09 389.87 239.12 388.8 237.68 388.27 237.19 388.27 235.75 388.8 234.78 389.87 234.3 391.47 234.3 392 234.78 393.6 235.75 394.67 237.19 395.2 237.68 395.2 239.12 394.67 240.09 393.6 240.57 392 240.57 394.67 240.09 397.33 239.12 398.93 237.68 399.46 236.71 399.46 235.27 398.93 234.78 397.86M251.17 388.27 251.17 399.46 244.42 388.27 244.42 399.46M226.11 459.37 225.63 457.23 224.66 456.17 223.22 455.63 222.73 455.63 221.29 456.17 220.32 457.23 219.84 458.83 219.84 459.37 220.32 460.96 221.29 462.03 222.73 462.56 223.22 462.56 224.66 462.03 225.63 460.96 226.11 459.37 226.11 462.03 225.63 464.7 224.66 466.29 223.22 466.83 222.25 466.83 220.81 466.29 220.32 465.23M230.45 466.83 229.96 466.29 230.45 465.76 230.93 466.29 230.45 466.83M240.57 457.23 240.09 456.17 238.64 455.63 237.68 455.63 236.23 456.17 235.27 457.77 234.78 460.43 234.78 463.1 235.27 461.5 236.23 460.43 237.68 459.9 238.16 459.9 239.6 460.43 240.57 461.5 241.05 463.1 241.05 463.63 240.57 465.23 239.6 466.29 238.16 466.83 237.68 466.83 236.23 466.29 235.27 465.23 234.78 463.1M251.17 455.63 251.17 466.83 244.42 455.63 244.42 466.83M226.11 526.73 225.63 524.6 224.66 523.53 223.22 523 222.73 523 221.29 523.53 220.32 524.6 219.84 526.2 219.84 526.73 220.32 528.33 221.29 529.39 222.73 529.93 223.22 529.93 224.66 529.39 225.63 528.33 226.11 526.73 226.11 529.39 225.63 532.06 224.66 533.66 223.22 534.19 222.25 534.19 220.81 533.66 220.32 532.59M230.45 534.19 229.96 533.66 230.45 533.12 230.93 533.66 230.45 534.19M234.3 532.06 234.78 533.12 235.27 533.66 236.71 534.19 238.16 534.19 239.6 533.66 240.57 532.59 241.05 530.99 241.05 529.93 240.57 528.33 240.09 527.79 239.12 527.26 237.68 527.26 240.57 523 235.27 523M251.17 523 251.17 534.19 244.42 523 244.42 534.19M240.57 594.09 240.09 591.96 239.12 590.89 237.68 590.36 237.19 590.36 235.75 590.89 234.78 591.96 234.3 593.56 234.3 594.09 234.78 595.69 235.75 596.76 237.19 597.29 237.68 597.29 239.12 596.76 240.09 595.69 240.57 594.09 240.57 596.76 240.09 599.42 239.12 601.02 237.68 601.55 236.71 601.55 235.27 601.02 234.78 599.96M251.17 590.36 251.17 601.55 244.42 590.36 244.42 601.55M226.59 665.19 226.11 664.12 225.14 663.06 223.7 662.52 221.77 661.99 220.81 661.46 220.32 660.39 220.32 659.32 220.81 658.26 222.25 657.73 224.18 657.73 225.63 658.26 226.11 659.32 226.11 660.39 225.63 661.46 224.66 661.99 222.73 662.52 221.29 663.06 220.32 664.12 219.84 665.19 219.84 666.79 220.32 667.85 220.81 668.39 222.25 668.92 224.18 668.92 225.63 668.39 226.11 667.85 226.59 666.79 226.59 665.19M230.45 668.92 229.96 668.39 230.45 667.85 230.93 668.39 230.45 668.92M234.3 657.73 241.05 657.73 236.23 668.92M251.17 657.73 251.17 668.92 244.42 657.73 244.42 668.92M226.59 732.55 226.11 731.48 225.14 730.42 223.7 729.89 221.77 729.35 220.81 728.82 220.32 727.75 220.32 726.69 220.81 725.62 222.25 725.09 224.18 725.09 225.63 725.62 226.11 726.69 226.11 727.75 225.63 728.82 224.66 729.35 222.73 729.89 221.29 730.42 220.32 731.48 219.84 732.55 219.84 734.15 220.32 735.22 220.81 735.75 222.25 736.28 224.18 736.28 225.63 735.75 226.11 735.22 226.59 734.15 226.59 732.55M230.45 736.28 229.96 735.75 230.45 735.22 230.93 735.75 230.45 736.28M241.53 732.55 234.3 732.55 239.12 725.09 239.12 736.28M251.17 725.09 251.17 736.28 244.42 725.09 244.42 736.28M226.59 799.91 226.11 798.85 225.14 797.78 223.7 797.25 221.77 796.72 220.81 796.18 220.32 795.12 220.32 794.05 220.81 792.99 222.25 792.45 224.18 792.45 225.63 792.99 226.11 794.05 226.11 795.12 225.63 796.18 224.66 796.72 222.73 797.25 221.29 797.78 220.32 798.85 219.84 799.91 219.84 801.51 220.32 802.58 220.81 803.11 222.25 803.65 224.18 803.65 225.63 803.11 226.11 802.58 226.59 801.51 226.59 799.91M230.45 803.65 229.96 803.11 230.45 802.58 230.93 803.11 230.45 803.65M235.75 794.58 236.71 794.05 238.16 792.45 238.16 803.65M251.17 792.45 251.17 803.65 244.42 792.45 244.42 803.65" stroke="#000" stroke-width="1.4" fill="none" stroke-linecap="round" stroke-linejoin="round"/>
<path d="M128.43 8.35 128.43 29.6M151.07 29.6 151.07 8.35 143.74 29.6 136.4 8.35 136.4 29.6M172.17 8.35 172.17 29.6 159.33 8.35 159.33 29.6M178.55 36.68 195.05 4.3M199.64 8.35 204.22 29.6 208.81 8.35 213.39 29.6 217.98 8.35M224.38 18.47 232.63 18.47 235.38 17.46 236.3 16.44 237.21 14.42 237.21 12.4 236.3 10.37 235.38 9.36 232.63 8.35 224.38 8.35 224.38 29.6M230.8 18.47 237.21 29.6M256.33 8.35 244.41 8.35 244.41 29.6M244.41 18.47 251.75 18.47M261.8 20.49 278.3 20.49M288.39 12.4 290.22 11.38 292.97 8.35 292.97 29.6M307.53 12.4 309.36 11.38 312.11 8.35 312.11 29.6M341.69 19.48 349.95 19.48 352.7 18.47 353.61 17.46 354.53 15.43 354.53 12.4 353.61 10.37 352.7 9.36 349.95 8.35 341.69 8.35 341.69 29.6M361.63 15.43 361.63 29.6M361.63 21.5 362.55 18.47 364.38 16.44 366.21 15.43 368.96 15.43M373.25 21.5 384.25 21.5 384.25 19.48 383.34 17.46 382.42 16.44 380.59 15.43 377.84 15.43 376 16.44 374.17 18.47 373.25 21.5 373.25 23.53 374.17 26.56 376 28.59 377.84 29.6 380.59 29.6 382.42 28.59 384.25 26.56M401.48 18.47 399.64 16.44 397.81 15.43 395.06 15.43 393.23 16.44 391.39 18.47 390.47 21.5 390.47 23.53 391.39 26.56 393.23 28.59 395.06 29.6 397.81 29.6 399.64 28.59 401.48 26.56M408.42 9.36 407.5 8.35 408.42 7.34 409.33 8.35 408.42 9.36M408.42 15.43 408.42 29.6M416.29 15.43 416.29 36.68M416.29 18.47 418.13 16.44 419.96 15.43 422.71 15.43 424.54 16.44 426.38 18.47 427.3 21.5 427.3 23.53 426.38 26.56 424.54 28.59 422.71 29.6 419.96 29.6 418.13 28.59 416.29 26.56M434.25 9.36 433.34 8.35 434.25 7.34 435.17 8.35 434.25 9.36M434.25 15.43 434.25 29.6M440.15 15.43 446.57 15.43M442.9 8.35 442.9 25.55 443.82 28.59 445.66 29.6 447.49 29.6M463.7 18.47 461.86 16.44 460.03 15.43 457.28 15.43 455.44 16.44 453.61 18.47 452.69 21.5 452.69 23.53 453.61 26.56 455.44 28.59 457.28 29.6 460.03 29.6 461.86 28.59 463.7 26.56M463.7 15.43 463.7 29.6M481.86 18.47 480.02 16.44 478.19 15.43 475.44 15.43 473.61 16.44 471.77 18.47 470.85 21.5 470.85 23.53 471.77 26.56 473.61 28.59 475.44 29.6 478.19 29.6 480.02 28.59 481.86 26.56M488.8 9.36 487.88 8.35 488.8 7.34 489.71 8.35 488.8 9.36M488.8 15.43 488.8 29.6M507.67 21.5 506.76 18.47 504.92 16.44 503.09 15.43 500.34 15.43 498.5 16.44 496.67 18.47 495.75 21.5 495.75 23.53 496.67 26.56 498.5 28.59 500.34 29.6 503.09 29.6 504.92 28.59 506.76 26.56 507.67 23.53 507.67 21.5M514.85 15.43 514.85 29.6M514.85 19.48 517.6 16.44 519.44 15.43 522.19 15.43 524.02 16.44 524.94 19.48 524.94 29.6M547.1 29.6 554.44 8.35 561.78 29.6M549.85 22.52 559.02 22.52M577.17 18.47 575.33 16.44 573.5 15.43 570.75 15.43 568.91 16.44 567.08 18.47 566.16 21.5 566.16 23.53 567.08 26.56 568.91 28.59 570.75 29.6 573.5 29.6 575.33 28.59 577.17 26.56M584.32 15.43 584.32 25.55 585.24 28.59 587.07 29.6 589.82 29.6 591.66 28.59 594.41 25.55M594.41 15.43 594.41 29.6M602.72 15.43 602.72 29.6M602.72 19.48 605.47 16.44 607.31 15.43 610.06 15.43 611.89 16.44 612.81 19.48 612.81 29.6M612.81 19.48 615.56 16.44 617.4 15.43 620.15 15.43 621.98 16.44 622.9 19.48 622.9 29.6M631.21 15.43 631.21 25.55 632.13 28.59 633.96 29.6 636.71 29.6 638.55 28.59 641.3 25.55M641.3 15.43 641.3 29.6M649.17 8.35 649.17 29.6M667.13 18.47 665.3 16.44 663.47 15.43 660.72 15.43 658.88 16.44 657.05 18.47 656.13 21.5 656.13 23.53 657.05 26.56 658.88 28.59 660.72 29.6 663.47 29.6 665.3 28.59 667.13 26.56M667.13 15.43 667.13 29.6M685.32 18.47 683.48 16.44 681.65 15.43 678.9 15.43 677.06 16.44 675.23 18.47 674.31 21.5 674.31 23.53 675.23 26.56 677.06 28.59 678.9 29.6 681.65 29.6 683.48 28.59 685.32 26.56M685.32 8.35 685.32 29.6M703.5 18.47 701.66 16.44 699.83 15.43 697.08 15.43 695.24 16.44 693.41 18.47 692.49 21.5 692.49 23.53 693.41 26.56 695.24 28.59 697.08 29.6 699.83 29.6 701.66 28.59 703.5 26.56M703.5 15.43 703.5 29.6M738.52 18.47 736.68 16.44 734.85 15.43 732.1 15.43 730.27 16.44 728.43 18.47 727.51 21.5 727.51 23.53 728.43 26.56 730.27 28.59 732.1 29.6 734.85 29.6 736.68 28.59 738.52 26.56M738.52 8.35 738.52 29.6M746.61 15.43 746.61 25.55 747.53 28.59 749.36 29.6 752.12 29.6 753.95 28.59 756.7 25.55M756.7 15.43 756.7 29.6M764.67 15.43 764.67 29.6M764.67 21.5 765.59 18.47 767.43 16.44 769.26 15.43 772.01 15.43M787.32 18.47 785.49 16.44 783.65 15.43 780.9 15.43 779.07 16.44 777.23 18.47 776.32 21.5 776.32 23.53 777.23 26.56 779.07 28.59 780.9 29.6 783.65 29.6 785.49 28.59 787.32 26.56M787.32 15.43 787.32 29.6M795.41 15.43 795.41 29.6M795.41 19.48 798.17 16.44 800 15.43 802.75 15.43 804.58 16.44 805.5 19.48 805.5 29.6M811.62 15.43 818.04 15.43M814.37 8.35 814.37 25.55 815.29 28.59 817.12 29.6 818.96 29.6M824.14 21.5 835.15 21.5 835.15 19.48 834.23 17.46 833.31 16.44 831.48 15.43 828.73 15.43 826.89 16.44 825.06 18.47 824.14 21.5 824.14 23.53 825.06 26.56 826.89 28.59 828.73 29.6 831.48 29.6 833.31 28.59 835.15 26.56M858.25 25.55 859.16 27.58 860.08 28.59 862.83 29.6 865.58 29.6 868.33 28.59 870.17 26.56 871.09 23.53 871.09 21.5 870.17 18.47 869.25 17.46 867.42 16.44 864.67 16.44 870.17 8.35 860.08 8.35M895.12 8.35 895.12 29.6M895.12 19.48 897.87 16.44 899.71 15.43 902.46 15.43 904.29 16.44 905.21 19.48 905.21 29.6M924.31 21.5 923.39 18.47 921.56 16.44 919.72 15.43 916.97 15.43 915.14 16.44 913.31 18.47 912.39 21.5 912.39 23.53 913.31 26.56 915.14 28.59 916.97 29.6 919.72 29.6 921.56 28.59 923.39 26.56 924.31 23.53 924.31 21.5M931.37 15.43 931.37 29.6M931.37 21.5 932.28 18.47 934.12 16.44 935.95 15.43 938.7 15.43M954.01 18.47 952.18 16.44 950.34 15.43 947.59 15.43 945.76 16.44 943.93 18.47 943.01 21.5 943.01 23.53 943.93 26.56 945.76 28.59 947.59 29.6 950.34 29.6 952.18 28.59 954.01 26.56M954.01 15.43 954.01 29.6M961.15 26.56 962.07 28.59 964.82 29.6 967.57 29.6 970.32 28.59 971.24 26.56 971.24 25.55 970.32 23.53 968.49 22.52 963.9 21.5 962.07 20.49 961.15 18.47 962.07 16.44 964.82 15.43 967.57 15.43 970.32 16.44 971.24 18.47M1001.53 4.3 999.7 6.32 997.87 9.36 996.03 13.41 995.12 18.47 995.12 22.52 996.03 27.58 997.87 31.62 999.7 34.66 1001.53 36.68M1008.83 15.43 1008.83 29.6M1008.83 19.48 1011.58 16.44 1013.42 15.43 1016.17 15.43 1018 16.44 1018.92 19.48 1018.92 29.6M1018.92 19.48 1021.67 16.44 1023.5 15.43 1026.25 15.43 1028.09 16.44 1029.01 19.48 1029.01 29.6M1037.54 15.43 1037.54 29.6M1037.54 19.48 1040.29 16.44 1042.12 15.43 1044.87 15.43 1046.71 16.44 1047.63 19.48 1047.63 29.6M1047.63 19.48 1050.38 16.44 1052.21 15.43 1054.96 15.43 1056.8 16.44 1057.71 19.48 1057.71 29.6M1065.01 4.3 1066.84 6.32 1068.68 9.36 1070.51 13.41 1071.43 18.47 1071.43 22.52 1070.51 27.58 1068.68 31.62 1066.84 34.66 1065.01 36.68M477.2 61.2 464.36 61.2 473.53 51.08 475.37 48.04 476.29 46.02 476.29 44 475.37 41.97 474.45 40.96 472.62 39.95 468.95 39.95 467.11 40.96 466.19 41.97 465.28 44 465.28 45.01M496.37 49.06 495.46 44 493.62 40.96 490.87 39.95 489.04 39.95 486.28 40.96 484.45 44 483.53 49.06 483.53 52.09 484.45 57.15 486.28 60.19 489.04 61.2 490.87 61.2 493.62 60.19 495.46 57.15 496.37 52.09 496.37 49.06M515.55 61.2 502.7 61.2 511.88 51.08 513.71 48.04 514.63 46.02 514.63 44 513.71 41.97 512.79 40.96 510.96 39.95 507.29 39.95 505.46 40.96 504.54 41.97 503.62 44 503.62 45.01M521.88 57.15 522.79 59.18 523.71 60.19 526.46 61.2 529.21 61.2 531.97 60.19 533.8 58.16 534.72 55.13 534.72 53.1 533.8 50.07 531.97 48.04 529.21 47.03 526.46 47.03 523.71 48.04 522.79 49.06 523.71 39.95 532.88 39.95M542.09 52.09 558.6 52.09M578.81 49.06 577.9 44 576.06 40.96 573.31 39.95 571.47 39.95 568.72 40.96 566.89 44 565.97 49.06 565.97 52.09 566.89 57.15 568.72 60.19 571.47 61.2 573.31 61.2 576.06 60.19 577.9 57.15 578.81 52.09 578.81 49.06M597.99 54.12 597.07 52.09 595.23 50.07 592.48 49.06 588.81 48.04 586.98 47.03 586.06 45.01 586.06 42.98 586.98 40.96 589.73 39.95 593.4 39.95 596.15 40.96 597.07 42.98 597.07 45.01 596.15 47.03 594.32 48.04 590.65 49.06 587.89 50.07 586.06 52.09 585.14 54.12 585.14 57.15 586.06 59.18 586.98 60.19 589.73 61.2 593.4 61.2 596.15 60.19 597.07 59.18 597.99 57.15 597.99 54.12M605.36 52.09 621.87 52.09M642.08 49.06 641.16 44 639.33 40.96 636.58 39.95 634.74 39.95 631.99 40.96 630.16 44 629.24 49.06 629.24 52.09 630.16 57.15 631.99 60.19 634.74 61.2 636.58 61.2 639.33 60.19 641.16 57.15 642.08 52.09 642.08 49.06M661.25 54.12 660.34 52.09 658.5 50.07 655.75 49.06 652.08 48.04 650.25 47.03 649.33 45.01 649.33 42.98 650.25 40.96 653 39.95 656.67 39.95 659.42 40.96 660.34 42.98 660.34 45.01 659.42 47.03 657.58 48.04 653.91 49.06 651.16 50.07 649.33 52.09 648.41 54.12 648.41 57.15 649.33 59.18 650.25 60.19 653 61.2 656.67 61.2 659.42 60.19 660.34 59.18 661.25 57.15 661.25 54.12M697.3 49.06 696.38 44 694.54 40.96 691.79 39.95 689.96 39.95 687.21 40.96 685.37 44 684.45 49.06 684.45 52.09 685.37 57.15 687.21 60.19 689.96 61.2 691.79 61.2 694.54 60.19 696.38 57.15 697.3 52.09 697.3 49.06M715.55 47.03 714.63 42.98 712.8 40.96 710.05 39.95 709.13 39.95 706.38 40.96 704.54 42.98 703.63 46.02 703.63 47.03 704.54 50.07 706.38 52.09 709.13 53.1 710.05 53.1 712.8 52.09 714.63 50.07 715.55 47.03 715.55 52.09 714.63 57.15 712.8 60.19 710.05 61.2 708.21 61.2 705.46 60.19 704.54 58.16M722.8 39.95 735.64 39.95 722.8 61.2 735.64 61.2" stroke="#000" stroke-width="1.3" fill="none" stroke-linecap="round" stroke-linejoin="round"/>
<path d="M330.27 860.81 330.27 876.6M337.01 866.07 337.01 876.6M337.01 869.08 339.36 866.82 340.93 866.07 343.28 866.07 344.85 866.82 345.64 869.08 345.64 876.6M351.74 874.34 352.53 875.85 354.88 876.6 357.23 876.6 359.59 875.85 360.37 874.34 360.37 873.59 359.59 872.09 358.02 871.34 354.1 870.58 352.53 869.83 351.74 868.33 352.53 866.82 354.88 866.07 357.23 866.07 359.59 866.82 360.37 868.33M364.79 866.07 370.28 866.07M367.14 860.81 367.14 873.59 367.93 875.85 369.49 876.6 371.06 876.6M376.11 861.56 375.33 860.81 376.11 860.06 376.89 860.81 376.11 861.56M376.11 866.07 376.11 876.6M381.16 866.07 386.65 866.07M383.51 860.81 383.51 873.59 384.3 875.85 385.86 876.6 387.43 876.6M392.67 866.07 392.67 873.59 393.45 875.85 395.02 876.6 397.37 876.6 398.94 875.85 401.29 873.59M401.29 866.07 401.29 876.6M406.53 866.07 412.02 866.07M408.88 860.81 408.88 873.59 409.67 875.85 411.24 876.6 412.8 876.6M427.45 870.58 426.67 868.33 425.1 866.82 423.53 866.07 421.18 866.07 419.61 866.82 418.04 868.33 417.26 870.58 417.26 872.09 418.04 874.34 419.61 875.85 421.18 876.6 423.53 876.6 425.1 875.85 426.67 874.34 427.45 872.09 427.45 870.58M461.12 876.6 461.12 860.81 454.85 876.6 448.58 860.81 448.58 876.6M467.33 870.58 476.74 870.58 476.74 869.08 475.96 867.58 475.17 866.82 473.61 866.07 471.25 866.07 469.69 866.82 468.12 868.33 467.33 870.58 467.33 872.09 468.12 874.34 469.69 875.85 471.25 876.6 473.61 876.6 475.17 875.85 476.74 874.34M481.18 866.07 486.67 866.07M483.53 860.81 483.53 873.59 484.32 875.85 485.88 876.6 487.45 876.6M491.89 870.58 501.3 870.58 501.3 869.08 500.51 867.58 499.73 866.82 498.16 866.07 495.81 866.07 494.24 866.82 492.67 868.33 491.89 870.58 491.89 872.09 492.67 874.34 494.24 875.85 495.81 876.6 498.16 876.6 499.73 875.85 501.3 874.34M516.83 870.58 516.05 868.33 514.48 866.82 512.91 866.07 510.56 866.07 508.99 866.82 507.42 868.33 506.64 870.58 506.64 872.09 507.42 874.34 508.99 875.85 510.56 876.6 512.91 876.6 514.48 875.85 516.05 874.34 516.83 872.09 516.83 870.58M522.87 866.07 522.87 876.6M522.87 870.58 523.66 868.33 525.22 866.82 526.79 866.07 529.14 866.07M543.02 870.58 542.24 868.33 540.67 866.82 539.1 866.07 536.75 866.07 535.18 866.82 533.61 868.33 532.83 870.58 532.83 872.09 533.61 874.34 535.18 875.85 536.75 876.6 539.1 876.6 540.67 875.85 542.24 874.34 543.02 872.09 543.02 870.58M548.98 860.81 548.98 876.6M565.12 870.58 564.34 868.33 562.77 866.82 561.2 866.07 558.85 866.07 557.28 866.82 555.71 868.33 554.93 870.58 554.93 872.09 555.71 874.34 557.28 875.85 558.85 876.6 561.2 876.6 562.77 875.85 564.34 874.34 565.12 872.09 565.12 870.58M579.89 868.33 578.32 866.82 576.75 866.07 574.4 866.07 572.83 866.82 571.27 868.33 570.48 870.58 570.48 872.09 571.27 874.34 572.83 875.85 574.4 876.6 576.75 876.6 578.32 875.85 579.89 874.34M572.83 881.11 574.4 881.86 576.75 881.86 578.32 881.11 579.11 880.36 579.89 878.1 579.89 866.07M586.63 861.56 585.84 860.81 586.63 860.06 587.41 860.81 586.63 861.56M586.63 866.07 586.63 876.6M601.97 868.33 600.41 866.82 598.84 866.07 596.48 866.07 594.92 866.82 593.35 868.33 592.56 870.58 592.56 872.09 593.35 874.34 594.92 875.85 596.48 876.6 598.84 876.6 600.41 875.85 601.97 874.34M617.51 870.58 616.72 868.33 615.16 866.82 613.59 866.07 611.23 866.07 609.67 866.82 608.1 868.33 607.31 870.58 607.31 872.09 608.1 874.34 609.67 875.85 611.23 876.6 613.59 876.6 615.16 875.85 616.72 874.34 617.51 872.09 617.51 870.58M649.58 860.81 649.58 876.6 638.6 860.81 638.6 876.6M665.18 868.33 663.61 866.82 662.04 866.07 659.69 866.07 658.12 866.82 656.55 868.33 655.77 870.58 655.77 872.09 656.55 874.34 658.12 875.85 659.69 876.6 662.04 876.6 663.61 875.85 665.18 874.34M665.18 866.07 665.18 876.6M680.71 868.33 679.14 866.82 677.58 866.07 675.22 866.07 673.66 866.82 672.09 868.33 671.3 870.58 671.3 872.09 672.09 874.34 673.66 875.85 675.22 876.6 677.58 876.6 679.14 875.85 680.71 874.34M686.65 861.56 685.86 860.81 686.65 860.06 687.43 860.81 686.65 861.56M686.65 866.07 686.65 876.6M702.8 870.58 702.01 868.33 700.44 866.82 698.87 866.07 696.52 866.07 694.95 866.82 693.39 868.33 692.6 870.58 692.6 872.09 693.39 874.34 694.95 875.85 696.52 876.6 698.87 876.6 700.44 875.85 702.01 874.34 702.8 872.09 702.8 870.58M708.94 866.07 708.94 876.6M708.94 869.08 711.29 866.82 712.86 866.07 715.21 866.07 716.78 866.82 717.56 869.08 717.56 876.6M733.11 868.33 731.55 866.82 729.98 866.07 727.63 866.07 726.06 866.82 724.49 868.33 723.7 870.58 723.7 872.09 724.49 874.34 726.06 875.85 727.63 876.6 729.98 876.6 731.55 875.85 733.11 874.34M733.11 866.07 733.11 876.6M739.85 860.81 739.85 876.6M772.5 864.57 771.71 863.06 770.14 861.56 768.58 860.81 765.44 860.81 763.87 861.56 762.3 863.06 761.52 864.57 760.74 866.82 760.74 870.58 761.52 872.84 762.3 874.34 763.87 875.85 765.44 876.6 768.58 876.6 770.14 875.85 771.71 874.34 772.5 872.84M788.08 870.58 787.3 868.33 785.73 866.82 784.16 866.07 781.81 866.07 780.24 866.82 778.67 868.33 777.89 870.58 777.89 872.09 778.67 874.34 780.24 875.85 781.81 876.6 784.16 876.6 785.73 875.85 787.3 874.34 788.08 872.09 788.08 870.58M793.41 874.34 794.19 875.85 796.54 876.6 798.9 876.6 801.25 875.85 802.03 874.34 802.03 873.59 801.25 872.09 799.68 871.34 795.76 870.58 794.19 869.83 793.41 868.33 794.19 866.82 796.54 866.07 798.9 866.07 801.25 866.82 802.03 868.33M806.45 866.07 811.94 866.07M808.8 860.81 808.8 873.59 809.59 875.85 811.16 876.6 812.72 876.6M826.59 868.33 825.02 866.82 823.45 866.07 821.1 866.07 819.53 866.82 817.96 868.33 817.18 870.58 817.18 872.09 817.96 874.34 819.53 875.85 821.1 876.6 823.45 876.6 825.02 875.85 826.59 874.34M826.59 866.07 826.59 876.6M848.44 868.33 855.5 868.33 857.85 867.58 858.64 866.82 859.42 865.32 859.42 863.82 858.64 862.31 857.85 861.56 855.5 860.81 848.44 860.81 848.44 876.6M853.93 868.33 859.42 876.6M865.41 861.56 864.63 860.81 865.41 860.06 866.19 860.81 865.41 861.56M865.41 866.07 865.41 876.6M880.75 868.33 879.19 866.82 877.62 866.07 875.27 866.07 873.7 866.82 872.13 868.33 871.35 870.58 871.35 872.09 872.13 874.34 873.7 875.85 875.27 876.6 877.62 876.6 879.19 875.85 880.75 874.34M895.5 868.33 893.94 866.82 892.37 866.07 890.02 866.07 888.45 866.82 886.88 868.33 886.1 870.58 886.1 872.09 886.88 874.34 888.45 875.85 890.02 876.6 892.37 876.6 893.94 875.85 895.5 874.34M895.5 866.07 895.5 876.6" stroke="#1a1a1a" stroke-width="1.0" fill="none" stroke-linecap="round" stroke-linejoin="round"/>
<g shape-rendering="crispEdges"><rect x="1057.9" y="725.06" width="21.8" height="42.34" fill="#66ffff"/><rect x="1057.9" y="682.71" width="21.8" height="42.34" fill="#3399ff"/><rect x="1057.9" y="640.37" width="21.8" height="42.34" fill="#0000ff"/><rect x="1057.9" y="598.03" width="21.8" height="42.34" fill="#00ff00"/><rect x="1057.9" y="555.68" width="21.8" height="42.34" fill="#00cc00"/><rect x="1057.9" y="513.34" width="21.8" height="42.34" fill="#009900"/><rect x="1057.9" y="471" width="21.8" height="42.34" fill="#ffff00"/><rect x="1057.9" y="428.65" width="21.8" height="42.34" fill="#ffcc00"/><rect x="1057.9" y="386.31" width="21.8" height="42.34" fill="#ff6600"/><rect x="1057.9" y="343.97" width="21.8" height="42.34" fill="#ff0000"/><rect x="1057.9" y="301.62" width="21.8" height="42.34" fill="#cc3300"/><rect x="1057.9" y="259.28" width="21.8" height="42.34" fill="#990000"/><rect x="1057.9" y="216.94" width="21.8" height="42.34" fill="#ff00ff"/><rect x="1057.9" y="174.59" width="21.8" height="42.34" fill="#9933cc"/><rect x="1057.9" y="132.25" width="21.8" height="42.34" fill="#f5f5f5"/></g><path d="M1057.9 132.25L1068.8000000000002 89.5L1079.7 132.25Z" fill="#aaa"/><path d="M1057.9 767.4L1068.8000000000002 809.6L1079.7 767.4Z" fill="#fff"/>
<path d="M1057.9 132.25L1068.8000000000002 89.5L1079.7 132.25V767.4L1068.8000000000002 809.6L1057.9 767.4ZM1057.9 767.4H1080.5M1057.9 725.06H1080.5M1057.9 682.71H1080.5M1057.9 640.37H1080.5M1057.9 598.03H1080.5M1057.9 555.68H1080.5M1057.9 513.34H1080.5M1057.9 471H1080.5M1057.9 428.65H1080.5M1057.9 386.31H1080.5M1057.9 343.97H1080.5M1057.9 301.62H1080.5M1057.9 259.28H1080.5M1057.9 216.94H1080.5M1057.9 174.59H1080.5M1057.9 132.25H1080.5" stroke="#000" stroke-width="1.25" fill="none" stroke-linejoin="miter"/>
<path d="M1087.07 771.76 1087.73 773.05 1088.38 773.7 1090.36 774.35 1092.33 774.35 1094.3 773.7 1095.61 772.41 1096.27 770.46 1096.27 769.17 1095.61 767.22 1094.95 766.57 1093.64 765.93 1091.67 765.93 1095.61 760.74 1088.38 760.74M1101.52 774.35 1100.87 773.7 1101.52 773.05 1102.18 773.7 1101.52 774.35M1106.78 771.76 1107.44 773.05 1108.09 773.7 1110.07 774.35 1112.04 774.35 1114.01 773.7 1115.32 772.41 1115.98 770.46 1115.98 769.17 1115.32 767.22 1114.01 765.93 1112.04 765.28 1110.07 765.28 1108.09 765.93 1107.44 766.57 1108.09 760.74 1114.66 760.74M1087.07 718.4 1096.27 718.4 1089.7 732.01M1089.04 678.65 1090.36 678 1092.33 676.06 1092.33 689.66M1109.41 689.66 1100.21 689.66 1106.78 683.18 1108.1 681.24 1108.75 679.94 1108.75 678.65 1108.1 677.35 1107.44 676.7 1106.12 676.06 1103.5 676.06 1102.18 676.7 1101.52 677.35 1100.87 678.65 1100.87 679.3M1114.66 689.66 1114.01 689.02 1114.66 688.37 1115.32 689.02 1114.66 689.66M1119.92 687.07 1120.58 688.37 1121.23 689.02 1123.21 689.66 1125.18 689.66 1127.15 689.02 1128.46 687.72 1129.12 685.78 1129.12 684.48 1128.46 682.54 1127.15 681.24 1125.18 680.59 1123.21 680.59 1121.23 681.24 1120.58 681.89 1121.23 676.06 1127.81 676.06M1089.04 636.3 1090.36 635.66 1092.33 633.71 1092.33 647.32M1100.21 644.73 1100.87 646.02 1101.52 646.67 1103.5 647.32 1105.47 647.32 1107.44 646.67 1108.75 645.38 1109.41 643.43 1109.41 642.14 1108.75 640.19 1107.44 638.9 1105.47 638.25 1103.5 638.25 1101.52 638.9 1100.87 639.54 1101.52 633.71 1108.1 633.71M1096.27 604.98 1087.07 604.98 1093.64 598.5 1094.95 596.55 1095.61 595.26 1095.61 593.96 1094.95 592.66 1094.3 592.02 1092.98 591.37 1090.36 591.37 1089.04 592.02 1088.38 592.66 1087.73 593.96 1087.73 594.61M1109.41 597.2 1108.75 593.96 1107.44 592.02 1105.47 591.37 1104.15 591.37 1102.18 592.02 1100.87 593.96 1100.21 597.2 1100.21 599.14 1100.87 602.38 1102.18 604.33 1104.15 604.98 1105.47 604.98 1107.44 604.33 1108.75 602.38 1109.41 599.14 1109.41 597.2M1096.27 562.63 1087.07 562.63 1093.64 556.15 1094.95 554.21 1095.61 552.91 1095.61 551.62 1094.95 550.32 1094.3 549.67 1092.98 549.03 1090.36 549.03 1089.04 549.67 1088.38 550.32 1087.73 551.62 1087.73 552.27M1100.21 560.04 1100.87 561.34 1101.52 561.99 1103.5 562.63 1105.47 562.63 1107.44 561.99 1108.75 560.69 1109.41 558.75 1109.41 557.45 1108.75 555.51 1107.44 554.21 1105.47 553.56 1103.5 553.56 1101.52 554.21 1100.87 554.86 1101.52 549.03 1108.1 549.03M1087.07 517.7 1087.73 518.99 1088.38 519.64 1090.36 520.29 1092.33 520.29 1094.3 519.64 1095.61 518.35 1096.27 516.4 1096.27 515.11 1095.61 513.16 1094.95 512.51 1093.64 511.87 1091.67 511.87 1095.61 506.68 1088.38 506.68M1109.41 512.51 1108.75 509.27 1107.44 507.33 1105.47 506.68 1104.15 506.68 1102.18 507.33 1100.87 509.27 1100.21 512.51 1100.21 514.46 1100.87 517.7 1102.18 519.64 1104.15 520.29 1105.47 520.29 1107.44 519.64 1108.75 517.7 1109.41 514.46 1109.41 512.51M1096.93 473.41 1087.07 473.41 1093.64 464.34 1093.64 477.95M1109.41 470.17 1108.75 466.93 1107.44 464.99 1105.47 464.34 1104.15 464.34 1102.18 464.99 1100.87 466.93 1100.21 470.17 1100.21 472.11 1100.87 475.35 1102.18 477.3 1104.15 477.95 1105.47 477.95 1107.44 477.3 1108.75 475.35 1109.41 472.11 1109.41 470.17M1087.07 433.01 1087.73 434.31 1088.38 434.96 1090.36 435.6 1092.33 435.6 1094.3 434.96 1095.61 433.66 1096.27 431.72 1096.27 430.42 1095.61 428.48 1094.3 427.18 1092.33 426.53 1090.36 426.53 1088.38 427.18 1087.73 427.83 1088.38 422 1094.95 422M1109.41 427.83 1108.75 424.59 1107.44 422.64 1105.47 422 1104.15 422 1102.18 422.64 1100.87 424.59 1100.21 427.83 1100.21 429.77 1100.87 433.01 1102.18 434.96 1104.15 435.6 1105.47 435.6 1107.44 434.96 1108.75 433.01 1109.41 429.77 1109.41 427.83M1095.61 381.6 1094.95 380.3 1092.98 379.65 1091.67 379.65 1089.7 380.3 1088.38 382.24 1087.73 385.48 1087.73 388.72 1088.38 386.78 1089.7 385.48 1091.67 384.84 1092.33 384.84 1094.3 385.48 1095.61 386.78 1096.27 388.72 1096.27 389.37 1095.61 391.32 1094.3 392.61 1092.33 393.26 1091.67 393.26 1089.7 392.61 1088.38 391.32 1087.73 388.72M1109.41 385.48 1108.75 382.24 1107.44 380.3 1105.47 379.65 1104.15 379.65 1102.18 380.3 1100.87 382.24 1100.21 385.48 1100.21 387.43 1100.87 390.67 1102.18 392.61 1104.15 393.26 1105.47 393.26 1107.44 392.61 1108.75 390.67 1109.41 387.43 1109.41 385.48M1087.07 337.31 1096.27 337.31 1089.7 350.92M1100.21 348.32 1100.87 349.62 1101.52 350.27 1103.5 350.92 1105.47 350.92 1107.44 350.27 1108.75 348.97 1109.41 347.03 1109.41 345.73 1108.75 343.79 1107.44 342.49 1105.47 341.84 1103.5 341.84 1101.52 342.49 1100.87 343.14 1101.52 337.31 1108.1 337.31M1095.61 299.5 1094.95 296.91 1093.64 295.61 1091.67 294.97 1091.01 294.97 1089.04 295.61 1087.73 296.91 1087.07 298.85 1087.07 299.5 1087.73 301.45 1089.04 302.74 1091.01 303.39 1091.67 303.39 1093.64 302.74 1094.95 301.45 1095.61 299.5 1095.61 302.74 1094.95 305.98 1093.64 307.93 1091.67 308.57 1090.36 308.57 1088.38 307.93 1087.73 306.63M1109.41 300.8 1108.75 297.56 1107.44 295.61 1105.47 294.97 1104.15 294.97 1102.18 295.61 1100.87 297.56 1100.21 300.8 1100.21 302.74 1100.87 305.98 1102.18 307.93 1104.15 308.57 1105.47 308.57 1107.44 307.93 1108.75 305.98 1109.41 302.74 1109.41 300.8M1089.04 255.21 1090.36 254.57 1092.33 252.62 1092.33 266.23M1109.41 258.45 1108.75 255.21 1107.44 253.27 1105.47 252.62 1104.15 252.62 1102.18 253.27 1100.87 255.21 1100.21 258.45 1100.21 260.4 1100.87 263.64 1102.18 265.58 1104.15 266.23 1105.47 266.23 1107.44 265.58 1108.75 263.64 1109.41 260.4 1109.41 258.45M1122.55 258.45 1121.89 255.21 1120.58 253.27 1118.61 252.62 1117.29 252.62 1115.32 253.27 1114.01 255.21 1113.35 258.45 1113.35 260.4 1114.01 263.64 1115.32 265.58 1117.29 266.23 1118.61 266.23 1120.58 265.58 1121.89 263.64 1122.55 260.4 1122.55 258.45M1089.04 212.87 1090.36 212.22 1092.33 210.28 1092.33 223.89M1109.41 223.89 1100.21 223.89 1106.78 217.41 1108.1 215.46 1108.75 214.17 1108.75 212.87 1108.1 211.57 1107.44 210.93 1106.12 210.28 1103.5 210.28 1102.18 210.93 1101.52 211.57 1100.87 212.87 1100.87 213.52M1122.55 216.11 1121.89 212.87 1120.58 210.93 1118.61 210.28 1117.29 210.28 1115.32 210.93 1114.01 212.87 1113.35 216.11 1113.35 218.05 1114.01 221.29 1115.32 223.24 1117.29 223.89 1118.61 223.89 1120.58 223.24 1121.89 221.29 1122.55 218.05 1122.55 216.11M1089.04 170.53 1090.36 169.88 1092.33 167.94 1092.33 181.54M1100.21 178.95 1100.87 180.25 1101.52 180.9 1103.5 181.54 1105.47 181.54 1107.44 180.9 1108.75 179.6 1109.41 177.66 1109.41 176.36 1108.75 174.42 1107.44 173.12 1105.47 172.47 1103.5 172.47 1101.52 173.12 1100.87 173.77 1101.52 167.94 1108.1 167.94M1122.55 173.77 1121.89 170.53 1120.58 168.58 1118.61 167.94 1117.29 167.94 1115.32 168.58 1114.01 170.53 1113.35 173.77 1113.35 175.71 1114.01 178.95 1115.32 180.9 1117.29 181.54 1118.61 181.54 1120.58 180.9 1121.89 178.95 1122.55 175.71 1122.55 173.77M1096.27 139.2 1087.07 139.2 1093.64 132.72 1094.95 130.78 1095.61 129.48 1095.61 128.18 1094.95 126.89 1094.3 126.24 1092.98 125.59 1090.36 125.59 1089.04 126.24 1088.38 126.89 1087.73 128.18 1087.73 128.83M1109.41 131.42 1108.75 128.18 1107.44 126.24 1105.47 125.59 1104.15 125.59 1102.18 126.24 1100.87 128.18 1100.21 131.42 1100.21 133.37 1100.87 136.61 1102.18 138.55 1104.15 139.2 1105.47 139.2 1107.44 138.55 1108.75 136.61 1109.41 133.37 1109.41 131.42M1122.55 131.42 1121.89 128.18 1120.58 126.24 1118.61 125.59 1117.29 125.59 1115.32 126.24 1114.01 128.18 1113.35 131.42 1113.35 133.37 1114.01 136.61 1115.32 138.55 1117.29 139.2 1118.61 139.2 1120.58 138.55 1121.89 136.61 1122.55 133.37 1122.55 131.42" stroke="#000" stroke-width="1.35" fill="none" stroke-linecap="round" stroke-linejoin="round"/>
</svg></body></html>
